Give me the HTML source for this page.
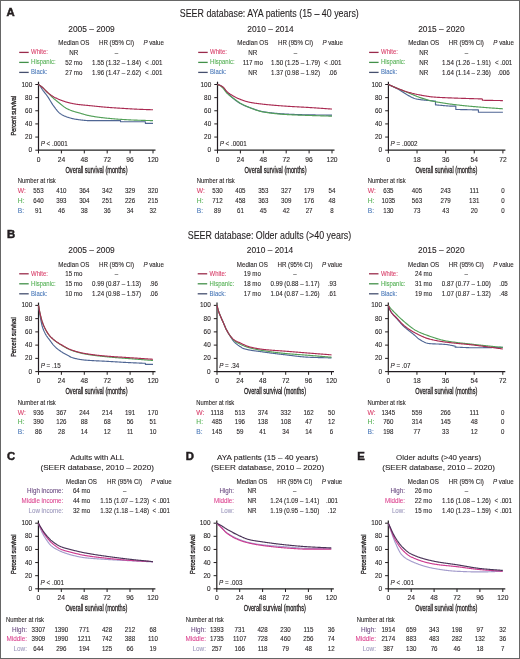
<!DOCTYPE html>
<html><head><meta charset="utf-8"><style>
html,body{margin:0;padding:0;background:#fff;}
svg{display:block;font-family:"Liberation Sans", sans-serif;}
</style></head><body>
<svg width="520" height="659" viewBox="0 0 520 659" font-family='"Liberation Sans", sans-serif' fill="#231f20">
<defs><filter id="bl" x="-5%" y="-5%" width="110%" height="110%"><feGaussianBlur stdDeviation="0.4"/></filter></defs>
<rect x="0" y="0" width="520" height="659" fill="#fff"/>
<g filter="url(#bl)">
<text x="91.50" y="31.80" font-size="8.9" text-anchor="middle" textLength="46.5" lengthAdjust="spacingAndGlyphs" stroke="#231f20" stroke-width="0.1">2005 – 2009</text>
<text x="73.80" y="44.80" font-size="7.13" text-anchor="middle" textLength="31.0" lengthAdjust="spacingAndGlyphs" stroke="#231f20" stroke-width="0.1">Median OS</text>
<text x="116.50" y="44.80" font-size="7.13" text-anchor="middle" textLength="35.1" lengthAdjust="spacingAndGlyphs" stroke="#231f20" stroke-width="0.1">HR (95% CI)</text>
<text x="153.70" y="44.80" font-size="7.13" text-anchor="middle" textLength="20.6" lengthAdjust="spacingAndGlyphs" stroke="#231f20" stroke-width="0.1"><tspan font-style="italic">P</tspan> value</text>
<text x="73.80" y="54.80" font-size="7.13" text-anchor="middle" textLength="9.0" lengthAdjust="spacingAndGlyphs" stroke="#231f20" stroke-width="0.1">NR</text>
<text x="116.50" y="54.80" font-size="7.13" text-anchor="middle" textLength="3.4" lengthAdjust="spacingAndGlyphs" stroke="#231f20" stroke-width="0.1">–</text>
<text x="73.80" y="64.80" font-size="7.13" text-anchor="middle" textLength="17.2" lengthAdjust="spacingAndGlyphs" stroke="#231f20" stroke-width="0.1">52 mo</text>
<text x="116.50" y="64.80" font-size="7.13" text-anchor="middle" textLength="48.9" lengthAdjust="spacingAndGlyphs" stroke="#231f20" stroke-width="0.1">1.55 (1.32 – 1.84)</text>
<text x="153.70" y="64.80" font-size="7.13" text-anchor="middle" textLength="17.4" lengthAdjust="spacingAndGlyphs" stroke="#231f20" stroke-width="0.1">&lt; .001</text>
<text x="73.80" y="74.80" font-size="7.13" text-anchor="middle" textLength="17.2" lengthAdjust="spacingAndGlyphs" stroke="#231f20" stroke-width="0.1">27 mo</text>
<text x="116.50" y="74.80" font-size="7.13" text-anchor="middle" textLength="48.9" lengthAdjust="spacingAndGlyphs" stroke="#231f20" stroke-width="0.1">1.96 (1.47 – 2.62)</text>
<text x="153.70" y="74.80" font-size="7.13" text-anchor="middle" textLength="17.4" lengthAdjust="spacingAndGlyphs" stroke="#231f20" stroke-width="0.1">&lt; .001</text>
<line x1="19.20" y1="52.40" x2="28.70" y2="52.40" stroke="#9a2c4c" stroke-width="1.3"/>
<text x="31.10" y="54.40" font-size="7.0" textLength="16.9" lengthAdjust="spacingAndGlyphs" fill="#d8406a" stroke="#d8406a" stroke-width="0.1">White:</text>
<line x1="19.20" y1="62.40" x2="28.70" y2="62.40" stroke="#43904a" stroke-width="1.3"/>
<text x="31.10" y="64.40" font-size="7.0" textLength="24.5" lengthAdjust="spacingAndGlyphs" fill="#55b055" stroke="#55b055" stroke-width="0.1">Hispanic:</text>
<line x1="19.20" y1="72.40" x2="28.70" y2="72.40" stroke="#45506e" stroke-width="1.3"/>
<text x="31.10" y="74.40" font-size="7.0" textLength="16.2" lengthAdjust="spacingAndGlyphs" fill="#4a78b8" stroke="#4a78b8" stroke-width="0.1">Black:</text>
<line x1="38.50" y1="81.70" x2="38.50" y2="150.70" stroke="#231f20" stroke-width="1.2"/>
<line x1="38.00" y1="150.20" x2="155.50" y2="150.20" stroke="#231f20" stroke-width="1.2"/>
<line x1="35.30" y1="150.20" x2="38.50" y2="150.20" stroke="#231f20" stroke-width="1"/>
<text x="32.20" y="152.20" font-size="6.72" text-anchor="end" textLength="3.6" lengthAdjust="spacingAndGlyphs" stroke="#231f20" stroke-width="0.1">0</text>
<line x1="35.30" y1="137.06" x2="38.50" y2="137.06" stroke="#231f20" stroke-width="1"/>
<text x="32.20" y="139.06" font-size="6.72" text-anchor="end" textLength="7.1" lengthAdjust="spacingAndGlyphs" stroke="#231f20" stroke-width="0.1">20</text>
<line x1="35.30" y1="123.92" x2="38.50" y2="123.92" stroke="#231f20" stroke-width="1"/>
<text x="32.20" y="125.92" font-size="6.72" text-anchor="end" textLength="7.1" lengthAdjust="spacingAndGlyphs" stroke="#231f20" stroke-width="0.1">40</text>
<line x1="35.30" y1="110.78" x2="38.50" y2="110.78" stroke="#231f20" stroke-width="1"/>
<text x="32.20" y="112.78" font-size="6.72" text-anchor="end" textLength="7.1" lengthAdjust="spacingAndGlyphs" stroke="#231f20" stroke-width="0.1">60</text>
<line x1="35.30" y1="97.64" x2="38.50" y2="97.64" stroke="#231f20" stroke-width="1"/>
<text x="32.20" y="99.64" font-size="6.72" text-anchor="end" textLength="7.1" lengthAdjust="spacingAndGlyphs" stroke="#231f20" stroke-width="0.1">80</text>
<line x1="35.30" y1="84.50" x2="38.50" y2="84.50" stroke="#231f20" stroke-width="1"/>
<text x="32.20" y="86.50" font-size="6.72" text-anchor="end" textLength="10.7" lengthAdjust="spacingAndGlyphs" stroke="#231f20" stroke-width="0.1">100</text>
<line x1="38.50" y1="150.20" x2="38.50" y2="153.40" stroke="#231f20" stroke-width="1"/>
<text x="38.50" y="161.80" font-size="6.7" text-anchor="middle" stroke="#231f20" stroke-width="0.1">0</text>
<line x1="61.40" y1="150.20" x2="61.40" y2="153.40" stroke="#231f20" stroke-width="1"/>
<text x="61.40" y="161.80" font-size="6.7" text-anchor="middle" stroke="#231f20" stroke-width="0.1">24</text>
<line x1="84.30" y1="150.20" x2="84.30" y2="153.40" stroke="#231f20" stroke-width="1"/>
<text x="84.30" y="161.80" font-size="6.7" text-anchor="middle" stroke="#231f20" stroke-width="0.1">48</text>
<line x1="107.20" y1="150.20" x2="107.20" y2="153.40" stroke="#231f20" stroke-width="1"/>
<text x="107.20" y="161.80" font-size="6.7" text-anchor="middle" stroke="#231f20" stroke-width="0.1">72</text>
<line x1="130.10" y1="150.20" x2="130.10" y2="153.40" stroke="#231f20" stroke-width="1"/>
<text x="130.10" y="161.80" font-size="6.7" text-anchor="middle" stroke="#231f20" stroke-width="0.1">96</text>
<line x1="153.00" y1="150.20" x2="153.00" y2="153.40" stroke="#231f20" stroke-width="1"/>
<text x="153.00" y="161.80" font-size="6.7" text-anchor="middle" stroke="#231f20" stroke-width="0.1">120</text>
<text x="40.70" y="146.30" font-size="7.24" textLength="27.0" lengthAdjust="spacingAndGlyphs" stroke="#231f20" stroke-width="0.1"><tspan font-style="italic">P</tspan> &lt; .0001</text>
<text x="65.50" y="172.50" font-size="8.3" textLength="62.0" lengthAdjust="spacingAndGlyphs" stroke="#231f20" stroke-width="0.3">Overall survival (months)</text>
<text x="0" y="0" font-size="7.2" text-anchor="middle" textLength="39.5" lengthAdjust="spacingAndGlyphs" stroke="#231f20" stroke-width="0.32" transform="translate(16.30,115.70) rotate(-90)">Percent survival</text>
<path d="M38.50,84.50 L38.98,84.97 L39.45,85.44 L39.93,85.92 L40.41,86.47 L40.89,87.13 L41.36,87.90 L41.84,88.70 L42.32,89.47 L42.79,90.17 L43.27,90.83 L43.75,91.46 L44.23,92.08 L44.70,92.69 L45.18,93.30 L45.66,93.90 L46.13,94.52 L46.61,95.14 L47.09,95.79 L47.56,96.46 L48.04,97.17 L48.52,97.90 L49.00,98.66 L49.47,99.44 L49.95,100.22 L50.43,101.01 L50.90,101.80 L51.38,102.58 L51.86,103.35 L52.34,104.10 L52.81,104.83 L53.29,105.52 L53.77,106.18 L54.24,106.82 L54.72,107.46 L55.20,108.10 L55.67,108.74 L56.15,109.36 L56.63,109.97 L57.11,110.56 L57.58,111.12 L58.06,111.65 L58.54,112.15 L59.01,112.62 L59.49,113.04 L59.97,113.41 L60.45,113.75 L60.92,114.07 L61.40,114.38 L61.88,114.67 L62.35,114.95 L62.83,115.21 L63.31,115.46 L63.79,115.70 L64.26,115.92 L64.74,116.13 L65.22,116.33 L65.69,116.52 L66.17,116.69 L66.65,116.86 L67.12,117.03 L67.60,117.19 L68.08,117.35 L68.56,117.50 L69.03,117.65 L69.51,117.79 L69.99,117.94 L70.46,118.07 L70.94,118.20 L71.42,118.33 L71.90,118.45 L72.37,118.57 L72.85,118.68 L73.33,118.79 L73.80,118.89 L74.28,118.98 L74.76,119.07 L75.24,119.16 L75.71,119.23 L76.19,119.31 L76.67,119.38 L77.14,119.44 L77.62,119.51 L78.10,119.58 L78.57,119.65 L79.05,119.71 L79.53,119.78 L80.01,119.84 L80.48,119.90 L80.96,119.97 L81.44,120.02 L81.91,120.08 L82.39,120.14 L82.87,120.19 L83.35,120.24 L83.82,120.29 L84.30,120.34 L84.78,120.38 L85.25,120.42 L85.73,120.46 L86.21,120.50 L86.69,120.53 L87.16,120.56 L87.64,120.58 L88.12,120.60 L88.59,120.61 L89.07,120.63 L89.55,120.63 L90.03,120.63 L90.50,120.63 L90.98,120.63 L91.46,120.63 L91.93,120.63 L92.41,120.63 L92.89,120.63 L93.36,120.63 L93.84,120.63 L94.32,120.63 L94.80,120.63 L95.27,120.63 L95.75,120.63 L96.23,120.63 L96.70,120.63 L97.18,120.63 L97.66,120.63 L98.14,120.63 L98.61,120.63 L99.09,120.63 L99.57,120.63 L100.04,120.63 L100.52,120.63 L101.00,120.63 L101.48,120.63 L101.95,120.63 L102.43,120.63 L102.91,120.63 L103.38,120.63 L103.86,120.63 L104.34,120.63 L104.81,120.63 L105.29,120.63 L105.77,120.63 L106.25,120.63 L106.72,120.63 L107.20,120.63 L107.68,120.63 L108.15,120.63 L108.63,120.63 L109.11,120.63 L109.59,120.63 L110.06,120.63 L110.54,120.63 L111.02,120.63 L111.49,120.63 L111.97,120.63 L112.45,120.63 L112.92,120.63 L113.40,120.63 L113.88,120.63 L114.36,120.63 L114.83,120.63 L115.31,120.63 L115.79,120.63 L116.26,120.63 L116.74,120.63 L117.22,120.63 L117.70,120.63 L118.17,120.63 L118.65,120.63 L119.13,120.63 L119.60,120.63 L120.08,120.63 L120.56,120.63 L120.56,121.75 L121.04,121.75 L121.51,121.75 L121.99,121.75 L122.47,121.75 L122.94,121.75 L123.42,121.75 L123.90,121.75 L124.38,121.75 L124.85,121.75 L125.33,121.75 L125.81,121.75 L126.28,121.75 L126.76,121.75 L127.24,121.75 L127.71,121.75 L128.19,121.75 L128.67,121.75 L129.15,121.75 L129.62,121.75 L130.10,121.75 L130.58,121.75 L131.05,121.75 L131.53,121.75 L132.01,121.75 L132.49,121.75 L132.96,121.75 L133.44,121.75 L133.92,121.75 L134.39,121.75 L134.87,121.75 L135.35,121.75 L135.82,121.75 L136.30,121.75 L136.78,121.75 L137.26,121.75 L137.73,121.75 L138.21,121.75 L138.69,121.75 L139.16,121.75 L139.64,121.75 L140.12,121.75 L140.60,121.75 L141.07,121.75 L141.55,121.75 L142.03,121.75 L142.50,121.75 L142.98,121.75 L143.46,121.75 L143.94,121.75 L144.41,121.75 L144.89,121.75 L145.37,121.75 L145.37,123.33 L145.84,123.33 L146.32,123.33 L146.80,123.33 L147.27,123.33 L147.75,123.33 L148.23,123.33 L148.71,123.33 L149.18,123.33 L149.66,123.33 L150.14,123.33 L150.61,123.33 L151.09,123.33 L151.57,123.33 L152.05,123.33 L152.52,123.33 L153.00,123.33" fill="none" stroke="#4f6694" stroke-width="1.15" stroke-linejoin="round"/>
<path d="M38.50,84.50 L38.98,84.82 L39.45,85.14 L39.93,85.45 L40.41,85.77 L40.89,86.11 L41.36,86.47 L41.84,86.86 L42.32,87.28 L42.79,87.72 L43.27,88.18 L43.75,88.64 L44.23,89.10 L44.70,89.57 L45.18,90.04 L45.66,90.53 L46.13,91.02 L46.61,91.51 L47.09,92.00 L47.56,92.48 L48.04,92.96 L48.52,93.44 L49.00,93.92 L49.47,94.41 L49.95,94.89 L50.43,95.37 L50.90,95.85 L51.38,96.32 L51.86,96.78 L52.34,97.24 L52.81,97.69 L53.29,98.13 L53.77,98.56 L54.24,98.98 L54.72,99.38 L55.20,99.78 L55.67,100.17 L56.15,100.56 L56.63,100.94 L57.11,101.32 L57.58,101.69 L58.06,102.06 L58.54,102.43 L59.01,102.80 L59.49,103.18 L59.97,103.55 L60.45,103.94 L60.92,104.33 L61.40,104.73 L61.88,105.13 L62.35,105.53 L62.83,105.92 L63.31,106.30 L63.79,106.66 L64.26,107.00 L64.74,107.32 L65.22,107.61 L65.69,107.89 L66.17,108.16 L66.65,108.42 L67.12,108.67 L67.60,108.92 L68.08,109.16 L68.56,109.38 L69.03,109.61 L69.51,109.82 L69.99,110.03 L70.46,110.23 L70.94,110.42 L71.42,110.60 L71.90,110.78 L72.37,110.95 L72.85,111.11 L73.33,111.27 L73.80,111.42 L74.28,111.56 L74.76,111.70 L75.24,111.83 L75.71,111.97 L76.19,112.10 L76.67,112.23 L77.14,112.36 L77.62,112.49 L78.10,112.62 L78.57,112.75 L79.05,112.89 L79.53,113.02 L80.01,113.16 L80.48,113.30 L80.96,113.45 L81.44,113.59 L81.91,113.73 L82.39,113.87 L82.87,114.01 L83.35,114.15 L83.82,114.29 L84.30,114.43 L84.78,114.57 L85.25,114.70 L85.73,114.83 L86.21,114.96 L86.69,115.08 L87.16,115.20 L87.64,115.32 L88.12,115.43 L88.59,115.54 L89.07,115.65 L89.55,115.75 L90.03,115.84 L90.50,115.93 L90.98,116.02 L91.46,116.10 L91.93,116.19 L92.41,116.27 L92.89,116.35 L93.36,116.43 L93.84,116.51 L94.32,116.58 L94.80,116.66 L95.27,116.73 L95.75,116.81 L96.23,116.88 L96.70,116.95 L97.18,117.01 L97.66,117.08 L98.14,117.15 L98.61,117.21 L99.09,117.28 L99.57,117.34 L100.04,117.40 L100.52,117.46 L101.00,117.52 L101.48,117.58 L101.95,117.63 L102.43,117.69 L102.91,117.74 L103.38,117.80 L103.86,117.85 L104.34,117.90 L104.81,117.96 L105.29,118.01 L105.77,118.06 L106.25,118.11 L106.72,118.16 L107.20,118.20 L107.68,118.25 L108.15,118.30 L108.63,118.35 L109.11,118.39 L109.59,118.44 L110.06,118.48 L110.54,118.53 L111.02,118.57 L111.49,118.62 L111.97,118.66 L112.45,118.70 L112.92,118.74 L113.40,118.79 L113.88,118.83 L114.36,118.87 L114.83,118.91 L115.31,118.95 L115.79,118.98 L116.26,119.02 L116.74,119.06 L117.22,119.10 L117.70,119.13 L118.17,119.17 L118.65,119.20 L119.13,119.24 L119.60,119.27 L120.08,119.30 L120.56,119.34 L121.04,119.37 L121.51,119.40 L121.99,119.43 L122.47,119.46 L122.94,119.49 L123.42,119.52 L123.90,119.55 L124.38,119.57 L124.85,119.60 L125.33,119.63 L125.81,119.66 L126.28,119.68 L126.76,119.71 L127.24,119.73 L127.71,119.76 L128.19,119.79 L128.67,119.81 L129.15,119.83 L129.62,119.86 L130.10,119.88 L130.58,119.90 L131.05,119.93 L131.53,119.95 L132.01,119.97 L132.49,119.99 L132.96,120.01 L133.44,120.04 L133.92,120.06 L134.39,120.08 L134.87,120.10 L135.35,120.12 L135.82,120.13 L136.30,120.15 L136.78,120.17 L137.26,120.19 L137.73,120.21 L138.21,120.22 L138.69,120.24 L139.16,120.26 L139.64,120.27 L140.12,120.29 L140.60,120.30 L141.07,120.32 L141.55,120.33 L142.03,120.35 L142.50,120.36 L142.98,120.37 L143.46,120.39 L143.94,120.40 L144.41,120.41 L144.89,120.43 L145.37,120.44 L145.84,120.45 L146.32,120.46 L146.80,120.48 L147.27,120.49 L147.75,120.50 L148.23,120.51 L148.71,120.52 L149.18,120.54 L149.66,120.55 L150.14,120.56 L150.61,120.57 L151.09,120.58 L151.57,120.60 L152.05,120.61 L152.52,120.62 L153.00,120.63" fill="none" stroke="#52a058" stroke-width="1.15" stroke-linejoin="round"/>
<path d="M38.50,84.50 L38.98,84.82 L39.45,85.14 L39.93,85.45 L40.41,85.77 L40.89,86.11 L41.36,86.47 L41.84,86.86 L42.32,87.28 L42.79,87.72 L43.27,88.18 L43.75,88.64 L44.23,89.10 L44.70,89.57 L45.18,90.07 L45.66,90.58 L46.13,91.08 L46.61,91.57 L47.09,92.04 L47.56,92.47 L48.04,92.87 L48.52,93.27 L49.00,93.65 L49.47,94.03 L49.95,94.39 L50.43,94.75 L50.90,95.09 L51.38,95.42 L51.86,95.73 L52.34,96.04 L52.81,96.33 L53.29,96.60 L53.77,96.88 L54.24,97.14 L54.72,97.40 L55.20,97.64 L55.67,97.89 L56.15,98.12 L56.63,98.35 L57.11,98.58 L57.58,98.80 L58.06,99.01 L58.54,99.22 L59.01,99.42 L59.49,99.62 L59.97,99.81 L60.45,100.00 L60.92,100.18 L61.40,100.37 L61.88,100.55 L62.35,100.72 L62.83,100.89 L63.31,101.06 L63.79,101.22 L64.26,101.38 L64.74,101.54 L65.22,101.69 L65.69,101.83 L66.17,101.97 L66.65,102.11 L67.12,102.24 L67.60,102.37 L68.08,102.49 L68.56,102.61 L69.03,102.73 L69.51,102.85 L69.99,102.97 L70.46,103.08 L70.94,103.19 L71.42,103.30 L71.90,103.41 L72.37,103.51 L72.85,103.61 L73.33,103.70 L73.80,103.79 L74.28,103.88 L74.76,103.97 L75.24,104.05 L75.71,104.12 L76.19,104.20 L76.67,104.26 L77.14,104.33 L77.62,104.39 L78.10,104.46 L78.57,104.51 L79.05,104.57 L79.53,104.63 L80.01,104.68 L80.48,104.73 L80.96,104.79 L81.44,104.84 L81.91,104.88 L82.39,104.93 L82.87,104.98 L83.35,105.02 L83.82,105.07 L84.30,105.11 L84.78,105.16 L85.25,105.20 L85.73,105.25 L86.21,105.29 L86.69,105.33 L87.16,105.38 L87.64,105.42 L88.12,105.47 L88.59,105.51 L89.07,105.56 L89.55,105.61 L90.03,105.66 L90.50,105.70 L90.98,105.75 L91.46,105.80 L91.93,105.85 L92.41,105.90 L92.89,105.95 L93.36,106.00 L93.84,106.05 L94.32,106.10 L94.80,106.15 L95.27,106.20 L95.75,106.25 L96.23,106.30 L96.70,106.35 L97.18,106.40 L97.66,106.45 L98.14,106.50 L98.61,106.55 L99.09,106.60 L99.57,106.64 L100.04,106.69 L100.52,106.74 L101.00,106.78 L101.48,106.83 L101.95,106.87 L102.43,106.92 L102.91,106.96 L103.38,107.00 L103.86,107.05 L104.34,107.09 L104.81,107.13 L105.29,107.17 L105.77,107.21 L106.25,107.24 L106.72,107.28 L107.20,107.32 L107.68,107.36 L108.15,107.39 L108.63,107.43 L109.11,107.46 L109.59,107.50 L110.06,107.53 L110.54,107.57 L111.02,107.60 L111.49,107.64 L111.97,107.67 L112.45,107.71 L112.92,107.74 L113.40,107.77 L113.88,107.80 L114.36,107.84 L114.83,107.87 L115.31,107.90 L115.79,107.93 L116.26,107.96 L116.74,107.99 L117.22,108.03 L117.70,108.06 L118.17,108.09 L118.65,108.12 L119.13,108.15 L119.60,108.18 L120.08,108.21 L120.56,108.24 L121.04,108.27 L121.51,108.30 L121.99,108.33 L122.47,108.36 L122.94,108.39 L123.42,108.41 L123.90,108.44 L124.38,108.47 L124.85,108.50 L125.33,108.53 L125.81,108.56 L126.28,108.59 L126.76,108.62 L127.24,108.65 L127.71,108.68 L128.19,108.71 L128.67,108.73 L129.15,108.76 L129.62,108.79 L130.10,108.82 L130.58,108.85 L131.05,108.87 L131.53,108.90 L132.01,108.93 L132.49,108.96 L132.96,108.98 L133.44,109.01 L133.92,109.03 L134.39,109.06 L134.87,109.08 L135.35,109.11 L135.82,109.13 L136.30,109.16 L136.78,109.18 L137.26,109.20 L137.73,109.23 L138.21,109.25 L138.69,109.27 L139.16,109.29 L139.64,109.31 L140.12,109.33 L140.60,109.35 L141.07,109.37 L141.55,109.39 L142.03,109.41 L142.50,109.42 L142.98,109.44 L143.46,109.46 L143.94,109.48 L144.41,109.49 L144.89,109.51 L145.37,109.53 L145.84,109.55 L146.32,109.56 L146.80,109.58 L147.27,109.59 L147.75,109.61 L148.23,109.63 L148.71,109.64 L149.18,109.66 L149.66,109.68 L150.14,109.69 L150.61,109.71 L151.09,109.73 L151.57,109.74 L152.05,109.76 L152.52,109.78 L153.00,109.79" fill="none" stroke="#aa2c52" stroke-width="1.15" stroke-linejoin="round"/>
<text x="17.80" y="183.20" font-size="7.0" textLength="38.0" lengthAdjust="spacingAndGlyphs" stroke="#231f20" stroke-width="0.1">Number at risk</text>
<text x="17.80" y="193.10" font-size="7.7" textLength="8.1" lengthAdjust="spacingAndGlyphs" fill="#d8406a" stroke="#d8406a" stroke-width="0.1">W:</text>
<text x="38.50" y="193.10" font-size="7.13" text-anchor="middle" textLength="10.3" lengthAdjust="spacingAndGlyphs" stroke="#231f20" stroke-width="0.1">553</text>
<text x="61.40" y="193.10" font-size="7.13" text-anchor="middle" textLength="10.3" lengthAdjust="spacingAndGlyphs" stroke="#231f20" stroke-width="0.1">410</text>
<text x="84.30" y="193.10" font-size="7.13" text-anchor="middle" textLength="10.3" lengthAdjust="spacingAndGlyphs" stroke="#231f20" stroke-width="0.1">364</text>
<text x="107.20" y="193.10" font-size="7.13" text-anchor="middle" textLength="10.3" lengthAdjust="spacingAndGlyphs" stroke="#231f20" stroke-width="0.1">342</text>
<text x="130.10" y="193.10" font-size="7.13" text-anchor="middle" textLength="10.3" lengthAdjust="spacingAndGlyphs" stroke="#231f20" stroke-width="0.1">329</text>
<text x="153.00" y="193.10" font-size="7.13" text-anchor="middle" textLength="10.3" lengthAdjust="spacingAndGlyphs" stroke="#231f20" stroke-width="0.1">320</text>
<text x="17.80" y="202.85" font-size="7.7" textLength="6.7" lengthAdjust="spacingAndGlyphs" fill="#55b055" stroke="#55b055" stroke-width="0.1">H:</text>
<text x="38.50" y="202.85" font-size="7.13" text-anchor="middle" textLength="10.3" lengthAdjust="spacingAndGlyphs" stroke="#231f20" stroke-width="0.1">640</text>
<text x="61.40" y="202.85" font-size="7.13" text-anchor="middle" textLength="10.3" lengthAdjust="spacingAndGlyphs" stroke="#231f20" stroke-width="0.1">393</text>
<text x="84.30" y="202.85" font-size="7.13" text-anchor="middle" textLength="10.3" lengthAdjust="spacingAndGlyphs" stroke="#231f20" stroke-width="0.1">304</text>
<text x="107.20" y="202.85" font-size="7.13" text-anchor="middle" textLength="10.3" lengthAdjust="spacingAndGlyphs" stroke="#231f20" stroke-width="0.1">251</text>
<text x="130.10" y="202.85" font-size="7.13" text-anchor="middle" textLength="10.3" lengthAdjust="spacingAndGlyphs" stroke="#231f20" stroke-width="0.1">226</text>
<text x="153.00" y="202.85" font-size="7.13" text-anchor="middle" textLength="10.3" lengthAdjust="spacingAndGlyphs" stroke="#231f20" stroke-width="0.1">215</text>
<text x="17.80" y="212.60" font-size="7.7" textLength="6.3" lengthAdjust="spacingAndGlyphs" fill="#4a78b8" stroke="#4a78b8" stroke-width="0.1">B:</text>
<text x="38.50" y="212.60" font-size="7.13" text-anchor="middle" textLength="6.9" lengthAdjust="spacingAndGlyphs" stroke="#231f20" stroke-width="0.1">91</text>
<text x="61.40" y="212.60" font-size="7.13" text-anchor="middle" textLength="6.9" lengthAdjust="spacingAndGlyphs" stroke="#231f20" stroke-width="0.1">46</text>
<text x="84.30" y="212.60" font-size="7.13" text-anchor="middle" textLength="6.9" lengthAdjust="spacingAndGlyphs" stroke="#231f20" stroke-width="0.1">38</text>
<text x="107.20" y="212.60" font-size="7.13" text-anchor="middle" textLength="6.9" lengthAdjust="spacingAndGlyphs" stroke="#231f20" stroke-width="0.1">36</text>
<text x="130.10" y="212.60" font-size="7.13" text-anchor="middle" textLength="6.9" lengthAdjust="spacingAndGlyphs" stroke="#231f20" stroke-width="0.1">34</text>
<text x="153.00" y="212.60" font-size="7.13" text-anchor="middle" textLength="6.9" lengthAdjust="spacingAndGlyphs" stroke="#231f20" stroke-width="0.1">32</text>
<text x="270.50" y="31.80" font-size="8.9" text-anchor="middle" textLength="46.5" lengthAdjust="spacingAndGlyphs" stroke="#231f20" stroke-width="0.1">2010 – 2014</text>
<text x="252.80" y="44.80" font-size="7.13" text-anchor="middle" textLength="31.0" lengthAdjust="spacingAndGlyphs" stroke="#231f20" stroke-width="0.1">Median OS</text>
<text x="295.50" y="44.80" font-size="7.13" text-anchor="middle" textLength="35.1" lengthAdjust="spacingAndGlyphs" stroke="#231f20" stroke-width="0.1">HR (95% CI)</text>
<text x="332.70" y="44.80" font-size="7.13" text-anchor="middle" textLength="20.6" lengthAdjust="spacingAndGlyphs" stroke="#231f20" stroke-width="0.1"><tspan font-style="italic">P</tspan> value</text>
<text x="252.80" y="54.80" font-size="7.13" text-anchor="middle" textLength="9.0" lengthAdjust="spacingAndGlyphs" stroke="#231f20" stroke-width="0.1">NR</text>
<text x="295.50" y="54.80" font-size="7.13" text-anchor="middle" textLength="3.4" lengthAdjust="spacingAndGlyphs" stroke="#231f20" stroke-width="0.1">–</text>
<text x="252.80" y="64.80" font-size="7.13" text-anchor="middle" textLength="20.2" lengthAdjust="spacingAndGlyphs" stroke="#231f20" stroke-width="0.1">117 mo</text>
<text x="295.50" y="64.80" font-size="7.13" text-anchor="middle" textLength="48.9" lengthAdjust="spacingAndGlyphs" stroke="#231f20" stroke-width="0.1">1.50 (1.25 – 1.79)</text>
<text x="332.70" y="64.80" font-size="7.13" text-anchor="middle" textLength="17.4" lengthAdjust="spacingAndGlyphs" stroke="#231f20" stroke-width="0.1">&lt; .001</text>
<text x="252.80" y="74.80" font-size="7.13" text-anchor="middle" textLength="9.0" lengthAdjust="spacingAndGlyphs" stroke="#231f20" stroke-width="0.1">NR</text>
<text x="295.50" y="74.80" font-size="7.13" text-anchor="middle" textLength="48.9" lengthAdjust="spacingAndGlyphs" stroke="#231f20" stroke-width="0.1">1.37 (0.98 – 1.92)</text>
<text x="332.70" y="74.80" font-size="7.13" text-anchor="middle" textLength="8.6" lengthAdjust="spacingAndGlyphs" stroke="#231f20" stroke-width="0.1">.06</text>
<line x1="198.20" y1="52.40" x2="207.70" y2="52.40" stroke="#9a2c4c" stroke-width="1.3"/>
<text x="210.10" y="54.40" font-size="7.0" textLength="16.9" lengthAdjust="spacingAndGlyphs" fill="#d8406a" stroke="#d8406a" stroke-width="0.1">White:</text>
<line x1="198.20" y1="62.40" x2="207.70" y2="62.40" stroke="#43904a" stroke-width="1.3"/>
<text x="210.10" y="64.40" font-size="7.0" textLength="24.5" lengthAdjust="spacingAndGlyphs" fill="#55b055" stroke="#55b055" stroke-width="0.1">Hispanic:</text>
<line x1="198.20" y1="72.40" x2="207.70" y2="72.40" stroke="#45506e" stroke-width="1.3"/>
<text x="210.10" y="74.40" font-size="7.0" textLength="16.2" lengthAdjust="spacingAndGlyphs" fill="#4a78b8" stroke="#4a78b8" stroke-width="0.1">Black:</text>
<line x1="217.50" y1="81.70" x2="217.50" y2="150.70" stroke="#231f20" stroke-width="1.2"/>
<line x1="217.00" y1="150.20" x2="334.50" y2="150.20" stroke="#231f20" stroke-width="1.2"/>
<line x1="214.30" y1="150.20" x2="217.50" y2="150.20" stroke="#231f20" stroke-width="1"/>
<text x="211.20" y="152.20" font-size="6.72" text-anchor="end" textLength="3.6" lengthAdjust="spacingAndGlyphs" stroke="#231f20" stroke-width="0.1">0</text>
<line x1="214.30" y1="137.06" x2="217.50" y2="137.06" stroke="#231f20" stroke-width="1"/>
<text x="211.20" y="139.06" font-size="6.72" text-anchor="end" textLength="7.1" lengthAdjust="spacingAndGlyphs" stroke="#231f20" stroke-width="0.1">20</text>
<line x1="214.30" y1="123.92" x2="217.50" y2="123.92" stroke="#231f20" stroke-width="1"/>
<text x="211.20" y="125.92" font-size="6.72" text-anchor="end" textLength="7.1" lengthAdjust="spacingAndGlyphs" stroke="#231f20" stroke-width="0.1">40</text>
<line x1="214.30" y1="110.78" x2="217.50" y2="110.78" stroke="#231f20" stroke-width="1"/>
<text x="211.20" y="112.78" font-size="6.72" text-anchor="end" textLength="7.1" lengthAdjust="spacingAndGlyphs" stroke="#231f20" stroke-width="0.1">60</text>
<line x1="214.30" y1="97.64" x2="217.50" y2="97.64" stroke="#231f20" stroke-width="1"/>
<text x="211.20" y="99.64" font-size="6.72" text-anchor="end" textLength="7.1" lengthAdjust="spacingAndGlyphs" stroke="#231f20" stroke-width="0.1">80</text>
<line x1="214.30" y1="84.50" x2="217.50" y2="84.50" stroke="#231f20" stroke-width="1"/>
<text x="211.20" y="86.50" font-size="6.72" text-anchor="end" textLength="10.7" lengthAdjust="spacingAndGlyphs" stroke="#231f20" stroke-width="0.1">100</text>
<line x1="217.50" y1="150.20" x2="217.50" y2="153.40" stroke="#231f20" stroke-width="1"/>
<text x="217.50" y="161.80" font-size="6.7" text-anchor="middle" stroke="#231f20" stroke-width="0.1">0</text>
<line x1="240.40" y1="150.20" x2="240.40" y2="153.40" stroke="#231f20" stroke-width="1"/>
<text x="240.40" y="161.80" font-size="6.7" text-anchor="middle" stroke="#231f20" stroke-width="0.1">24</text>
<line x1="263.30" y1="150.20" x2="263.30" y2="153.40" stroke="#231f20" stroke-width="1"/>
<text x="263.30" y="161.80" font-size="6.7" text-anchor="middle" stroke="#231f20" stroke-width="0.1">48</text>
<line x1="286.20" y1="150.20" x2="286.20" y2="153.40" stroke="#231f20" stroke-width="1"/>
<text x="286.20" y="161.80" font-size="6.7" text-anchor="middle" stroke="#231f20" stroke-width="0.1">72</text>
<line x1="309.10" y1="150.20" x2="309.10" y2="153.40" stroke="#231f20" stroke-width="1"/>
<text x="309.10" y="161.80" font-size="6.7" text-anchor="middle" stroke="#231f20" stroke-width="0.1">96</text>
<line x1="332.00" y1="150.20" x2="332.00" y2="153.40" stroke="#231f20" stroke-width="1"/>
<text x="332.00" y="161.80" font-size="6.7" text-anchor="middle" stroke="#231f20" stroke-width="0.1">120</text>
<text x="219.70" y="146.30" font-size="7.24" textLength="27.0" lengthAdjust="spacingAndGlyphs" stroke="#231f20" stroke-width="0.1"><tspan font-style="italic">P</tspan> &lt; .0001</text>
<text x="244.50" y="172.50" font-size="8.3" textLength="62.0" lengthAdjust="spacingAndGlyphs" stroke="#231f20" stroke-width="0.3">Overall survival (months)</text>
<path d="M217.50,84.50 L217.98,84.66 L218.45,84.80 L218.93,84.94 L219.41,85.10 L219.89,85.28 L220.36,85.49 L220.84,85.75 L221.32,86.08 L221.79,86.46 L222.27,86.88 L222.75,87.33 L223.22,87.78 L223.70,88.28 L224.18,88.84 L224.66,89.44 L225.13,90.06 L225.61,90.69 L226.09,91.29 L226.56,91.87 L227.04,92.39 L227.52,92.90 L228.00,93.40 L228.47,93.89 L228.95,94.37 L229.43,94.85 L229.90,95.32 L230.38,95.78 L230.86,96.23 L231.34,96.68 L231.81,97.11 L232.29,97.54 L232.77,97.96 L233.24,98.37 L233.72,98.78 L234.20,99.17 L234.68,99.56 L235.15,99.94 L235.63,100.31 L236.11,100.68 L236.58,101.04 L237.06,101.39 L237.54,101.74 L238.01,102.07 L238.49,102.39 L238.97,102.70 L239.45,103.00 L239.92,103.29 L240.40,103.55 L240.88,103.81 L241.35,104.06 L241.83,104.30 L242.31,104.53 L242.79,104.76 L243.26,104.99 L243.74,105.20 L244.22,105.42 L244.69,105.62 L245.17,105.83 L245.65,106.03 L246.12,106.22 L246.60,106.41 L247.08,106.60 L247.56,106.78 L248.03,106.96 L248.51,107.14 L248.99,107.32 L249.46,107.49 L249.94,107.67 L250.42,107.85 L250.90,108.02 L251.37,108.20 L251.85,108.38 L252.33,108.55 L252.80,108.73 L253.28,108.90 L253.76,109.07 L254.24,109.25 L254.71,109.42 L255.19,109.58 L255.67,109.75 L256.14,109.91 L256.62,110.07 L257.10,110.22 L257.57,110.37 L258.05,110.52 L258.53,110.66 L259.01,110.80 L259.48,110.93 L259.96,111.06 L260.44,111.18 L260.91,111.29 L261.39,111.40 L261.87,111.50 L262.35,111.60 L262.82,111.69 L263.30,111.77 L263.78,111.84 L264.25,111.91 L264.73,111.99 L265.21,112.06 L265.69,112.13 L266.16,112.19 L266.64,112.26 L267.12,112.33 L267.59,112.39 L268.07,112.46 L268.55,112.52 L269.02,112.58 L269.50,112.64 L269.98,112.70 L270.46,112.75 L270.93,112.81 L271.41,112.87 L271.89,112.92 L272.36,112.97 L272.84,113.03 L273.32,113.08 L273.80,113.13 L274.27,113.17 L274.75,113.22 L275.23,113.27 L275.70,113.31 L276.18,113.36 L276.66,113.40 L277.14,113.44 L277.61,113.48 L278.09,113.52 L278.57,113.56 L279.04,113.60 L279.52,113.64 L280.00,113.67 L280.48,113.71 L280.95,113.74 L281.43,113.78 L281.91,113.81 L282.38,113.84 L282.86,113.87 L283.34,113.90 L283.81,113.93 L284.29,113.96 L284.77,113.99 L285.25,114.01 L285.72,114.04 L286.20,114.06 L286.68,114.09 L287.15,114.11 L287.63,114.14 L288.11,114.16 L288.59,114.18 L289.06,114.21 L289.54,114.23 L290.02,114.25 L290.49,114.27 L290.97,114.29 L291.45,114.31 L291.93,114.33 L292.40,114.36 L292.88,114.38 L293.36,114.39 L293.83,114.41 L294.31,114.43 L294.79,114.45 L295.26,114.47 L295.74,114.49 L296.22,114.51 L296.70,114.52 L297.17,114.54 L297.65,114.56 L298.13,114.57 L298.60,114.59 L299.08,114.60 L299.56,114.62 L300.04,114.63 L300.51,114.65 L300.99,114.66 L301.47,114.68 L301.94,114.69 L302.42,114.70 L302.90,114.72 L303.38,114.73 L303.85,114.74 L304.33,114.75 L304.81,114.77 L305.28,114.78 L305.76,114.79 L306.24,114.80 L306.71,114.81 L307.19,114.82 L307.67,114.83 L308.15,114.84 L308.62,114.85 L309.10,114.85 L309.58,114.86 L310.05,114.87 L310.53,114.88 L311.01,114.88 L311.49,114.89 L311.96,114.90 L312.44,114.91 L312.92,114.91 L313.39,114.92 L313.87,114.93 L314.35,114.93 L314.82,114.94 L315.30,114.94 L315.78,114.95 L316.26,114.95 L316.73,114.96 L317.21,114.97 L317.69,114.97 L318.16,114.98 L318.64,114.98 L319.12,114.99 L319.60,114.99 L320.07,115.00 L320.55,115.00 L321.03,115.01 L321.50,115.01 L321.98,115.02 L322.46,115.02 L322.94,115.02 L323.41,115.03 L323.89,115.03 L324.37,115.04 L324.84,115.04 L325.32,115.05 L325.80,115.05 L326.27,115.06 L326.75,115.06 L327.23,115.07 L327.71,115.07 L328.18,115.08 L328.66,115.08 L329.14,115.09 L329.61,115.09 L330.09,115.10 L330.57,115.10 L331.05,115.11 L331.52,115.11 L332.00,115.12" fill="none" stroke="#4f6694" stroke-width="1.15" stroke-linejoin="round"/>
<path d="M217.50,84.50 L217.98,84.71 L218.45,84.91 L218.93,85.10 L219.41,85.31 L219.89,85.54 L220.36,85.81 L220.84,86.14 L221.32,86.53 L221.79,86.97 L222.27,87.44 L222.75,87.94 L223.22,88.44 L223.70,88.99 L224.18,89.59 L224.66,90.24 L225.13,90.90 L225.61,91.55 L226.09,92.17 L226.56,92.74 L227.04,93.23 L227.52,93.69 L228.00,94.14 L228.47,94.56 L228.95,94.98 L229.43,95.37 L229.90,95.76 L230.38,96.14 L230.86,96.50 L231.34,96.86 L231.81,97.21 L232.29,97.56 L232.77,97.90 L233.24,98.24 L233.72,98.58 L234.20,98.92 L234.68,99.26 L235.15,99.61 L235.63,99.96 L236.11,100.31 L236.58,100.66 L237.06,101.01 L237.54,101.36 L238.01,101.69 L238.49,102.02 L238.97,102.34 L239.45,102.65 L239.92,102.94 L240.40,103.22 L240.88,103.49 L241.35,103.76 L241.83,104.01 L242.31,104.27 L242.79,104.51 L243.26,104.76 L243.74,104.99 L244.22,105.22 L244.69,105.45 L245.17,105.68 L245.65,105.89 L246.12,106.11 L246.60,106.32 L247.08,106.52 L247.56,106.73 L248.03,106.92 L248.51,107.12 L248.99,107.31 L249.46,107.49 L249.94,107.68 L250.42,107.87 L250.90,108.05 L251.37,108.24 L251.85,108.42 L252.33,108.61 L252.80,108.79 L253.28,108.97 L253.76,109.15 L254.24,109.33 L254.71,109.51 L255.19,109.68 L255.67,109.85 L256.14,110.02 L256.62,110.18 L257.10,110.34 L257.57,110.50 L258.05,110.65 L258.53,110.80 L259.01,110.94 L259.48,111.08 L259.96,111.21 L260.44,111.34 L260.91,111.46 L261.39,111.57 L261.87,111.68 L262.35,111.78 L262.82,111.88 L263.30,111.96 L263.78,112.04 L264.25,112.13 L264.73,112.20 L265.21,112.28 L265.69,112.36 L266.16,112.43 L266.64,112.51 L267.12,112.58 L267.59,112.65 L268.07,112.72 L268.55,112.79 L269.02,112.86 L269.50,112.92 L269.98,112.99 L270.46,113.05 L270.93,113.11 L271.41,113.18 L271.89,113.24 L272.36,113.29 L272.84,113.35 L273.32,113.41 L273.80,113.46 L274.27,113.52 L274.75,113.57 L275.23,113.62 L275.70,113.67 L276.18,113.72 L276.66,113.77 L277.14,113.82 L277.61,113.86 L278.09,113.91 L278.57,113.95 L279.04,114.00 L279.52,114.04 L280.00,114.08 L280.48,114.12 L280.95,114.16 L281.43,114.20 L281.91,114.23 L282.38,114.27 L282.86,114.31 L283.34,114.34 L283.81,114.37 L284.29,114.40 L284.77,114.44 L285.25,114.47 L285.72,114.50 L286.20,114.52 L286.68,114.55 L287.15,114.58 L287.63,114.61 L288.11,114.63 L288.59,114.66 L289.06,114.68 L289.54,114.71 L290.02,114.73 L290.49,114.75 L290.97,114.78 L291.45,114.80 L291.93,114.82 L292.40,114.84 L292.88,114.86 L293.36,114.88 L293.83,114.90 L294.31,114.92 L294.79,114.94 L295.26,114.96 L295.74,114.98 L296.22,115.00 L296.70,115.02 L297.17,115.04 L297.65,115.05 L298.13,115.07 L298.60,115.09 L299.08,115.10 L299.56,115.12 L300.04,115.14 L300.51,115.15 L300.99,115.17 L301.47,115.19 L301.94,115.20 L302.42,115.22 L302.90,115.23 L303.38,115.25 L303.85,115.27 L304.33,115.28 L304.81,115.30 L305.28,115.31 L305.76,115.33 L306.24,115.35 L306.71,115.36 L307.19,115.38 L307.67,115.39 L308.15,115.41 L308.62,115.43 L309.10,115.44 L309.58,115.46 L310.05,115.48 L310.53,115.49 L311.01,115.51 L311.49,115.53 L311.96,115.54 L312.44,115.56 L312.92,115.58 L313.39,115.59 L313.87,115.61 L314.35,115.62 L314.82,115.64 L315.30,115.65 L315.78,115.67 L316.26,115.68 L316.73,115.70 L317.21,115.71 L317.69,115.73 L318.16,115.74 L318.64,115.76 L319.12,115.77 L319.60,115.79 L320.07,115.80 L320.55,115.82 L321.03,115.83 L321.50,115.85 L321.98,115.86 L322.46,115.88 L322.94,115.89 L323.41,115.90 L323.89,115.92 L324.37,115.93 L324.84,115.95 L325.32,115.96 L325.80,115.98 L326.27,115.99 L326.75,116.01 L327.23,116.02 L327.71,116.03 L328.18,116.05 L328.66,116.06 L329.14,116.08 L329.61,116.09 L330.09,116.11 L330.57,116.12 L331.05,116.14 L331.52,116.15 L332.00,116.17" fill="none" stroke="#52a058" stroke-width="1.15" stroke-linejoin="round"/>
<path d="M217.50,84.50 L217.98,84.66 L218.45,84.81 L218.93,84.96 L219.41,85.12 L219.89,85.29 L220.36,85.49 L220.84,85.70 L221.32,85.93 L221.79,86.19 L222.27,86.47 L222.75,86.78 L223.22,87.13 L223.70,87.56 L224.18,88.12 L224.66,88.74 L225.13,89.41 L225.61,90.08 L226.09,90.70 L226.56,91.25 L227.04,91.70 L227.52,92.10 L228.00,92.49 L228.47,92.87 L228.95,93.23 L229.43,93.57 L229.90,93.90 L230.38,94.22 L230.86,94.53 L231.34,94.83 L231.81,95.12 L232.29,95.40 L232.77,95.67 L233.24,95.94 L233.72,96.21 L234.20,96.47 L234.68,96.73 L235.15,96.98 L235.63,97.24 L236.11,97.48 L236.58,97.73 L237.06,97.96 L237.54,98.19 L238.01,98.41 L238.49,98.63 L238.97,98.84 L239.45,99.04 L239.92,99.23 L240.40,99.41 L240.88,99.59 L241.35,99.77 L241.83,99.95 L242.31,100.12 L242.79,100.30 L243.26,100.47 L243.74,100.63 L244.22,100.79 L244.69,100.95 L245.17,101.11 L245.65,101.25 L246.12,101.40 L246.60,101.54 L247.08,101.67 L247.56,101.80 L248.03,101.92 L248.51,102.03 L248.99,102.14 L249.46,102.24 L249.94,102.33 L250.42,102.43 L250.90,102.51 L251.37,102.60 L251.85,102.69 L252.33,102.77 L252.80,102.85 L253.28,102.92 L253.76,103.00 L254.24,103.07 L254.71,103.15 L255.19,103.21 L255.67,103.28 L256.14,103.35 L256.62,103.41 L257.10,103.48 L257.57,103.54 L258.05,103.60 L258.53,103.66 L259.01,103.72 L259.48,103.78 L259.96,103.83 L260.44,103.89 L260.91,103.94 L261.39,104.00 L261.87,104.05 L262.35,104.10 L262.82,104.16 L263.30,104.21 L263.78,104.26 L264.25,104.31 L264.73,104.36 L265.21,104.41 L265.69,104.46 L266.16,104.51 L266.64,104.56 L267.12,104.61 L267.59,104.66 L268.07,104.70 L268.55,104.75 L269.02,104.80 L269.50,104.84 L269.98,104.89 L270.46,104.93 L270.93,104.98 L271.41,105.02 L271.89,105.06 L272.36,105.11 L272.84,105.15 L273.32,105.19 L273.80,105.23 L274.27,105.27 L274.75,105.31 L275.23,105.35 L275.70,105.39 L276.18,105.43 L276.66,105.47 L277.14,105.51 L277.61,105.55 L278.09,105.58 L278.57,105.62 L279.04,105.66 L279.52,105.70 L280.00,105.73 L280.48,105.77 L280.95,105.80 L281.43,105.84 L281.91,105.88 L282.38,105.91 L282.86,105.95 L283.34,105.98 L283.81,106.01 L284.29,106.05 L284.77,106.08 L285.25,106.11 L285.72,106.15 L286.20,106.18 L286.68,106.21 L287.15,106.25 L287.63,106.28 L288.11,106.31 L288.59,106.34 L289.06,106.37 L289.54,106.40 L290.02,106.43 L290.49,106.46 L290.97,106.48 L291.45,106.51 L291.93,106.54 L292.40,106.57 L292.88,106.60 L293.36,106.62 L293.83,106.65 L294.31,106.68 L294.79,106.70 L295.26,106.73 L295.74,106.75 L296.22,106.78 L296.70,106.80 L297.17,106.83 L297.65,106.86 L298.13,106.88 L298.60,106.91 L299.08,106.93 L299.56,106.96 L300.04,106.98 L300.51,107.01 L300.99,107.03 L301.47,107.06 L301.94,107.08 L302.42,107.11 L302.90,107.14 L303.38,107.16 L303.85,107.19 L304.33,107.21 L304.81,107.24 L305.28,107.27 L305.76,107.30 L306.24,107.32 L306.71,107.35 L307.19,107.38 L307.67,107.41 L308.15,107.44 L308.62,107.47 L309.10,107.49 L309.58,107.52 L310.05,107.56 L310.53,107.59 L311.01,107.62 L311.49,107.65 L311.96,107.68 L312.44,107.71 L312.92,107.74 L313.39,107.77 L313.87,107.80 L314.35,107.84 L314.82,107.87 L315.30,107.90 L315.78,107.93 L316.26,107.97 L316.73,108.00 L317.21,108.03 L317.69,108.07 L318.16,108.10 L318.64,108.13 L319.12,108.17 L319.60,108.20 L320.07,108.23 L320.55,108.27 L321.03,108.30 L321.50,108.33 L321.98,108.37 L322.46,108.40 L322.94,108.43 L323.41,108.47 L323.89,108.50 L324.37,108.54 L324.84,108.57 L325.32,108.60 L325.80,108.64 L326.27,108.67 L326.75,108.70 L327.23,108.74 L327.71,108.77 L328.18,108.81 L328.66,108.84 L329.14,108.87 L329.61,108.91 L330.09,108.94 L330.57,108.97 L331.05,109.01 L331.52,109.04 L332.00,109.07" fill="none" stroke="#aa2c52" stroke-width="1.15" stroke-linejoin="round"/>
<text x="196.80" y="183.20" font-size="7.0" textLength="38.0" lengthAdjust="spacingAndGlyphs" stroke="#231f20" stroke-width="0.1">Number at risk</text>
<text x="196.80" y="193.10" font-size="7.7" textLength="8.1" lengthAdjust="spacingAndGlyphs" fill="#d8406a" stroke="#d8406a" stroke-width="0.1">W:</text>
<text x="217.50" y="193.10" font-size="7.13" text-anchor="middle" textLength="10.3" lengthAdjust="spacingAndGlyphs" stroke="#231f20" stroke-width="0.1">530</text>
<text x="240.40" y="193.10" font-size="7.13" text-anchor="middle" textLength="10.3" lengthAdjust="spacingAndGlyphs" stroke="#231f20" stroke-width="0.1">405</text>
<text x="263.30" y="193.10" font-size="7.13" text-anchor="middle" textLength="10.3" lengthAdjust="spacingAndGlyphs" stroke="#231f20" stroke-width="0.1">353</text>
<text x="286.20" y="193.10" font-size="7.13" text-anchor="middle" textLength="10.3" lengthAdjust="spacingAndGlyphs" stroke="#231f20" stroke-width="0.1">327</text>
<text x="309.10" y="193.10" font-size="7.13" text-anchor="middle" textLength="10.3" lengthAdjust="spacingAndGlyphs" stroke="#231f20" stroke-width="0.1">179</text>
<text x="332.00" y="193.10" font-size="7.13" text-anchor="middle" textLength="6.9" lengthAdjust="spacingAndGlyphs" stroke="#231f20" stroke-width="0.1">54</text>
<text x="196.80" y="202.85" font-size="7.7" textLength="6.7" lengthAdjust="spacingAndGlyphs" fill="#55b055" stroke="#55b055" stroke-width="0.1">H:</text>
<text x="217.50" y="202.85" font-size="7.13" text-anchor="middle" textLength="10.3" lengthAdjust="spacingAndGlyphs" stroke="#231f20" stroke-width="0.1">712</text>
<text x="240.40" y="202.85" font-size="7.13" text-anchor="middle" textLength="10.3" lengthAdjust="spacingAndGlyphs" stroke="#231f20" stroke-width="0.1">458</text>
<text x="263.30" y="202.85" font-size="7.13" text-anchor="middle" textLength="10.3" lengthAdjust="spacingAndGlyphs" stroke="#231f20" stroke-width="0.1">363</text>
<text x="286.20" y="202.85" font-size="7.13" text-anchor="middle" textLength="10.3" lengthAdjust="spacingAndGlyphs" stroke="#231f20" stroke-width="0.1">309</text>
<text x="309.10" y="202.85" font-size="7.13" text-anchor="middle" textLength="10.3" lengthAdjust="spacingAndGlyphs" stroke="#231f20" stroke-width="0.1">176</text>
<text x="332.00" y="202.85" font-size="7.13" text-anchor="middle" textLength="6.9" lengthAdjust="spacingAndGlyphs" stroke="#231f20" stroke-width="0.1">48</text>
<text x="196.80" y="212.60" font-size="7.7" textLength="6.3" lengthAdjust="spacingAndGlyphs" fill="#4a78b8" stroke="#4a78b8" stroke-width="0.1">B:</text>
<text x="217.50" y="212.60" font-size="7.13" text-anchor="middle" textLength="6.9" lengthAdjust="spacingAndGlyphs" stroke="#231f20" stroke-width="0.1">89</text>
<text x="240.40" y="212.60" font-size="7.13" text-anchor="middle" textLength="6.9" lengthAdjust="spacingAndGlyphs" stroke="#231f20" stroke-width="0.1">61</text>
<text x="263.30" y="212.60" font-size="7.13" text-anchor="middle" textLength="6.9" lengthAdjust="spacingAndGlyphs" stroke="#231f20" stroke-width="0.1">45</text>
<text x="286.20" y="212.60" font-size="7.13" text-anchor="middle" textLength="6.9" lengthAdjust="spacingAndGlyphs" stroke="#231f20" stroke-width="0.1">42</text>
<text x="309.10" y="212.60" font-size="7.13" text-anchor="middle" textLength="6.9" lengthAdjust="spacingAndGlyphs" stroke="#231f20" stroke-width="0.1">27</text>
<text x="332.00" y="212.60" font-size="7.13" text-anchor="middle" textLength="3.4" lengthAdjust="spacingAndGlyphs" stroke="#231f20" stroke-width="0.1">8</text>
<text x="441.40" y="31.80" font-size="8.9" text-anchor="middle" textLength="46.5" lengthAdjust="spacingAndGlyphs" stroke="#231f20" stroke-width="0.1">2015 – 2020</text>
<text x="423.70" y="44.80" font-size="7.13" text-anchor="middle" textLength="31.0" lengthAdjust="spacingAndGlyphs" stroke="#231f20" stroke-width="0.1">Median OS</text>
<text x="466.40" y="44.80" font-size="7.13" text-anchor="middle" textLength="35.1" lengthAdjust="spacingAndGlyphs" stroke="#231f20" stroke-width="0.1">HR (95% CI)</text>
<text x="503.60" y="44.80" font-size="7.13" text-anchor="middle" textLength="20.6" lengthAdjust="spacingAndGlyphs" stroke="#231f20" stroke-width="0.1"><tspan font-style="italic">P</tspan> value</text>
<text x="423.70" y="54.80" font-size="7.13" text-anchor="middle" textLength="9.0" lengthAdjust="spacingAndGlyphs" stroke="#231f20" stroke-width="0.1">NR</text>
<text x="466.40" y="54.80" font-size="7.13" text-anchor="middle" textLength="3.4" lengthAdjust="spacingAndGlyphs" stroke="#231f20" stroke-width="0.1">–</text>
<text x="423.70" y="64.80" font-size="7.13" text-anchor="middle" textLength="9.0" lengthAdjust="spacingAndGlyphs" stroke="#231f20" stroke-width="0.1">NR</text>
<text x="466.40" y="64.80" font-size="7.13" text-anchor="middle" textLength="48.9" lengthAdjust="spacingAndGlyphs" stroke="#231f20" stroke-width="0.1">1.54 (1.26 – 1.91)</text>
<text x="503.60" y="64.80" font-size="7.13" text-anchor="middle" textLength="17.4" lengthAdjust="spacingAndGlyphs" stroke="#231f20" stroke-width="0.1">&lt; .001</text>
<text x="423.70" y="74.80" font-size="7.13" text-anchor="middle" textLength="9.0" lengthAdjust="spacingAndGlyphs" stroke="#231f20" stroke-width="0.1">NR</text>
<text x="466.40" y="74.80" font-size="7.13" text-anchor="middle" textLength="48.9" lengthAdjust="spacingAndGlyphs" stroke="#231f20" stroke-width="0.1">1.64 (1.14 – 2.36)</text>
<text x="503.60" y="74.80" font-size="7.13" text-anchor="middle" textLength="12.1" lengthAdjust="spacingAndGlyphs" stroke="#231f20" stroke-width="0.1">.006</text>
<line x1="369.10" y1="52.40" x2="378.60" y2="52.40" stroke="#9a2c4c" stroke-width="1.3"/>
<text x="381.00" y="54.40" font-size="7.0" textLength="16.9" lengthAdjust="spacingAndGlyphs" fill="#d8406a" stroke="#d8406a" stroke-width="0.1">White:</text>
<line x1="369.10" y1="62.40" x2="378.60" y2="62.40" stroke="#43904a" stroke-width="1.3"/>
<text x="381.00" y="64.40" font-size="7.0" textLength="24.5" lengthAdjust="spacingAndGlyphs" fill="#55b055" stroke="#55b055" stroke-width="0.1">Hispanic:</text>
<line x1="369.10" y1="72.40" x2="378.60" y2="72.40" stroke="#45506e" stroke-width="1.3"/>
<text x="381.00" y="74.40" font-size="7.0" textLength="16.2" lengthAdjust="spacingAndGlyphs" fill="#4a78b8" stroke="#4a78b8" stroke-width="0.1">Black:</text>
<line x1="388.40" y1="81.70" x2="388.40" y2="150.70" stroke="#231f20" stroke-width="1.2"/>
<line x1="387.90" y1="150.20" x2="505.40" y2="150.20" stroke="#231f20" stroke-width="1.2"/>
<line x1="385.20" y1="150.20" x2="388.40" y2="150.20" stroke="#231f20" stroke-width="1"/>
<text x="382.10" y="152.20" font-size="6.72" text-anchor="end" textLength="3.6" lengthAdjust="spacingAndGlyphs" stroke="#231f20" stroke-width="0.1">0</text>
<line x1="385.20" y1="137.06" x2="388.40" y2="137.06" stroke="#231f20" stroke-width="1"/>
<text x="382.10" y="139.06" font-size="6.72" text-anchor="end" textLength="7.1" lengthAdjust="spacingAndGlyphs" stroke="#231f20" stroke-width="0.1">20</text>
<line x1="385.20" y1="123.92" x2="388.40" y2="123.92" stroke="#231f20" stroke-width="1"/>
<text x="382.10" y="125.92" font-size="6.72" text-anchor="end" textLength="7.1" lengthAdjust="spacingAndGlyphs" stroke="#231f20" stroke-width="0.1">40</text>
<line x1="385.20" y1="110.78" x2="388.40" y2="110.78" stroke="#231f20" stroke-width="1"/>
<text x="382.10" y="112.78" font-size="6.72" text-anchor="end" textLength="7.1" lengthAdjust="spacingAndGlyphs" stroke="#231f20" stroke-width="0.1">60</text>
<line x1="385.20" y1="97.64" x2="388.40" y2="97.64" stroke="#231f20" stroke-width="1"/>
<text x="382.10" y="99.64" font-size="6.72" text-anchor="end" textLength="7.1" lengthAdjust="spacingAndGlyphs" stroke="#231f20" stroke-width="0.1">80</text>
<line x1="385.20" y1="84.50" x2="388.40" y2="84.50" stroke="#231f20" stroke-width="1"/>
<text x="382.10" y="86.50" font-size="6.72" text-anchor="end" textLength="10.7" lengthAdjust="spacingAndGlyphs" stroke="#231f20" stroke-width="0.1">100</text>
<line x1="388.40" y1="150.20" x2="388.40" y2="153.40" stroke="#231f20" stroke-width="1"/>
<text x="388.40" y="161.80" font-size="6.7" text-anchor="middle" stroke="#231f20" stroke-width="0.1">0</text>
<line x1="417.02" y1="150.20" x2="417.02" y2="153.40" stroke="#231f20" stroke-width="1"/>
<text x="417.02" y="161.80" font-size="6.7" text-anchor="middle" stroke="#231f20" stroke-width="0.1">18</text>
<line x1="445.65" y1="150.20" x2="445.65" y2="153.40" stroke="#231f20" stroke-width="1"/>
<text x="445.65" y="161.80" font-size="6.7" text-anchor="middle" stroke="#231f20" stroke-width="0.1">36</text>
<line x1="474.27" y1="150.20" x2="474.27" y2="153.40" stroke="#231f20" stroke-width="1"/>
<text x="474.27" y="161.80" font-size="6.7" text-anchor="middle" stroke="#231f20" stroke-width="0.1">54</text>
<line x1="502.90" y1="150.20" x2="502.90" y2="153.40" stroke="#231f20" stroke-width="1"/>
<text x="502.90" y="161.80" font-size="6.7" text-anchor="middle" stroke="#231f20" stroke-width="0.1">72</text>
<text x="390.60" y="146.30" font-size="7.24" textLength="27.0" lengthAdjust="spacingAndGlyphs" stroke="#231f20" stroke-width="0.1"><tspan font-style="italic">P</tspan> = .0002</text>
<text x="415.40" y="172.50" font-size="8.3" textLength="62.0" lengthAdjust="spacingAndGlyphs" stroke="#231f20" stroke-width="0.3">Overall survival (months)</text>
<path d="M388.40,84.50 L389.20,84.88 L389.99,85.26 L390.79,85.63 L391.58,86.00 L392.38,86.37 L393.17,86.74 L393.97,87.11 L394.76,87.49 L395.56,87.87 L396.35,88.26 L397.15,88.66 L397.94,89.07 L398.74,89.49 L399.53,89.94 L400.33,90.41 L401.12,90.91 L401.92,91.44 L402.71,91.98 L403.51,92.52 L404.30,93.06 L405.10,93.59 L405.89,94.09 L406.69,94.57 L407.48,95.01 L408.28,95.44 L409.07,95.87 L409.87,96.30 L410.66,96.73 L411.46,97.14 L412.25,97.54 L413.05,97.90 L413.84,98.23 L414.64,98.52 L415.43,98.77 L416.23,98.95 L417.02,99.11 L417.82,99.25 L418.62,99.38 L419.41,99.51 L420.21,99.62 L421.00,99.73 L421.80,99.83 L422.59,99.93 L423.39,100.02 L424.18,100.10 L424.98,100.19 L425.77,100.26 L426.57,100.34 L427.36,100.41 L428.16,100.48 L428.95,100.55 L429.75,100.62 L430.54,100.69 L431.34,100.77 L432.13,100.84 L432.93,100.92 L433.72,101.00 L434.52,101.08 L435.31,101.17 L435.47,101.19 L435.47,104.87 L436.27,104.93 L437.06,104.99 L437.86,105.06 L438.65,105.13 L439.45,105.20 L440.24,105.28 L441.04,105.36 L441.83,105.43 L442.63,105.51 L443.42,105.59 L444.22,105.66 L445.01,105.73 L445.81,105.80 L446.60,105.87 L447.40,105.93 L448.19,105.98 L448.99,106.03 L449.78,106.08 L450.58,106.11 L451.38,106.14 L452.17,106.17 L452.97,106.18 L453.76,106.18 L454.56,106.18 L455.35,106.18 L455.83,106.18 L455.83,109.47 L456.62,109.48 L457.42,109.50 L458.21,109.51 L459.01,109.53 L459.80,109.55 L460.60,109.56 L461.39,109.58 L462.19,109.60 L462.98,109.61 L463.78,109.63 L464.57,109.64 L465.37,109.66 L466.16,109.68 L466.96,109.69 L467.75,109.71 L468.55,109.73 L469.35,109.74 L470.14,109.76 L470.94,109.77 L471.73,109.79 L472.53,109.81 L473.32,109.82 L474.12,109.84 L474.91,109.85 L475.71,109.87 L476.50,109.89 L477.30,109.90 L478.09,109.92 L478.41,109.93 L478.41,112.23 L479.20,112.23 L480.00,112.23 L480.80,112.23 L481.59,112.23 L482.39,112.23 L483.18,112.23 L483.98,112.23 L484.77,112.23 L485.57,112.23 L486.36,112.23 L487.16,112.23 L487.95,112.23 L488.75,112.23 L489.54,112.23 L490.34,112.23 L491.13,112.23 L491.93,112.23 L492.72,112.23 L493.52,112.23 L494.31,112.23 L495.11,112.23 L495.90,112.23 L496.70,112.23 L497.49,112.23 L498.29,112.23 L499.08,112.23 L499.88,112.23 L500.67,112.23 L501.47,112.23 L502.26,112.23 L502.90,112.23" fill="none" stroke="#4f6694" stroke-width="1.15" stroke-linejoin="round"/>
<path d="M388.40,84.50 L389.20,84.84 L389.99,85.18 L390.79,85.52 L391.58,85.86 L392.38,86.20 L393.17,86.54 L393.97,86.88 L394.76,87.22 L395.56,87.56 L396.35,87.90 L397.15,88.23 L397.94,88.57 L398.74,88.90 L399.53,89.23 L400.33,89.56 L401.12,89.89 L401.92,90.21 L402.71,90.53 L403.51,90.86 L404.30,91.18 L405.10,91.50 L405.89,91.82 L406.69,92.14 L407.48,92.46 L408.28,92.78 L409.07,93.11 L409.87,93.43 L410.66,93.77 L411.46,94.11 L412.25,94.45 L413.05,94.80 L413.84,95.14 L414.64,95.48 L415.43,95.82 L416.23,96.15 L417.02,96.47 L417.82,96.78 L418.62,97.08 L419.41,97.37 L420.21,97.64 L421.00,97.90 L421.80,98.16 L422.59,98.42 L423.39,98.67 L424.18,98.91 L424.98,99.15 L425.77,99.39 L426.57,99.62 L427.36,99.84 L428.16,100.06 L428.95,100.26 L429.75,100.47 L430.54,100.66 L431.34,100.84 L432.13,101.02 L432.93,101.19 L433.72,101.35 L434.52,101.51 L435.31,101.66 L436.11,101.81 L436.90,101.96 L437.70,102.10 L438.49,102.25 L439.29,102.39 L440.08,102.52 L440.88,102.66 L441.67,102.79 L442.47,102.91 L443.26,103.04 L444.06,103.16 L444.85,103.28 L445.65,103.40 L446.45,103.52 L447.24,103.63 L448.04,103.75 L448.83,103.86 L449.63,103.96 L450.42,104.07 L451.22,104.18 L452.01,104.28 L452.81,104.38 L453.60,104.48 L454.40,104.58 L455.19,104.68 L455.99,104.77 L456.78,104.87 L457.58,104.96 L458.37,105.05 L459.17,105.14 L459.96,105.23 L460.76,105.32 L461.55,105.40 L462.35,105.49 L463.14,105.57 L463.94,105.65 L464.73,105.73 L465.53,105.81 L466.32,105.89 L467.12,105.97 L467.91,106.05 L468.71,106.12 L469.50,106.20 L470.30,106.27 L471.09,106.34 L471.89,106.41 L472.68,106.49 L473.48,106.56 L474.27,106.63 L475.07,106.69 L475.87,106.76 L476.66,106.83 L477.46,106.90 L478.25,106.97 L479.05,107.03 L479.84,107.10 L480.64,107.17 L481.43,107.23 L482.23,107.30 L483.02,107.36 L483.82,107.42 L484.61,107.49 L485.41,107.55 L486.20,107.61 L487.00,107.67 L487.79,107.73 L488.59,107.78 L489.38,107.84 L490.18,107.90 L490.97,107.96 L491.77,108.01 L492.56,108.07 L493.36,108.13 L494.15,108.18 L494.95,108.24 L495.74,108.30 L496.54,108.35 L497.33,108.41 L498.13,108.46 L498.92,108.52 L499.72,108.58 L500.51,108.64 L501.31,108.69 L502.10,108.75 L502.90,108.81" fill="none" stroke="#52a058" stroke-width="1.15" stroke-linejoin="round"/>
<path d="M388.40,84.50 L389.20,84.84 L389.99,85.19 L390.79,85.53 L391.58,85.89 L392.38,86.24 L393.17,86.59 L393.97,86.94 L394.76,87.28 L395.56,87.62 L396.35,87.96 L397.15,88.29 L397.94,88.61 L398.74,88.92 L399.53,89.22 L400.33,89.52 L401.12,89.81 L401.92,90.10 L402.71,90.39 L403.51,90.67 L404.30,90.94 L405.10,91.21 L405.89,91.47 L406.69,91.73 L407.48,91.97 L408.28,92.20 L409.07,92.43 L409.87,92.65 L410.66,92.86 L411.46,93.06 L412.25,93.27 L413.05,93.46 L413.84,93.66 L414.64,93.84 L415.43,94.03 L416.23,94.20 L417.02,94.38 L417.82,94.54 L418.62,94.70 L419.41,94.86 L420.21,95.01 L421.00,95.16 L421.80,95.31 L422.59,95.46 L423.39,95.61 L424.18,95.75 L424.98,95.89 L425.77,96.03 L426.57,96.17 L427.36,96.30 L428.16,96.42 L428.95,96.53 L429.75,96.64 L430.54,96.74 L431.34,96.83 L432.13,96.91 L432.93,96.98 L433.72,97.05 L434.52,97.10 L435.31,97.16 L436.11,97.22 L436.90,97.27 L437.70,97.32 L438.49,97.36 L439.29,97.41 L440.08,97.45 L440.88,97.49 L441.67,97.53 L442.47,97.57 L443.26,97.61 L444.06,97.64 L444.85,97.68 L445.65,97.71 L446.45,97.74 L447.24,97.78 L448.04,97.81 L448.83,97.84 L449.63,97.87 L450.42,97.90 L451.22,97.94 L452.01,97.97 L452.81,98.00 L453.60,98.03 L454.40,98.06 L455.19,98.09 L455.99,98.12 L456.78,98.15 L457.58,98.18 L458.37,98.21 L459.17,98.23 L459.96,98.26 L460.76,98.29 L461.55,98.31 L462.35,98.34 L463.14,98.37 L463.94,98.39 L464.73,98.42 L465.53,98.44 L466.32,98.47 L467.12,98.49 L467.91,98.51 L468.71,98.54 L469.50,98.56 L470.30,98.59 L471.09,98.61 L471.89,98.63 L472.68,98.66 L473.48,98.68 L474.27,98.70 L475.07,98.73 L475.87,98.75 L476.66,98.78 L477.46,98.80 L478.25,98.82 L479.05,98.85 L479.84,98.87 L480.64,98.90 L481.43,98.92 L482.23,98.95 L482.39,98.95 L482.39,100.27 L483.18,100.28 L483.98,100.29 L484.77,100.31 L485.57,100.32 L486.36,100.33 L487.16,100.34 L487.95,100.36 L488.75,100.37 L489.54,100.38 L490.34,100.40 L491.13,100.41 L491.93,100.42 L492.72,100.43 L493.52,100.45 L494.31,100.46 L495.11,100.47 L495.90,100.48 L496.70,100.50 L497.49,100.51 L498.29,100.52 L499.08,100.54 L499.88,100.55 L500.67,100.56 L501.47,100.57 L502.26,100.59 L502.90,100.60" fill="none" stroke="#aa2c52" stroke-width="1.15" stroke-linejoin="round"/>
<text x="367.70" y="183.20" font-size="7.0" textLength="38.0" lengthAdjust="spacingAndGlyphs" stroke="#231f20" stroke-width="0.1">Number at risk</text>
<text x="367.70" y="193.10" font-size="7.7" textLength="8.1" lengthAdjust="spacingAndGlyphs" fill="#d8406a" stroke="#d8406a" stroke-width="0.1">W:</text>
<text x="388.40" y="193.10" font-size="7.13" text-anchor="middle" textLength="10.3" lengthAdjust="spacingAndGlyphs" stroke="#231f20" stroke-width="0.1">635</text>
<text x="417.02" y="193.10" font-size="7.13" text-anchor="middle" textLength="10.3" lengthAdjust="spacingAndGlyphs" stroke="#231f20" stroke-width="0.1">405</text>
<text x="445.65" y="193.10" font-size="7.13" text-anchor="middle" textLength="10.3" lengthAdjust="spacingAndGlyphs" stroke="#231f20" stroke-width="0.1">243</text>
<text x="474.27" y="193.10" font-size="7.13" text-anchor="middle" textLength="9.4" lengthAdjust="spacingAndGlyphs" stroke="#231f20" stroke-width="0.1">111</text>
<text x="502.90" y="193.10" font-size="7.13" text-anchor="middle" textLength="3.4" lengthAdjust="spacingAndGlyphs" stroke="#231f20" stroke-width="0.1">0</text>
<text x="367.70" y="202.85" font-size="7.7" textLength="6.7" lengthAdjust="spacingAndGlyphs" fill="#55b055" stroke="#55b055" stroke-width="0.1">H:</text>
<text x="388.40" y="202.85" font-size="7.13" text-anchor="middle" textLength="13.8" lengthAdjust="spacingAndGlyphs" stroke="#231f20" stroke-width="0.1">1035</text>
<text x="417.02" y="202.85" font-size="7.13" text-anchor="middle" textLength="10.3" lengthAdjust="spacingAndGlyphs" stroke="#231f20" stroke-width="0.1">563</text>
<text x="445.65" y="202.85" font-size="7.13" text-anchor="middle" textLength="10.3" lengthAdjust="spacingAndGlyphs" stroke="#231f20" stroke-width="0.1">279</text>
<text x="474.27" y="202.85" font-size="7.13" text-anchor="middle" textLength="10.3" lengthAdjust="spacingAndGlyphs" stroke="#231f20" stroke-width="0.1">131</text>
<text x="502.90" y="202.85" font-size="7.13" text-anchor="middle" textLength="3.4" lengthAdjust="spacingAndGlyphs" stroke="#231f20" stroke-width="0.1">0</text>
<text x="367.70" y="212.60" font-size="7.7" textLength="6.3" lengthAdjust="spacingAndGlyphs" fill="#4a78b8" stroke="#4a78b8" stroke-width="0.1">B:</text>
<text x="388.40" y="212.60" font-size="7.13" text-anchor="middle" textLength="10.3" lengthAdjust="spacingAndGlyphs" stroke="#231f20" stroke-width="0.1">130</text>
<text x="417.02" y="212.60" font-size="7.13" text-anchor="middle" textLength="6.9" lengthAdjust="spacingAndGlyphs" stroke="#231f20" stroke-width="0.1">73</text>
<text x="445.65" y="212.60" font-size="7.13" text-anchor="middle" textLength="6.9" lengthAdjust="spacingAndGlyphs" stroke="#231f20" stroke-width="0.1">43</text>
<text x="474.27" y="212.60" font-size="7.13" text-anchor="middle" textLength="6.9" lengthAdjust="spacingAndGlyphs" stroke="#231f20" stroke-width="0.1">20</text>
<text x="502.90" y="212.60" font-size="7.13" text-anchor="middle" textLength="3.4" lengthAdjust="spacingAndGlyphs" stroke="#231f20" stroke-width="0.1">0</text>
<text x="91.50" y="253.20" font-size="8.9" text-anchor="middle" textLength="46.5" lengthAdjust="spacingAndGlyphs" stroke="#231f20" stroke-width="0.1">2005 – 2009</text>
<text x="73.80" y="266.80" font-size="7.13" text-anchor="middle" textLength="31.0" lengthAdjust="spacingAndGlyphs" stroke="#231f20" stroke-width="0.1">Median OS</text>
<text x="116.50" y="266.80" font-size="7.13" text-anchor="middle" textLength="35.1" lengthAdjust="spacingAndGlyphs" stroke="#231f20" stroke-width="0.1">HR (95% CI)</text>
<text x="153.70" y="266.80" font-size="7.13" text-anchor="middle" textLength="20.6" lengthAdjust="spacingAndGlyphs" stroke="#231f20" stroke-width="0.1"><tspan font-style="italic">P</tspan> value</text>
<text x="73.80" y="276.00" font-size="7.13" text-anchor="middle" textLength="17.2" lengthAdjust="spacingAndGlyphs" stroke="#231f20" stroke-width="0.1">15 mo</text>
<text x="116.50" y="276.00" font-size="7.13" text-anchor="middle" textLength="3.4" lengthAdjust="spacingAndGlyphs" stroke="#231f20" stroke-width="0.1">–</text>
<text x="73.80" y="286.00" font-size="7.13" text-anchor="middle" textLength="17.2" lengthAdjust="spacingAndGlyphs" stroke="#231f20" stroke-width="0.1">15 mo</text>
<text x="116.50" y="286.00" font-size="7.13" text-anchor="middle" textLength="48.9" lengthAdjust="spacingAndGlyphs" stroke="#231f20" stroke-width="0.1">0.99 (0.87 – 1.13)</text>
<text x="153.70" y="286.00" font-size="7.13" text-anchor="middle" textLength="8.6" lengthAdjust="spacingAndGlyphs" stroke="#231f20" stroke-width="0.1">.96</text>
<text x="73.80" y="296.00" font-size="7.13" text-anchor="middle" textLength="17.2" lengthAdjust="spacingAndGlyphs" stroke="#231f20" stroke-width="0.1">10 mo</text>
<text x="116.50" y="296.00" font-size="7.13" text-anchor="middle" textLength="48.9" lengthAdjust="spacingAndGlyphs" stroke="#231f20" stroke-width="0.1">1.24 (0.98 – 1.57)</text>
<text x="153.70" y="296.00" font-size="7.13" text-anchor="middle" textLength="8.6" lengthAdjust="spacingAndGlyphs" stroke="#231f20" stroke-width="0.1">.06</text>
<line x1="19.20" y1="273.80" x2="28.70" y2="273.80" stroke="#9a2c4c" stroke-width="1.3"/>
<text x="31.10" y="275.80" font-size="7.0" textLength="16.9" lengthAdjust="spacingAndGlyphs" fill="#d8406a" stroke="#d8406a" stroke-width="0.1">White:</text>
<line x1="19.20" y1="283.80" x2="28.70" y2="283.80" stroke="#43904a" stroke-width="1.3"/>
<text x="31.10" y="285.80" font-size="7.0" textLength="24.5" lengthAdjust="spacingAndGlyphs" fill="#55b055" stroke="#55b055" stroke-width="0.1">Hispanic:</text>
<line x1="19.20" y1="293.80" x2="28.70" y2="293.80" stroke="#45506e" stroke-width="1.3"/>
<text x="31.10" y="295.80" font-size="7.0" textLength="16.2" lengthAdjust="spacingAndGlyphs" fill="#4a78b8" stroke="#4a78b8" stroke-width="0.1">Black:</text>
<line x1="38.50" y1="302.60" x2="38.50" y2="372.10" stroke="#231f20" stroke-width="1.2"/>
<line x1="38.00" y1="371.60" x2="155.50" y2="371.60" stroke="#231f20" stroke-width="1.2"/>
<line x1="35.30" y1="371.60" x2="38.50" y2="371.60" stroke="#231f20" stroke-width="1"/>
<text x="32.20" y="373.60" font-size="6.72" text-anchor="end" textLength="3.6" lengthAdjust="spacingAndGlyphs" stroke="#231f20" stroke-width="0.1">0</text>
<line x1="35.30" y1="358.36" x2="38.50" y2="358.36" stroke="#231f20" stroke-width="1"/>
<text x="32.20" y="360.36" font-size="6.72" text-anchor="end" textLength="7.1" lengthAdjust="spacingAndGlyphs" stroke="#231f20" stroke-width="0.1">20</text>
<line x1="35.30" y1="345.12" x2="38.50" y2="345.12" stroke="#231f20" stroke-width="1"/>
<text x="32.20" y="347.12" font-size="6.72" text-anchor="end" textLength="7.1" lengthAdjust="spacingAndGlyphs" stroke="#231f20" stroke-width="0.1">40</text>
<line x1="35.30" y1="331.88" x2="38.50" y2="331.88" stroke="#231f20" stroke-width="1"/>
<text x="32.20" y="333.88" font-size="6.72" text-anchor="end" textLength="7.1" lengthAdjust="spacingAndGlyphs" stroke="#231f20" stroke-width="0.1">60</text>
<line x1="35.30" y1="318.64" x2="38.50" y2="318.64" stroke="#231f20" stroke-width="1"/>
<text x="32.20" y="320.64" font-size="6.72" text-anchor="end" textLength="7.1" lengthAdjust="spacingAndGlyphs" stroke="#231f20" stroke-width="0.1">80</text>
<line x1="35.30" y1="305.40" x2="38.50" y2="305.40" stroke="#231f20" stroke-width="1"/>
<text x="32.20" y="307.40" font-size="6.72" text-anchor="end" textLength="10.7" lengthAdjust="spacingAndGlyphs" stroke="#231f20" stroke-width="0.1">100</text>
<line x1="38.50" y1="371.60" x2="38.50" y2="374.80" stroke="#231f20" stroke-width="1"/>
<text x="38.50" y="383.20" font-size="6.7" text-anchor="middle" stroke="#231f20" stroke-width="0.1">0</text>
<line x1="61.40" y1="371.60" x2="61.40" y2="374.80" stroke="#231f20" stroke-width="1"/>
<text x="61.40" y="383.20" font-size="6.7" text-anchor="middle" stroke="#231f20" stroke-width="0.1">24</text>
<line x1="84.30" y1="371.60" x2="84.30" y2="374.80" stroke="#231f20" stroke-width="1"/>
<text x="84.30" y="383.20" font-size="6.7" text-anchor="middle" stroke="#231f20" stroke-width="0.1">48</text>
<line x1="107.20" y1="371.60" x2="107.20" y2="374.80" stroke="#231f20" stroke-width="1"/>
<text x="107.20" y="383.20" font-size="6.7" text-anchor="middle" stroke="#231f20" stroke-width="0.1">72</text>
<line x1="130.10" y1="371.60" x2="130.10" y2="374.80" stroke="#231f20" stroke-width="1"/>
<text x="130.10" y="383.20" font-size="6.7" text-anchor="middle" stroke="#231f20" stroke-width="0.1">96</text>
<line x1="153.00" y1="371.60" x2="153.00" y2="374.80" stroke="#231f20" stroke-width="1"/>
<text x="153.00" y="383.20" font-size="6.7" text-anchor="middle" stroke="#231f20" stroke-width="0.1">120</text>
<text x="40.70" y="367.70" font-size="7.24" textLength="20.0" lengthAdjust="spacingAndGlyphs" stroke="#231f20" stroke-width="0.1"><tspan font-style="italic">P</tspan> = .15</text>
<text x="65.50" y="393.90" font-size="8.3" textLength="62.0" lengthAdjust="spacingAndGlyphs" stroke="#231f20" stroke-width="0.3">Overall survival (months)</text>
<text x="0" y="0" font-size="7.2" text-anchor="middle" textLength="39.5" lengthAdjust="spacingAndGlyphs" stroke="#231f20" stroke-width="0.32" transform="translate(16.30,337.10) rotate(-90)">Percent survival</text>
<path d="M38.50,305.40 L38.98,308.82 L39.45,312.02 L39.93,314.88 L40.41,317.68 L40.89,320.32 L41.36,322.74 L41.84,324.85 L42.32,326.58 L42.79,328.03 L43.27,329.33 L43.75,330.51 L44.23,331.59 L44.70,332.58 L45.18,333.50 L45.66,334.36 L46.13,335.19 L46.61,335.97 L47.09,336.68 L47.56,337.35 L48.04,337.98 L48.52,338.59 L49.00,339.20 L49.47,339.82 L49.95,340.46 L50.43,341.11 L50.90,341.76 L51.38,342.40 L51.86,343.04 L52.34,343.67 L52.81,344.28 L53.29,344.87 L53.77,345.43 L54.24,345.95 L54.72,346.44 L55.20,346.90 L55.67,347.35 L56.15,347.78 L56.63,348.19 L57.11,348.59 L57.58,348.98 L58.06,349.36 L58.54,349.72 L59.01,350.08 L59.49,350.42 L59.97,350.76 L60.45,351.09 L60.92,351.42 L61.40,351.74 L61.88,352.05 L62.35,352.36 L62.83,352.65 L63.31,352.94 L63.79,353.22 L64.26,353.49 L64.74,353.76 L65.22,354.02 L65.69,354.28 L66.17,354.54 L66.65,354.80 L67.12,355.05 L67.60,355.31 L68.08,355.57 L68.56,355.84 L69.03,356.11 L69.51,356.38 L69.99,356.63 L70.46,356.88 L70.94,357.11 L71.42,357.32 L71.90,357.51 L72.37,357.67 L72.85,357.81 L73.33,357.95 L73.80,358.08 L74.28,358.21 L74.76,358.33 L75.24,358.45 L75.71,358.57 L76.19,358.68 L76.67,358.79 L77.14,358.90 L77.62,359.00 L78.10,359.10 L78.57,359.19 L79.05,359.28 L79.53,359.37 L80.01,359.45 L80.48,359.53 L80.96,359.60 L81.44,359.67 L81.91,359.74 L82.39,359.80 L82.87,359.86 L83.35,359.92 L83.82,359.97 L84.30,360.02 L84.78,360.06 L85.25,360.10 L85.73,360.14 L86.21,360.18 L86.69,360.22 L87.16,360.26 L87.64,360.30 L88.12,360.33 L88.59,360.37 L89.07,360.40 L89.55,360.43 L90.03,360.46 L90.50,360.50 L90.98,360.52 L91.46,360.55 L91.93,360.58 L92.41,360.61 L92.89,360.64 L93.36,360.66 L93.84,360.69 L94.32,360.71 L94.80,360.74 L95.27,360.76 L95.75,360.78 L96.23,360.81 L96.70,360.83 L97.18,360.85 L97.66,360.87 L98.14,360.89 L98.61,360.92 L99.09,360.94 L99.57,360.96 L100.04,360.98 L100.52,361.00 L101.00,361.03 L101.48,361.05 L101.95,361.07 L102.43,361.09 L102.91,361.11 L103.38,361.14 L103.86,361.16 L104.34,361.19 L104.81,361.21 L105.29,361.23 L105.77,361.26 L106.25,361.29 L106.72,361.31 L107.20,361.34 L107.68,361.37 L108.15,361.39 L108.63,361.42 L109.11,361.45 L109.59,361.48 L110.06,361.51 L110.54,361.54 L111.02,361.56 L111.49,361.59 L111.97,361.62 L112.45,361.65 L112.92,361.68 L113.40,361.71 L113.88,361.74 L114.36,361.77 L114.83,361.80 L115.31,361.82 L115.79,361.85 L116.26,361.88 L116.74,361.91 L117.22,361.94 L117.70,361.97 L118.17,362.00 L118.65,362.03 L119.13,362.05 L119.60,362.08 L120.08,362.11 L120.56,362.14 L121.04,362.17 L121.51,362.20 L121.99,362.22 L122.47,362.25 L122.94,362.28 L123.42,362.31 L123.90,362.33 L124.38,362.36 L124.85,362.39 L125.33,362.41 L125.81,362.44 L126.28,362.47 L126.76,362.49 L127.24,362.52 L127.71,362.54 L128.19,362.57 L128.67,362.59 L129.15,362.62 L129.62,362.64 L130.10,362.66 L130.58,362.69 L131.05,362.71 L131.53,362.73 L132.01,362.75 L132.49,362.78 L132.96,362.80 L133.44,362.82 L133.92,362.84 L134.39,362.86 L134.87,362.88 L135.35,362.90 L135.82,362.92 L136.30,362.94 L136.78,362.96 L137.26,362.98 L137.73,363.00 L138.21,363.02 L138.69,363.04 L139.16,363.06 L139.64,363.08 L140.12,363.10 L140.60,363.12 L141.07,363.14 L141.55,363.16 L142.03,363.18 L142.50,363.20 L142.98,363.22 L143.46,363.24 L143.94,363.26 L144.41,363.28 L144.89,363.30 L145.37,363.33 L145.37,364.32 L145.84,364.32 L146.32,364.32 L146.80,364.32 L147.27,364.32 L147.75,364.32 L148.23,364.32 L148.71,364.32 L149.18,364.32 L149.66,364.32 L150.14,364.32 L150.61,364.32 L151.09,364.32 L151.57,364.32 L152.05,364.32 L152.52,364.32 L153.00,364.32" fill="none" stroke="#4f6694" stroke-width="1.15" stroke-linejoin="round"/>
<path d="M38.50,305.40 L38.98,308.14 L39.45,310.70 L39.93,312.91 L40.41,315.01 L40.89,316.98 L41.36,318.81 L41.84,320.47 L42.32,321.95 L42.79,323.29 L43.27,324.53 L43.75,325.70 L44.23,326.79 L44.70,327.81 L45.18,328.77 L45.66,329.69 L46.13,330.56 L46.61,331.39 L47.09,332.18 L47.56,332.93 L48.04,333.64 L48.52,334.31 L49.00,334.94 L49.47,335.52 L49.95,336.07 L50.43,336.59 L50.90,337.09 L51.38,337.57 L51.86,338.02 L52.34,338.46 L52.81,338.89 L53.29,339.30 L53.77,339.71 L54.24,340.10 L54.72,340.49 L55.20,340.87 L55.67,341.24 L56.15,341.60 L56.63,341.96 L57.11,342.30 L57.58,342.64 L58.06,342.97 L58.54,343.30 L59.01,343.62 L59.49,343.93 L59.97,344.24 L60.45,344.54 L60.92,344.83 L61.40,345.12 L61.88,345.41 L62.35,345.69 L62.83,345.97 L63.31,346.26 L63.79,346.53 L64.26,346.81 L64.74,347.08 L65.22,347.35 L65.69,347.61 L66.17,347.87 L66.65,348.13 L67.12,348.38 L67.60,348.62 L68.08,348.85 L68.56,349.08 L69.03,349.30 L69.51,349.51 L69.99,349.71 L70.46,349.90 L70.94,350.09 L71.42,350.26 L71.90,350.43 L72.37,350.61 L72.85,350.77 L73.33,350.94 L73.80,351.10 L74.28,351.26 L74.76,351.41 L75.24,351.57 L75.71,351.72 L76.19,351.86 L76.67,352.01 L77.14,352.15 L77.62,352.29 L78.10,352.42 L78.57,352.55 L79.05,352.68 L79.53,352.80 L80.01,352.92 L80.48,353.04 L80.96,353.16 L81.44,353.27 L81.91,353.37 L82.39,353.48 L82.87,353.58 L83.35,353.68 L83.82,353.77 L84.30,353.86 L84.78,353.95 L85.25,354.03 L85.73,354.12 L86.21,354.20 L86.69,354.28 L87.16,354.36 L87.64,354.44 L88.12,354.51 L88.59,354.59 L89.07,354.66 L89.55,354.74 L90.03,354.81 L90.50,354.88 L90.98,354.95 L91.46,355.02 L91.93,355.09 L92.41,355.15 L92.89,355.22 L93.36,355.28 L93.84,355.35 L94.32,355.41 L94.80,355.47 L95.27,355.53 L95.75,355.59 L96.23,355.65 L96.70,355.71 L97.18,355.76 L97.66,355.82 L98.14,355.88 L98.61,355.93 L99.09,355.99 L99.57,356.04 L100.04,356.09 L100.52,356.14 L101.00,356.20 L101.48,356.25 L101.95,356.30 L102.43,356.35 L102.91,356.40 L103.38,356.45 L103.86,356.50 L104.34,356.55 L104.81,356.60 L105.29,356.65 L105.77,356.69 L106.25,356.74 L106.72,356.79 L107.20,356.84 L107.68,356.88 L108.15,356.93 L108.63,356.98 L109.11,357.02 L109.59,357.07 L110.06,357.11 L110.54,357.15 L111.02,357.20 L111.49,357.24 L111.97,357.28 L112.45,357.32 L112.92,357.36 L113.40,357.40 L113.88,357.44 L114.36,357.48 L114.83,357.52 L115.31,357.56 L115.79,357.60 L116.26,357.64 L116.74,357.67 L117.22,357.71 L117.70,357.75 L118.17,357.79 L118.65,357.82 L119.13,357.86 L119.60,357.90 L120.08,357.93 L120.56,357.97 L121.04,358.00 L121.51,358.04 L121.99,358.07 L122.47,358.11 L122.94,358.15 L123.42,358.18 L123.90,358.22 L124.38,358.25 L124.85,358.29 L125.33,358.32 L125.81,358.36 L126.28,358.40 L126.76,358.43 L127.24,358.47 L127.71,358.50 L128.19,358.54 L128.67,358.58 L129.15,358.62 L129.62,358.65 L130.10,358.69 L130.58,358.73 L131.05,358.77 L131.53,358.80 L132.01,358.84 L132.49,358.88 L132.96,358.92 L133.44,358.96 L133.92,358.99 L134.39,359.03 L134.87,359.07 L135.35,359.11 L135.82,359.14 L136.30,359.18 L136.78,359.22 L137.26,359.25 L137.73,359.29 L138.21,359.33 L138.69,359.37 L139.16,359.40 L139.64,359.44 L140.12,359.48 L140.60,359.51 L141.07,359.55 L141.55,359.59 L142.03,359.63 L142.50,359.66 L142.98,359.70 L143.46,359.74 L143.94,359.77 L144.41,359.81 L144.89,359.85 L145.37,359.89 L145.84,359.92 L146.32,359.96 L146.80,360.00 L147.27,360.03 L147.75,360.07 L148.23,360.11 L148.71,360.14 L149.18,360.18 L149.66,360.22 L150.14,360.26 L150.61,360.29 L151.09,360.33 L151.57,360.37 L152.05,360.40 L152.52,360.44 L153.00,360.48" fill="none" stroke="#52a058" stroke-width="1.15" stroke-linejoin="round"/>
<path d="M38.50,305.40 L38.98,308.14 L39.45,310.70 L39.93,312.91 L40.41,315.01 L40.89,316.98 L41.36,318.81 L41.84,320.47 L42.32,321.95 L42.79,323.29 L43.27,324.53 L43.75,325.70 L44.23,326.79 L44.70,327.81 L45.18,328.77 L45.66,329.69 L46.13,330.56 L46.61,331.39 L47.09,332.18 L47.56,332.93 L48.04,333.64 L48.52,334.31 L49.00,334.94 L49.47,335.52 L49.95,336.07 L50.43,336.60 L50.90,337.10 L51.38,337.58 L51.86,338.04 L52.34,338.49 L52.81,338.92 L53.29,339.33 L53.77,339.73 L54.24,340.11 L54.72,340.49 L55.20,340.85 L55.67,341.20 L56.15,341.54 L56.63,341.87 L57.11,342.18 L57.58,342.50 L58.06,342.80 L58.54,343.10 L59.01,343.39 L59.49,343.67 L59.97,343.96 L60.45,344.23 L60.92,344.51 L61.40,344.79 L61.88,345.07 L62.35,345.34 L62.83,345.62 L63.31,345.90 L63.79,346.18 L64.26,346.46 L64.74,346.73 L65.22,347.00 L65.69,347.27 L66.17,347.53 L66.65,347.79 L67.12,348.04 L67.60,348.28 L68.08,348.52 L68.56,348.75 L69.03,348.97 L69.51,349.18 L69.99,349.38 L70.46,349.57 L70.94,349.75 L71.42,349.93 L71.90,350.10 L72.37,350.26 L72.85,350.43 L73.33,350.59 L73.80,350.74 L74.28,350.90 L74.76,351.05 L75.24,351.20 L75.71,351.34 L76.19,351.48 L76.67,351.62 L77.14,351.76 L77.62,351.89 L78.10,352.02 L78.57,352.15 L79.05,352.27 L79.53,352.39 L80.01,352.51 L80.48,352.62 L80.96,352.73 L81.44,352.83 L81.91,352.94 L82.39,353.03 L82.87,353.13 L83.35,353.22 L83.82,353.31 L84.30,353.40 L84.78,353.48 L85.25,353.56 L85.73,353.64 L86.21,353.72 L86.69,353.79 L87.16,353.87 L87.64,353.94 L88.12,354.02 L88.59,354.09 L89.07,354.16 L89.55,354.23 L90.03,354.30 L90.50,354.36 L90.98,354.43 L91.46,354.50 L91.93,354.56 L92.41,354.62 L92.89,354.68 L93.36,354.75 L93.84,354.81 L94.32,354.87 L94.80,354.92 L95.27,354.98 L95.75,355.04 L96.23,355.09 L96.70,355.15 L97.18,355.20 L97.66,355.25 L98.14,355.31 L98.61,355.36 L99.09,355.41 L99.57,355.46 L100.04,355.51 L100.52,355.56 L101.00,355.60 L101.48,355.65 L101.95,355.70 L102.43,355.74 L102.91,355.79 L103.38,355.83 L103.86,355.88 L104.34,355.92 L104.81,355.97 L105.29,356.01 L105.77,356.05 L106.25,356.09 L106.72,356.13 L107.20,356.18 L107.68,356.22 L108.15,356.26 L108.63,356.29 L109.11,356.33 L109.59,356.37 L110.06,356.41 L110.54,356.44 L111.02,356.48 L111.49,356.52 L111.97,356.55 L112.45,356.58 L112.92,356.62 L113.40,356.65 L113.88,356.68 L114.36,356.71 L114.83,356.75 L115.31,356.78 L115.79,356.81 L116.26,356.84 L116.74,356.87 L117.22,356.90 L117.70,356.93 L118.17,356.96 L118.65,356.99 L119.13,357.02 L119.60,357.05 L120.08,357.08 L120.56,357.10 L121.04,357.13 L121.51,357.16 L121.99,357.19 L122.47,357.22 L122.94,357.25 L123.42,357.28 L123.90,357.30 L124.38,357.33 L124.85,357.36 L125.33,357.39 L125.81,357.42 L126.28,357.45 L126.76,357.48 L127.24,357.51 L127.71,357.54 L128.19,357.57 L128.67,357.60 L129.15,357.63 L129.62,357.67 L130.10,357.70 L130.58,357.73 L131.05,357.76 L131.53,357.80 L132.01,357.83 L132.49,357.86 L132.96,357.89 L133.44,357.93 L133.92,357.96 L134.39,357.99 L134.87,358.02 L135.35,358.06 L135.82,358.09 L136.30,358.12 L136.78,358.16 L137.26,358.19 L137.73,358.22 L138.21,358.26 L138.69,358.29 L139.16,358.32 L139.64,358.36 L140.12,358.39 L140.60,358.42 L141.07,358.45 L141.55,358.49 L142.03,358.52 L142.50,358.55 L142.98,358.59 L143.46,358.62 L143.94,358.65 L144.41,358.69 L144.89,358.72 L145.37,358.75 L145.84,358.79 L146.32,358.82 L146.80,358.85 L147.27,358.89 L147.75,358.92 L148.23,358.95 L148.71,358.99 L149.18,359.02 L149.66,359.05 L150.14,359.09 L150.61,359.12 L151.09,359.15 L151.57,359.19 L152.05,359.22 L152.52,359.25 L153.00,359.29" fill="none" stroke="#aa2c52" stroke-width="1.15" stroke-linejoin="round"/>
<text x="17.80" y="404.60" font-size="7.0" textLength="38.0" lengthAdjust="spacingAndGlyphs" stroke="#231f20" stroke-width="0.1">Number at risk</text>
<text x="17.80" y="414.50" font-size="7.7" textLength="8.1" lengthAdjust="spacingAndGlyphs" fill="#d8406a" stroke="#d8406a" stroke-width="0.1">W:</text>
<text x="38.50" y="414.50" font-size="7.13" text-anchor="middle" textLength="10.3" lengthAdjust="spacingAndGlyphs" stroke="#231f20" stroke-width="0.1">936</text>
<text x="61.40" y="414.50" font-size="7.13" text-anchor="middle" textLength="10.3" lengthAdjust="spacingAndGlyphs" stroke="#231f20" stroke-width="0.1">367</text>
<text x="84.30" y="414.50" font-size="7.13" text-anchor="middle" textLength="10.3" lengthAdjust="spacingAndGlyphs" stroke="#231f20" stroke-width="0.1">244</text>
<text x="107.20" y="414.50" font-size="7.13" text-anchor="middle" textLength="10.3" lengthAdjust="spacingAndGlyphs" stroke="#231f20" stroke-width="0.1">214</text>
<text x="130.10" y="414.50" font-size="7.13" text-anchor="middle" textLength="10.3" lengthAdjust="spacingAndGlyphs" stroke="#231f20" stroke-width="0.1">191</text>
<text x="153.00" y="414.50" font-size="7.13" text-anchor="middle" textLength="10.3" lengthAdjust="spacingAndGlyphs" stroke="#231f20" stroke-width="0.1">170</text>
<text x="17.80" y="424.25" font-size="7.7" textLength="6.7" lengthAdjust="spacingAndGlyphs" fill="#55b055" stroke="#55b055" stroke-width="0.1">H:</text>
<text x="38.50" y="424.25" font-size="7.13" text-anchor="middle" textLength="10.3" lengthAdjust="spacingAndGlyphs" stroke="#231f20" stroke-width="0.1">390</text>
<text x="61.40" y="424.25" font-size="7.13" text-anchor="middle" textLength="10.3" lengthAdjust="spacingAndGlyphs" stroke="#231f20" stroke-width="0.1">126</text>
<text x="84.30" y="424.25" font-size="7.13" text-anchor="middle" textLength="6.9" lengthAdjust="spacingAndGlyphs" stroke="#231f20" stroke-width="0.1">88</text>
<text x="107.20" y="424.25" font-size="7.13" text-anchor="middle" textLength="6.9" lengthAdjust="spacingAndGlyphs" stroke="#231f20" stroke-width="0.1">68</text>
<text x="130.10" y="424.25" font-size="7.13" text-anchor="middle" textLength="6.9" lengthAdjust="spacingAndGlyphs" stroke="#231f20" stroke-width="0.1">56</text>
<text x="153.00" y="424.25" font-size="7.13" text-anchor="middle" textLength="6.9" lengthAdjust="spacingAndGlyphs" stroke="#231f20" stroke-width="0.1">51</text>
<text x="17.80" y="434.00" font-size="7.7" textLength="6.3" lengthAdjust="spacingAndGlyphs" fill="#4a78b8" stroke="#4a78b8" stroke-width="0.1">B:</text>
<text x="38.50" y="434.00" font-size="7.13" text-anchor="middle" textLength="6.9" lengthAdjust="spacingAndGlyphs" stroke="#231f20" stroke-width="0.1">86</text>
<text x="61.40" y="434.00" font-size="7.13" text-anchor="middle" textLength="6.9" lengthAdjust="spacingAndGlyphs" stroke="#231f20" stroke-width="0.1">28</text>
<text x="84.30" y="434.00" font-size="7.13" text-anchor="middle" textLength="6.9" lengthAdjust="spacingAndGlyphs" stroke="#231f20" stroke-width="0.1">14</text>
<text x="107.20" y="434.00" font-size="7.13" text-anchor="middle" textLength="6.9" lengthAdjust="spacingAndGlyphs" stroke="#231f20" stroke-width="0.1">12</text>
<text x="130.10" y="434.00" font-size="7.13" text-anchor="middle" textLength="6.4" lengthAdjust="spacingAndGlyphs" stroke="#231f20" stroke-width="0.1">11</text>
<text x="153.00" y="434.00" font-size="7.13" text-anchor="middle" textLength="6.9" lengthAdjust="spacingAndGlyphs" stroke="#231f20" stroke-width="0.1">10</text>
<text x="270.00" y="253.20" font-size="8.9" text-anchor="middle" textLength="46.5" lengthAdjust="spacingAndGlyphs" stroke="#231f20" stroke-width="0.1">2010 – 2014</text>
<text x="252.30" y="266.80" font-size="7.13" text-anchor="middle" textLength="31.0" lengthAdjust="spacingAndGlyphs" stroke="#231f20" stroke-width="0.1">Median OS</text>
<text x="295.00" y="266.80" font-size="7.13" text-anchor="middle" textLength="35.1" lengthAdjust="spacingAndGlyphs" stroke="#231f20" stroke-width="0.1">HR (95% CI)</text>
<text x="332.20" y="266.80" font-size="7.13" text-anchor="middle" textLength="20.6" lengthAdjust="spacingAndGlyphs" stroke="#231f20" stroke-width="0.1"><tspan font-style="italic">P</tspan> value</text>
<text x="252.30" y="276.00" font-size="7.13" text-anchor="middle" textLength="17.2" lengthAdjust="spacingAndGlyphs" stroke="#231f20" stroke-width="0.1">19 mo</text>
<text x="295.00" y="276.00" font-size="7.13" text-anchor="middle" textLength="3.4" lengthAdjust="spacingAndGlyphs" stroke="#231f20" stroke-width="0.1">–</text>
<text x="252.30" y="286.00" font-size="7.13" text-anchor="middle" textLength="17.2" lengthAdjust="spacingAndGlyphs" stroke="#231f20" stroke-width="0.1">18 mo</text>
<text x="295.00" y="286.00" font-size="7.13" text-anchor="middle" textLength="48.9" lengthAdjust="spacingAndGlyphs" stroke="#231f20" stroke-width="0.1">0.99 (0.88 – 1.17)</text>
<text x="332.20" y="286.00" font-size="7.13" text-anchor="middle" textLength="8.6" lengthAdjust="spacingAndGlyphs" stroke="#231f20" stroke-width="0.1">.93</text>
<text x="252.30" y="296.00" font-size="7.13" text-anchor="middle" textLength="17.2" lengthAdjust="spacingAndGlyphs" stroke="#231f20" stroke-width="0.1">17 mo</text>
<text x="295.00" y="296.00" font-size="7.13" text-anchor="middle" textLength="48.9" lengthAdjust="spacingAndGlyphs" stroke="#231f20" stroke-width="0.1">1.04 (0.87 – 1.26)</text>
<text x="332.20" y="296.00" font-size="7.13" text-anchor="middle" textLength="8.6" lengthAdjust="spacingAndGlyphs" stroke="#231f20" stroke-width="0.1">.61</text>
<line x1="197.70" y1="273.80" x2="207.20" y2="273.80" stroke="#9a2c4c" stroke-width="1.3"/>
<text x="209.60" y="275.80" font-size="7.0" textLength="16.9" lengthAdjust="spacingAndGlyphs" fill="#d8406a" stroke="#d8406a" stroke-width="0.1">White:</text>
<line x1="197.70" y1="283.80" x2="207.20" y2="283.80" stroke="#43904a" stroke-width="1.3"/>
<text x="209.60" y="285.80" font-size="7.0" textLength="24.5" lengthAdjust="spacingAndGlyphs" fill="#55b055" stroke="#55b055" stroke-width="0.1">Hispanic:</text>
<line x1="197.70" y1="293.80" x2="207.20" y2="293.80" stroke="#45506e" stroke-width="1.3"/>
<text x="209.60" y="295.80" font-size="7.0" textLength="16.2" lengthAdjust="spacingAndGlyphs" fill="#4a78b8" stroke="#4a78b8" stroke-width="0.1">Black:</text>
<line x1="217.00" y1="302.60" x2="217.00" y2="372.10" stroke="#231f20" stroke-width="1.2"/>
<line x1="216.50" y1="371.60" x2="334.00" y2="371.60" stroke="#231f20" stroke-width="1.2"/>
<line x1="213.80" y1="371.60" x2="217.00" y2="371.60" stroke="#231f20" stroke-width="1"/>
<text x="210.70" y="373.60" font-size="6.72" text-anchor="end" textLength="3.6" lengthAdjust="spacingAndGlyphs" stroke="#231f20" stroke-width="0.1">0</text>
<line x1="213.80" y1="358.36" x2="217.00" y2="358.36" stroke="#231f20" stroke-width="1"/>
<text x="210.70" y="360.36" font-size="6.72" text-anchor="end" textLength="7.1" lengthAdjust="spacingAndGlyphs" stroke="#231f20" stroke-width="0.1">20</text>
<line x1="213.80" y1="345.12" x2="217.00" y2="345.12" stroke="#231f20" stroke-width="1"/>
<text x="210.70" y="347.12" font-size="6.72" text-anchor="end" textLength="7.1" lengthAdjust="spacingAndGlyphs" stroke="#231f20" stroke-width="0.1">40</text>
<line x1="213.80" y1="331.88" x2="217.00" y2="331.88" stroke="#231f20" stroke-width="1"/>
<text x="210.70" y="333.88" font-size="6.72" text-anchor="end" textLength="7.1" lengthAdjust="spacingAndGlyphs" stroke="#231f20" stroke-width="0.1">60</text>
<line x1="213.80" y1="318.64" x2="217.00" y2="318.64" stroke="#231f20" stroke-width="1"/>
<text x="210.70" y="320.64" font-size="6.72" text-anchor="end" textLength="7.1" lengthAdjust="spacingAndGlyphs" stroke="#231f20" stroke-width="0.1">80</text>
<line x1="213.80" y1="305.40" x2="217.00" y2="305.40" stroke="#231f20" stroke-width="1"/>
<text x="210.70" y="307.40" font-size="6.72" text-anchor="end" textLength="10.7" lengthAdjust="spacingAndGlyphs" stroke="#231f20" stroke-width="0.1">100</text>
<line x1="217.00" y1="371.60" x2="217.00" y2="374.80" stroke="#231f20" stroke-width="1"/>
<text x="217.00" y="383.20" font-size="6.7" text-anchor="middle" stroke="#231f20" stroke-width="0.1">0</text>
<line x1="239.90" y1="371.60" x2="239.90" y2="374.80" stroke="#231f20" stroke-width="1"/>
<text x="239.90" y="383.20" font-size="6.7" text-anchor="middle" stroke="#231f20" stroke-width="0.1">24</text>
<line x1="262.80" y1="371.60" x2="262.80" y2="374.80" stroke="#231f20" stroke-width="1"/>
<text x="262.80" y="383.20" font-size="6.7" text-anchor="middle" stroke="#231f20" stroke-width="0.1">48</text>
<line x1="285.70" y1="371.60" x2="285.70" y2="374.80" stroke="#231f20" stroke-width="1"/>
<text x="285.70" y="383.20" font-size="6.7" text-anchor="middle" stroke="#231f20" stroke-width="0.1">72</text>
<line x1="308.60" y1="371.60" x2="308.60" y2="374.80" stroke="#231f20" stroke-width="1"/>
<text x="308.60" y="383.20" font-size="6.7" text-anchor="middle" stroke="#231f20" stroke-width="0.1">96</text>
<line x1="331.50" y1="371.60" x2="331.50" y2="374.80" stroke="#231f20" stroke-width="1"/>
<text x="331.50" y="383.20" font-size="6.7" text-anchor="middle" stroke="#231f20" stroke-width="0.1">120</text>
<text x="219.20" y="367.70" font-size="7.24" textLength="20.0" lengthAdjust="spacingAndGlyphs" stroke="#231f20" stroke-width="0.1"><tspan font-style="italic">P</tspan> = .34</text>
<text x="244.00" y="393.90" font-size="8.3" textLength="62.0" lengthAdjust="spacingAndGlyphs" stroke="#231f20" stroke-width="0.3">Overall survival (months)</text>
<path d="M217.00,305.40 L217.48,307.48 L217.95,309.37 L218.43,310.89 L218.91,312.23 L219.39,313.46 L219.86,314.67 L220.34,315.85 L220.82,316.98 L221.29,318.07 L221.77,319.14 L222.25,320.21 L222.72,321.29 L223.20,322.39 L223.68,323.51 L224.16,324.63 L224.63,325.75 L225.11,326.84 L225.59,327.91 L226.06,328.93 L226.54,329.89 L227.02,330.81 L227.50,331.69 L227.97,332.54 L228.45,333.37 L228.93,334.17 L229.40,334.94 L229.88,335.70 L230.36,336.45 L230.84,337.20 L231.31,337.95 L231.79,338.68 L232.27,339.38 L232.74,340.06 L233.22,340.69 L233.70,341.28 L234.18,341.81 L234.65,342.30 L235.13,342.76 L235.61,343.21 L236.08,343.63 L236.56,344.03 L237.04,344.42 L237.51,344.79 L237.99,345.15 L238.47,345.49 L238.95,345.82 L239.42,346.14 L239.90,346.44 L240.38,346.75 L240.85,347.05 L241.33,347.35 L241.81,347.64 L242.29,347.91 L242.76,348.17 L243.24,348.40 L243.72,348.60 L244.19,348.77 L244.67,348.91 L245.15,349.04 L245.62,349.17 L246.10,349.29 L246.58,349.40 L247.06,349.52 L247.53,349.62 L248.01,349.73 L248.49,349.83 L248.96,349.92 L249.44,350.02 L249.92,350.11 L250.40,350.19 L250.87,350.28 L251.35,350.36 L251.83,350.44 L252.30,350.51 L252.78,350.59 L253.26,350.66 L253.74,350.73 L254.21,350.80 L254.69,350.86 L255.17,350.93 L255.64,350.99 L256.12,351.05 L256.60,351.12 L257.07,351.18 L257.55,351.24 L258.03,351.30 L258.51,351.36 L258.98,351.42 L259.46,351.48 L259.94,351.55 L260.41,351.61 L260.89,351.67 L261.37,351.74 L261.85,351.80 L262.32,351.87 L262.80,351.94 L263.28,352.01 L263.75,352.08 L264.23,352.15 L264.71,352.21 L265.19,352.28 L265.66,352.35 L266.14,352.41 L266.62,352.48 L267.09,352.55 L267.57,352.61 L268.05,352.68 L268.52,352.74 L269.00,352.80 L269.48,352.87 L269.96,352.93 L270.43,352.99 L270.91,353.06 L271.39,353.12 L271.86,353.18 L272.34,353.24 L272.82,353.30 L273.30,353.36 L273.77,353.42 L274.25,353.48 L274.73,353.54 L275.20,353.60 L275.68,353.66 L276.16,353.72 L276.64,353.78 L277.11,353.84 L277.59,353.90 L278.07,353.96 L278.54,354.01 L279.02,354.07 L279.50,354.13 L279.98,354.18 L280.45,354.24 L280.93,354.30 L281.41,354.35 L281.88,354.41 L282.36,354.47 L282.84,354.52 L283.31,354.58 L283.79,354.63 L284.27,354.69 L284.75,354.74 L285.22,354.80 L285.70,354.85 L286.18,354.91 L286.65,354.96 L287.13,355.02 L287.61,355.08 L288.09,355.13 L288.56,355.19 L289.04,355.25 L289.52,355.31 L289.99,355.37 L290.47,355.43 L290.95,355.48 L291.43,355.54 L291.90,355.60 L292.38,355.66 L292.86,355.72 L293.33,355.78 L293.81,355.84 L294.29,355.90 L294.76,355.96 L295.24,356.01 L295.72,356.07 L296.20,356.13 L296.67,356.19 L297.15,356.24 L297.63,356.30 L298.10,356.35 L298.58,356.40 L299.06,356.46 L299.54,356.51 L300.01,356.56 L300.49,356.61 L300.97,356.66 L301.44,356.70 L301.92,356.75 L302.40,356.80 L302.88,356.84 L303.35,356.88 L303.83,356.92 L304.31,356.96 L304.78,357.00 L305.26,357.03 L305.74,357.07 L306.21,357.10 L306.69,357.13 L307.17,357.16 L307.65,357.19 L308.12,357.21 L308.60,357.23 L309.08,357.26 L309.55,357.28 L310.03,357.30 L310.51,357.32 L310.99,357.33 L311.46,357.35 L311.94,357.37 L312.42,357.39 L312.89,357.41 L313.37,357.42 L313.85,357.44 L314.32,357.45 L314.80,357.47 L315.28,357.48 L315.76,357.50 L316.23,357.51 L316.71,357.52 L317.19,357.54 L317.66,357.55 L318.14,357.56 L318.62,357.58 L319.10,357.59 L319.57,357.60 L320.05,357.61 L320.53,357.62 L321.00,357.64 L321.48,357.65 L321.96,357.66 L322.44,357.67 L322.91,357.68 L323.39,357.69 L323.87,357.70 L324.34,357.71 L324.82,357.73 L325.30,357.74 L325.77,357.75 L326.25,357.76 L326.73,357.77 L327.21,357.78 L327.68,357.79 L328.16,357.81 L328.64,357.82 L329.11,357.83 L329.59,357.84 L330.07,357.86 L330.55,357.87 L331.02,357.88 L331.50,357.90" fill="none" stroke="#4f6694" stroke-width="1.15" stroke-linejoin="round"/>
<path d="M217.00,305.40 L217.48,307.48 L217.95,309.37 L218.43,310.89 L218.91,312.23 L219.39,313.46 L219.86,314.67 L220.34,315.85 L220.82,316.98 L221.29,318.07 L221.77,319.14 L222.25,320.21 L222.72,321.29 L223.20,322.39 L223.68,323.52 L224.16,324.65 L224.63,325.78 L225.11,326.88 L225.59,327.94 L226.06,328.95 L226.54,329.89 L227.02,330.78 L227.50,331.63 L227.97,332.45 L228.45,333.24 L228.93,333.99 L229.40,334.71 L229.88,335.39 L230.36,336.05 L230.84,336.69 L231.31,337.33 L231.79,337.94 L232.27,338.52 L232.74,339.08 L233.22,339.59 L233.70,340.06 L234.18,340.49 L234.65,340.87 L235.13,341.24 L235.61,341.58 L236.08,341.91 L236.56,342.22 L237.04,342.52 L237.51,342.80 L237.99,343.07 L238.47,343.33 L238.95,343.58 L239.42,343.82 L239.90,344.06 L240.38,344.29 L240.85,344.52 L241.33,344.74 L241.81,344.96 L242.29,345.17 L242.76,345.38 L243.24,345.59 L243.72,345.78 L244.19,345.98 L244.67,346.17 L245.15,346.35 L245.62,346.53 L246.10,346.71 L246.58,346.87 L247.06,347.04 L247.53,347.19 L248.01,347.35 L248.49,347.49 L248.96,347.63 L249.44,347.77 L249.92,347.90 L250.40,348.03 L250.87,348.15 L251.35,348.27 L251.83,348.39 L252.30,348.50 L252.78,348.62 L253.26,348.73 L253.74,348.84 L254.21,348.94 L254.69,349.05 L255.17,349.15 L255.64,349.25 L256.12,349.35 L256.60,349.44 L257.07,349.54 L257.55,349.63 L258.03,349.72 L258.51,349.81 L258.98,349.89 L259.46,349.98 L259.94,350.06 L260.41,350.15 L260.89,350.23 L261.37,350.31 L261.85,350.39 L262.32,350.47 L262.80,350.55 L263.28,350.63 L263.75,350.70 L264.23,350.78 L264.71,350.85 L265.19,350.93 L265.66,351.00 L266.14,351.08 L266.62,351.15 L267.09,351.22 L267.57,351.29 L268.05,351.37 L268.52,351.44 L269.00,351.50 L269.48,351.57 L269.96,351.64 L270.43,351.71 L270.91,351.78 L271.39,351.84 L271.86,351.91 L272.34,351.97 L272.82,352.04 L273.30,352.10 L273.77,352.16 L274.25,352.23 L274.73,352.29 L275.20,352.35 L275.68,352.41 L276.16,352.47 L276.64,352.53 L277.11,352.59 L277.59,352.64 L278.07,352.70 L278.54,352.76 L279.02,352.81 L279.50,352.87 L279.98,352.92 L280.45,352.98 L280.93,353.03 L281.41,353.08 L281.88,353.13 L282.36,353.19 L282.84,353.24 L283.31,353.29 L283.79,353.34 L284.27,353.38 L284.75,353.43 L285.22,353.48 L285.70,353.53 L286.18,353.57 L286.65,353.62 L287.13,353.66 L287.61,353.71 L288.09,353.75 L288.56,353.79 L289.04,353.83 L289.52,353.88 L289.99,353.92 L290.47,353.96 L290.95,354.00 L291.43,354.03 L291.90,354.07 L292.38,354.11 L292.86,354.15 L293.33,354.18 L293.81,354.22 L294.29,354.26 L294.76,354.29 L295.24,354.33 L295.72,354.36 L296.20,354.40 L296.67,354.43 L297.15,354.47 L297.63,354.50 L298.10,354.54 L298.58,354.57 L299.06,354.61 L299.54,354.64 L300.01,354.67 L300.49,354.71 L300.97,354.74 L301.44,354.78 L301.92,354.81 L302.40,354.85 L302.88,354.88 L303.35,354.91 L303.83,354.95 L304.31,354.98 L304.78,355.02 L305.26,355.06 L305.74,355.09 L306.21,355.13 L306.69,355.16 L307.17,355.20 L307.65,355.24 L308.12,355.28 L308.60,355.31 L309.08,355.35 L309.55,355.39 L310.03,355.43 L310.51,355.47 L310.99,355.51 L311.46,355.55 L311.94,355.59 L312.42,355.63 L312.89,355.67 L313.37,355.71 L313.85,355.75 L314.32,355.79 L314.80,355.82 L315.28,355.86 L315.76,355.90 L316.23,355.94 L316.71,355.98 L317.19,356.02 L317.66,356.06 L318.14,356.10 L318.62,356.15 L319.10,356.19 L319.57,356.23 L320.05,356.27 L320.53,356.31 L321.00,356.35 L321.48,356.39 L321.96,356.43 L322.44,356.47 L322.91,356.51 L323.39,356.55 L323.87,356.59 L324.34,356.63 L324.82,356.67 L325.30,356.71 L325.77,356.75 L326.25,356.79 L326.73,356.83 L327.21,356.87 L327.68,356.91 L328.16,356.95 L328.64,356.99 L329.11,357.03 L329.59,357.07 L330.07,357.11 L330.55,357.15 L331.02,357.19 L331.50,357.23" fill="none" stroke="#52a058" stroke-width="1.15" stroke-linejoin="round"/>
<path d="M217.00,305.40 L217.48,307.48 L217.95,309.37 L218.43,310.89 L218.91,312.23 L219.39,313.46 L219.86,314.67 L220.34,315.85 L220.82,316.98 L221.29,318.07 L221.77,319.14 L222.25,320.21 L222.72,321.29 L223.20,322.39 L223.68,323.52 L224.16,324.65 L224.63,325.78 L225.11,326.88 L225.59,327.94 L226.06,328.95 L226.54,329.89 L227.02,330.79 L227.50,331.65 L227.97,332.49 L228.45,333.29 L228.93,334.04 L229.40,334.75 L229.88,335.40 L230.36,336.00 L230.84,336.58 L231.31,337.14 L231.79,337.67 L232.27,338.17 L232.74,338.64 L233.22,339.07 L233.70,339.47 L234.18,339.82 L234.65,340.15 L235.13,340.45 L235.61,340.73 L236.08,340.99 L236.56,341.24 L237.04,341.48 L237.51,341.71 L237.99,341.93 L238.47,342.15 L238.95,342.36 L239.42,342.58 L239.90,342.80 L240.38,343.03 L240.85,343.26 L241.33,343.49 L241.81,343.72 L242.29,343.95 L242.76,344.18 L243.24,344.41 L243.72,344.63 L244.19,344.85 L244.67,345.07 L245.15,345.28 L245.62,345.49 L246.10,345.69 L246.58,345.88 L247.06,346.06 L247.53,346.24 L248.01,346.40 L248.49,346.55 L248.96,346.70 L249.44,346.83 L249.92,346.95 L250.40,347.08 L250.87,347.20 L251.35,347.31 L251.83,347.43 L252.30,347.54 L252.78,347.65 L253.26,347.76 L253.74,347.86 L254.21,347.96 L254.69,348.06 L255.17,348.16 L255.64,348.25 L256.12,348.34 L256.60,348.43 L257.07,348.52 L257.55,348.60 L258.03,348.68 L258.51,348.76 L258.98,348.83 L259.46,348.91 L259.94,348.98 L260.41,349.05 L260.89,349.11 L261.37,349.18 L261.85,349.24 L262.32,349.30 L262.80,349.36 L263.28,349.41 L263.75,349.47 L264.23,349.52 L264.71,349.57 L265.19,349.62 L265.66,349.67 L266.14,349.72 L266.62,349.76 L267.09,349.81 L267.57,349.85 L268.05,349.90 L268.52,349.94 L269.00,349.98 L269.48,350.02 L269.96,350.06 L270.43,350.10 L270.91,350.14 L271.39,350.18 L271.86,350.21 L272.34,350.25 L272.82,350.28 L273.30,350.32 L273.77,350.35 L274.25,350.39 L274.73,350.42 L275.20,350.46 L275.68,350.49 L276.16,350.52 L276.64,350.56 L277.11,350.59 L277.59,350.62 L278.07,350.65 L278.54,350.69 L279.02,350.72 L279.50,350.75 L279.98,350.79 L280.45,350.82 L280.93,350.85 L281.41,350.89 L281.88,350.92 L282.36,350.96 L282.84,350.99 L283.31,351.03 L283.79,351.06 L284.27,351.10 L284.75,351.13 L285.22,351.17 L285.70,351.21 L286.18,351.25 L286.65,351.29 L287.13,351.33 L287.61,351.37 L288.09,351.40 L288.56,351.44 L289.04,351.48 L289.52,351.52 L289.99,351.56 L290.47,351.60 L290.95,351.64 L291.43,351.68 L291.90,351.71 L292.38,351.75 L292.86,351.79 L293.33,351.83 L293.81,351.87 L294.29,351.91 L294.76,351.95 L295.24,351.99 L295.72,352.02 L296.20,352.06 L296.67,352.10 L297.15,352.14 L297.63,352.18 L298.10,352.22 L298.58,352.26 L299.06,352.30 L299.54,352.34 L300.01,352.37 L300.49,352.41 L300.97,352.45 L301.44,352.49 L301.92,352.53 L302.40,352.57 L302.88,352.61 L303.35,352.64 L303.83,352.68 L304.31,352.72 L304.78,352.76 L305.26,352.80 L305.74,352.84 L306.21,352.87 L306.69,352.91 L307.17,352.95 L307.65,352.99 L308.12,353.03 L308.60,353.06 L309.08,353.10 L309.55,353.14 L310.03,353.18 L310.51,353.22 L310.99,353.25 L311.46,353.29 L311.94,353.33 L312.42,353.37 L312.89,353.40 L313.37,353.44 L313.85,353.48 L314.32,353.52 L314.80,353.55 L315.28,353.59 L315.76,353.63 L316.23,353.66 L316.71,353.70 L317.19,353.74 L317.66,353.78 L318.14,353.81 L318.62,353.85 L319.10,353.89 L319.57,353.92 L320.05,353.96 L320.53,354.00 L321.00,354.04 L321.48,354.07 L321.96,354.11 L322.44,354.15 L322.91,354.18 L323.39,354.22 L323.87,354.26 L324.34,354.30 L324.82,354.33 L325.30,354.37 L325.77,354.41 L326.25,354.44 L326.73,354.48 L327.21,354.52 L327.68,354.55 L328.16,354.59 L328.64,354.63 L329.11,354.67 L329.59,354.70 L330.07,354.74 L330.55,354.78 L331.02,354.81 L331.50,354.85" fill="none" stroke="#aa2c52" stroke-width="1.15" stroke-linejoin="round"/>
<text x="196.30" y="404.60" font-size="7.0" textLength="38.0" lengthAdjust="spacingAndGlyphs" stroke="#231f20" stroke-width="0.1">Number at risk</text>
<text x="196.30" y="414.50" font-size="7.7" textLength="8.1" lengthAdjust="spacingAndGlyphs" fill="#d8406a" stroke="#d8406a" stroke-width="0.1">W:</text>
<text x="217.00" y="414.50" font-size="7.13" text-anchor="middle" textLength="12.9" lengthAdjust="spacingAndGlyphs" stroke="#231f20" stroke-width="0.1">1118</text>
<text x="239.90" y="414.50" font-size="7.13" text-anchor="middle" textLength="10.3" lengthAdjust="spacingAndGlyphs" stroke="#231f20" stroke-width="0.1">513</text>
<text x="262.80" y="414.50" font-size="7.13" text-anchor="middle" textLength="10.3" lengthAdjust="spacingAndGlyphs" stroke="#231f20" stroke-width="0.1">374</text>
<text x="285.70" y="414.50" font-size="7.13" text-anchor="middle" textLength="10.3" lengthAdjust="spacingAndGlyphs" stroke="#231f20" stroke-width="0.1">332</text>
<text x="308.60" y="414.50" font-size="7.13" text-anchor="middle" textLength="10.3" lengthAdjust="spacingAndGlyphs" stroke="#231f20" stroke-width="0.1">162</text>
<text x="331.50" y="414.50" font-size="7.13" text-anchor="middle" textLength="6.9" lengthAdjust="spacingAndGlyphs" stroke="#231f20" stroke-width="0.1">50</text>
<text x="196.30" y="424.25" font-size="7.7" textLength="6.7" lengthAdjust="spacingAndGlyphs" fill="#55b055" stroke="#55b055" stroke-width="0.1">H:</text>
<text x="217.00" y="424.25" font-size="7.13" text-anchor="middle" textLength="10.3" lengthAdjust="spacingAndGlyphs" stroke="#231f20" stroke-width="0.1">485</text>
<text x="239.90" y="424.25" font-size="7.13" text-anchor="middle" textLength="10.3" lengthAdjust="spacingAndGlyphs" stroke="#231f20" stroke-width="0.1">196</text>
<text x="262.80" y="424.25" font-size="7.13" text-anchor="middle" textLength="10.3" lengthAdjust="spacingAndGlyphs" stroke="#231f20" stroke-width="0.1">138</text>
<text x="285.70" y="424.25" font-size="7.13" text-anchor="middle" textLength="10.3" lengthAdjust="spacingAndGlyphs" stroke="#231f20" stroke-width="0.1">108</text>
<text x="308.60" y="424.25" font-size="7.13" text-anchor="middle" textLength="6.9" lengthAdjust="spacingAndGlyphs" stroke="#231f20" stroke-width="0.1">47</text>
<text x="331.50" y="424.25" font-size="7.13" text-anchor="middle" textLength="6.9" lengthAdjust="spacingAndGlyphs" stroke="#231f20" stroke-width="0.1">12</text>
<text x="196.30" y="434.00" font-size="7.7" textLength="6.3" lengthAdjust="spacingAndGlyphs" fill="#4a78b8" stroke="#4a78b8" stroke-width="0.1">B:</text>
<text x="217.00" y="434.00" font-size="7.13" text-anchor="middle" textLength="10.3" lengthAdjust="spacingAndGlyphs" stroke="#231f20" stroke-width="0.1">145</text>
<text x="239.90" y="434.00" font-size="7.13" text-anchor="middle" textLength="6.9" lengthAdjust="spacingAndGlyphs" stroke="#231f20" stroke-width="0.1">59</text>
<text x="262.80" y="434.00" font-size="7.13" text-anchor="middle" textLength="6.9" lengthAdjust="spacingAndGlyphs" stroke="#231f20" stroke-width="0.1">41</text>
<text x="285.70" y="434.00" font-size="7.13" text-anchor="middle" textLength="6.9" lengthAdjust="spacingAndGlyphs" stroke="#231f20" stroke-width="0.1">34</text>
<text x="308.60" y="434.00" font-size="7.13" text-anchor="middle" textLength="6.9" lengthAdjust="spacingAndGlyphs" stroke="#231f20" stroke-width="0.1">14</text>
<text x="331.50" y="434.00" font-size="7.13" text-anchor="middle" textLength="3.4" lengthAdjust="spacingAndGlyphs" stroke="#231f20" stroke-width="0.1">6</text>
<text x="441.30" y="253.20" font-size="8.9" text-anchor="middle" textLength="46.5" lengthAdjust="spacingAndGlyphs" stroke="#231f20" stroke-width="0.1">2015 – 2020</text>
<text x="423.60" y="266.80" font-size="7.13" text-anchor="middle" textLength="31.0" lengthAdjust="spacingAndGlyphs" stroke="#231f20" stroke-width="0.1">Median OS</text>
<text x="466.30" y="266.80" font-size="7.13" text-anchor="middle" textLength="35.1" lengthAdjust="spacingAndGlyphs" stroke="#231f20" stroke-width="0.1">HR (95% CI)</text>
<text x="503.50" y="266.80" font-size="7.13" text-anchor="middle" textLength="20.6" lengthAdjust="spacingAndGlyphs" stroke="#231f20" stroke-width="0.1"><tspan font-style="italic">P</tspan> value</text>
<text x="423.60" y="276.00" font-size="7.13" text-anchor="middle" textLength="17.2" lengthAdjust="spacingAndGlyphs" stroke="#231f20" stroke-width="0.1">24 mo</text>
<text x="466.30" y="276.00" font-size="7.13" text-anchor="middle" textLength="3.4" lengthAdjust="spacingAndGlyphs" stroke="#231f20" stroke-width="0.1">–</text>
<text x="423.60" y="286.00" font-size="7.13" text-anchor="middle" textLength="17.2" lengthAdjust="spacingAndGlyphs" stroke="#231f20" stroke-width="0.1">31 mo</text>
<text x="466.30" y="286.00" font-size="7.13" text-anchor="middle" textLength="48.9" lengthAdjust="spacingAndGlyphs" stroke="#231f20" stroke-width="0.1">0.87 (0.77 – 1.00)</text>
<text x="503.50" y="286.00" font-size="7.13" text-anchor="middle" textLength="8.6" lengthAdjust="spacingAndGlyphs" stroke="#231f20" stroke-width="0.1">.05</text>
<text x="423.60" y="296.00" font-size="7.13" text-anchor="middle" textLength="17.2" lengthAdjust="spacingAndGlyphs" stroke="#231f20" stroke-width="0.1">19 mo</text>
<text x="466.30" y="296.00" font-size="7.13" text-anchor="middle" textLength="48.9" lengthAdjust="spacingAndGlyphs" stroke="#231f20" stroke-width="0.1">1.07 (0.87 – 1.32)</text>
<text x="503.50" y="296.00" font-size="7.13" text-anchor="middle" textLength="8.6" lengthAdjust="spacingAndGlyphs" stroke="#231f20" stroke-width="0.1">.48</text>
<line x1="369.00" y1="273.80" x2="378.50" y2="273.80" stroke="#9a2c4c" stroke-width="1.3"/>
<text x="380.90" y="275.80" font-size="7.0" textLength="16.9" lengthAdjust="spacingAndGlyphs" fill="#d8406a" stroke="#d8406a" stroke-width="0.1">White:</text>
<line x1="369.00" y1="283.80" x2="378.50" y2="283.80" stroke="#43904a" stroke-width="1.3"/>
<text x="380.90" y="285.80" font-size="7.0" textLength="24.5" lengthAdjust="spacingAndGlyphs" fill="#55b055" stroke="#55b055" stroke-width="0.1">Hispanic:</text>
<line x1="369.00" y1="293.80" x2="378.50" y2="293.80" stroke="#45506e" stroke-width="1.3"/>
<text x="380.90" y="295.80" font-size="7.0" textLength="16.2" lengthAdjust="spacingAndGlyphs" fill="#4a78b8" stroke="#4a78b8" stroke-width="0.1">Black:</text>
<line x1="388.30" y1="302.60" x2="388.30" y2="372.10" stroke="#231f20" stroke-width="1.2"/>
<line x1="387.80" y1="371.60" x2="505.30" y2="371.60" stroke="#231f20" stroke-width="1.2"/>
<line x1="385.10" y1="371.60" x2="388.30" y2="371.60" stroke="#231f20" stroke-width="1"/>
<text x="382.00" y="373.60" font-size="6.72" text-anchor="end" textLength="3.6" lengthAdjust="spacingAndGlyphs" stroke="#231f20" stroke-width="0.1">0</text>
<line x1="385.10" y1="358.36" x2="388.30" y2="358.36" stroke="#231f20" stroke-width="1"/>
<text x="382.00" y="360.36" font-size="6.72" text-anchor="end" textLength="7.1" lengthAdjust="spacingAndGlyphs" stroke="#231f20" stroke-width="0.1">20</text>
<line x1="385.10" y1="345.12" x2="388.30" y2="345.12" stroke="#231f20" stroke-width="1"/>
<text x="382.00" y="347.12" font-size="6.72" text-anchor="end" textLength="7.1" lengthAdjust="spacingAndGlyphs" stroke="#231f20" stroke-width="0.1">40</text>
<line x1="385.10" y1="331.88" x2="388.30" y2="331.88" stroke="#231f20" stroke-width="1"/>
<text x="382.00" y="333.88" font-size="6.72" text-anchor="end" textLength="7.1" lengthAdjust="spacingAndGlyphs" stroke="#231f20" stroke-width="0.1">60</text>
<line x1="385.10" y1="318.64" x2="388.30" y2="318.64" stroke="#231f20" stroke-width="1"/>
<text x="382.00" y="320.64" font-size="6.72" text-anchor="end" textLength="7.1" lengthAdjust="spacingAndGlyphs" stroke="#231f20" stroke-width="0.1">80</text>
<line x1="385.10" y1="305.40" x2="388.30" y2="305.40" stroke="#231f20" stroke-width="1"/>
<text x="382.00" y="307.40" font-size="6.72" text-anchor="end" textLength="10.7" lengthAdjust="spacingAndGlyphs" stroke="#231f20" stroke-width="0.1">100</text>
<line x1="388.30" y1="371.60" x2="388.30" y2="374.80" stroke="#231f20" stroke-width="1"/>
<text x="388.30" y="383.20" font-size="6.7" text-anchor="middle" stroke="#231f20" stroke-width="0.1">0</text>
<line x1="416.93" y1="371.60" x2="416.93" y2="374.80" stroke="#231f20" stroke-width="1"/>
<text x="416.93" y="383.20" font-size="6.7" text-anchor="middle" stroke="#231f20" stroke-width="0.1">18</text>
<line x1="445.55" y1="371.60" x2="445.55" y2="374.80" stroke="#231f20" stroke-width="1"/>
<text x="445.55" y="383.20" font-size="6.7" text-anchor="middle" stroke="#231f20" stroke-width="0.1">36</text>
<line x1="474.18" y1="371.60" x2="474.18" y2="374.80" stroke="#231f20" stroke-width="1"/>
<text x="474.18" y="383.20" font-size="6.7" text-anchor="middle" stroke="#231f20" stroke-width="0.1">54</text>
<line x1="502.80" y1="371.60" x2="502.80" y2="374.80" stroke="#231f20" stroke-width="1"/>
<text x="502.80" y="383.20" font-size="6.7" text-anchor="middle" stroke="#231f20" stroke-width="0.1">72</text>
<text x="390.50" y="367.70" font-size="7.24" textLength="20.0" lengthAdjust="spacingAndGlyphs" stroke="#231f20" stroke-width="0.1"><tspan font-style="italic">P</tspan> = .07</text>
<text x="415.30" y="393.90" font-size="8.3" textLength="62.0" lengthAdjust="spacingAndGlyphs" stroke="#231f20" stroke-width="0.3">Overall survival (months)</text>
<path d="M388.30,305.40 L389.10,307.53 L389.89,309.65 L390.69,311.36 L391.48,312.63 L392.28,313.73 L393.07,314.72 L393.87,315.61 L394.66,316.45 L395.46,317.26 L396.25,318.08 L397.05,318.94 L397.84,319.86 L398.64,320.80 L399.43,321.74 L400.23,322.67 L401.02,323.58 L401.82,324.44 L402.61,325.25 L403.41,326.01 L404.20,326.75 L405.00,327.46 L405.79,328.15 L406.59,328.83 L407.38,329.50 L408.18,330.16 L408.97,330.80 L409.77,331.42 L410.56,332.04 L411.36,332.66 L412.15,333.28 L412.95,333.90 L413.74,334.54 L414.54,335.19 L415.33,335.89 L416.13,336.63 L416.93,337.37 L417.72,338.09 L418.52,338.73 L419.31,339.26 L420.11,339.75 L420.90,340.23 L421.70,340.70 L422.49,341.16 L423.29,341.59 L424.08,341.99 L424.88,342.36 L425.67,342.69 L426.47,342.97 L427.26,343.20 L428.06,343.37 L428.85,343.48 L429.65,343.56 L430.44,343.64 L431.24,343.70 L432.03,343.76 L432.83,343.81 L433.62,343.85 L434.42,343.89 L435.21,343.93 L436.01,343.96 L436.80,343.99 L437.60,344.02 L438.39,344.05 L439.19,344.08 L439.98,344.11 L440.78,344.15 L441.57,344.18 L442.37,344.23 L443.16,344.27 L443.96,344.33 L444.75,344.39 L445.55,344.46 L446.35,344.54 L447.14,344.64 L447.94,344.76 L448.73,344.89 L449.53,345.04 L450.32,345.19 L451.12,345.34 L451.91,345.50 L452.71,345.66 L453.50,345.82 L454.30,345.97 L455.09,346.11 L455.09,347.11 L455.89,347.13 L456.68,347.17 L457.48,347.20 L458.27,347.23 L459.07,347.27 L459.86,347.30 L460.66,347.34 L461.45,347.38 L462.25,347.41 L463.04,347.45 L463.84,347.48 L464.63,347.52 L465.43,347.55 L466.22,347.59 L467.02,347.62 L467.81,347.65 L468.61,347.67 L469.40,347.70 L470.20,347.72 L470.99,347.73 L471.79,347.75 L472.58,347.76 L473.38,347.77 L474.18,347.77 L474.97,347.77 L475.77,347.77 L476.56,347.76 L477.36,347.76 L478.15,347.75 L478.95,347.75 L479.74,347.74 L480.54,347.73 L481.33,347.72 L482.13,347.72 L482.92,347.71 L483.72,347.69 L484.51,347.68 L485.31,347.67 L486.10,347.66 L486.90,347.65 L487.69,347.63 L488.49,347.62 L489.28,347.61 L490.08,347.59 L490.87,347.58 L491.67,347.56 L492.46,347.55 L493.26,347.53 L494.05,347.52 L494.85,347.50 L495.64,347.49 L496.44,347.47 L497.23,347.46 L498.03,347.45 L498.82,347.43 L499.62,347.42 L500.41,347.41 L501.21,347.39 L502.00,347.38 L502.80,347.37" fill="none" stroke="#4f6694" stroke-width="1.15" stroke-linejoin="round"/>
<path d="M388.30,305.40 L389.10,306.41 L389.89,307.42 L390.69,308.38 L391.48,309.28 L392.28,310.15 L393.07,311.00 L393.87,311.83 L394.66,312.64 L395.46,313.44 L396.25,314.23 L397.05,315.02 L397.84,315.80 L398.64,316.57 L399.43,317.33 L400.23,318.07 L401.02,318.81 L401.82,319.53 L402.61,320.25 L403.41,320.96 L404.20,321.66 L405.00,322.36 L405.79,323.03 L406.59,323.69 L407.38,324.32 L408.18,324.95 L408.97,325.58 L409.77,326.21 L410.56,326.83 L411.36,327.44 L412.15,328.03 L412.95,328.60 L413.74,329.14 L414.54,329.66 L415.33,330.15 L416.13,330.60 L416.93,331.02 L417.72,331.43 L418.52,331.81 L419.31,332.19 L420.11,332.55 L420.90,332.90 L421.70,333.23 L422.49,333.56 L423.29,333.88 L424.08,334.18 L424.88,334.48 L425.67,334.78 L426.47,335.07 L427.26,335.35 L428.06,335.63 L428.85,335.91 L429.65,336.18 L430.44,336.46 L431.24,336.74 L432.03,337.01 L432.83,337.28 L433.62,337.55 L434.42,337.81 L435.21,338.07 L436.01,338.33 L436.80,338.58 L437.60,338.83 L438.39,339.06 L439.19,339.30 L439.98,339.52 L440.78,339.73 L441.57,339.94 L442.37,340.14 L443.16,340.32 L443.96,340.50 L444.75,340.66 L445.55,340.82 L446.35,340.96 L447.14,341.10 L447.94,341.24 L448.73,341.37 L449.53,341.50 L450.32,341.62 L451.12,341.74 L451.91,341.86 L452.71,341.97 L453.50,342.08 L454.30,342.19 L455.09,342.30 L455.89,342.40 L456.68,342.50 L457.48,342.60 L458.27,342.70 L459.07,342.79 L459.86,342.89 L460.66,342.98 L461.45,343.07 L462.25,343.16 L463.04,343.25 L463.84,343.33 L464.63,343.42 L465.43,343.50 L466.22,343.59 L467.02,343.68 L467.81,343.76 L468.61,343.85 L469.40,343.93 L470.20,344.02 L470.99,344.10 L471.79,344.19 L472.58,344.28 L473.38,344.37 L474.18,344.46 L474.97,344.55 L475.77,344.64 L476.56,344.73 L477.36,344.82 L478.15,344.90 L478.95,344.99 L479.74,345.07 L480.54,345.16 L481.33,345.24 L482.13,345.33 L482.92,345.41 L483.72,345.50 L484.51,345.58 L485.31,345.66 L486.10,345.74 L486.90,345.82 L487.69,345.90 L488.49,345.98 L489.28,346.07 L490.08,346.15 L490.87,346.23 L491.67,346.31 L492.46,346.39 L493.26,346.47 L494.05,346.55 L494.85,346.63 L495.64,346.71 L496.44,346.79 L497.23,346.87 L498.03,346.95 L498.82,347.03 L499.62,347.11 L500.41,347.19 L501.21,347.27 L502.00,347.35 L502.80,347.44" fill="none" stroke="#52a058" stroke-width="1.15" stroke-linejoin="round"/>
<path d="M388.30,305.40 L389.10,307.54 L389.89,309.68 L390.69,311.36 L391.48,312.55 L392.28,313.58 L393.07,314.48 L393.87,315.29 L394.66,316.04 L395.46,316.77 L396.25,317.51 L397.05,318.30 L397.84,319.16 L398.64,320.05 L399.43,320.94 L400.23,321.81 L401.02,322.67 L401.82,323.48 L402.61,324.23 L403.41,324.95 L404.20,325.65 L405.00,326.32 L405.79,326.95 L406.59,327.56 L407.38,328.13 L408.18,328.69 L408.97,329.23 L409.77,329.76 L410.56,330.27 L411.36,330.77 L412.15,331.25 L412.95,331.72 L413.74,332.17 L414.54,332.61 L415.33,333.04 L416.13,333.45 L416.93,333.86 L417.72,334.26 L418.52,334.66 L419.31,335.05 L420.11,335.44 L420.90,335.82 L421.70,336.19 L422.49,336.55 L423.29,336.90 L424.08,337.23 L424.88,337.55 L425.67,337.86 L426.47,338.14 L427.26,338.41 L428.06,338.65 L428.85,338.87 L429.65,339.08 L430.44,339.29 L431.24,339.48 L432.03,339.67 L432.83,339.85 L433.62,340.03 L434.42,340.19 L435.21,340.36 L436.01,340.51 L436.80,340.67 L437.60,340.81 L438.39,340.96 L439.19,341.10 L439.98,341.23 L440.78,341.36 L441.57,341.49 L442.37,341.61 L443.16,341.73 L443.96,341.85 L444.75,341.96 L445.55,342.07 L446.35,342.18 L447.14,342.29 L447.94,342.39 L448.73,342.50 L449.53,342.59 L450.32,342.69 L451.12,342.78 L451.91,342.87 L452.71,342.96 L453.50,343.04 L454.30,343.13 L455.09,343.21 L455.89,343.29 L456.68,343.37 L457.48,343.45 L458.27,343.52 L459.07,343.60 L459.86,343.68 L460.66,343.75 L461.45,343.83 L462.25,343.90 L463.04,343.98 L463.84,344.05 L464.63,344.13 L465.43,344.20 L466.22,344.28 L467.02,344.36 L467.81,344.43 L468.61,344.51 L469.40,344.59 L470.20,344.68 L470.99,344.76 L471.79,344.85 L472.58,344.94 L473.38,345.03 L474.18,345.12 L474.97,345.22 L475.77,345.31 L476.56,345.41 L477.36,345.51 L478.15,345.61 L478.95,345.71 L479.74,345.81 L480.54,345.91 L481.33,346.02 L482.13,346.12 L482.92,346.23 L483.72,346.33 L484.51,346.44 L485.31,346.55 L486.10,346.66 L486.90,346.77 L487.69,346.87 L488.49,346.98 L489.28,347.09 L490.08,347.20 L490.87,347.31 L491.67,347.43 L492.46,347.54 L493.26,347.65 L494.05,347.76 L494.85,347.87 L495.64,347.98 L496.44,348.09 L497.23,348.20 L498.03,348.31 L498.82,348.42 L499.62,348.53 L500.41,348.64 L501.21,348.74 L502.00,348.85 L502.80,348.96" fill="none" stroke="#aa2c52" stroke-width="1.15" stroke-linejoin="round"/>
<text x="367.60" y="404.60" font-size="7.0" textLength="38.0" lengthAdjust="spacingAndGlyphs" stroke="#231f20" stroke-width="0.1">Number at risk</text>
<text x="367.60" y="414.50" font-size="7.7" textLength="8.1" lengthAdjust="spacingAndGlyphs" fill="#d8406a" stroke="#d8406a" stroke-width="0.1">W:</text>
<text x="388.30" y="414.50" font-size="7.13" text-anchor="middle" textLength="13.8" lengthAdjust="spacingAndGlyphs" stroke="#231f20" stroke-width="0.1">1345</text>
<text x="416.93" y="414.50" font-size="7.13" text-anchor="middle" textLength="10.3" lengthAdjust="spacingAndGlyphs" stroke="#231f20" stroke-width="0.1">559</text>
<text x="445.55" y="414.50" font-size="7.13" text-anchor="middle" textLength="10.3" lengthAdjust="spacingAndGlyphs" stroke="#231f20" stroke-width="0.1">266</text>
<text x="474.18" y="414.50" font-size="7.13" text-anchor="middle" textLength="9.4" lengthAdjust="spacingAndGlyphs" stroke="#231f20" stroke-width="0.1">111</text>
<text x="502.80" y="414.50" font-size="7.13" text-anchor="middle" textLength="3.4" lengthAdjust="spacingAndGlyphs" stroke="#231f20" stroke-width="0.1">0</text>
<text x="367.60" y="424.25" font-size="7.7" textLength="6.7" lengthAdjust="spacingAndGlyphs" fill="#55b055" stroke="#55b055" stroke-width="0.1">H:</text>
<text x="388.30" y="424.25" font-size="7.13" text-anchor="middle" textLength="10.3" lengthAdjust="spacingAndGlyphs" stroke="#231f20" stroke-width="0.1">760</text>
<text x="416.93" y="424.25" font-size="7.13" text-anchor="middle" textLength="10.3" lengthAdjust="spacingAndGlyphs" stroke="#231f20" stroke-width="0.1">314</text>
<text x="445.55" y="424.25" font-size="7.13" text-anchor="middle" textLength="10.3" lengthAdjust="spacingAndGlyphs" stroke="#231f20" stroke-width="0.1">145</text>
<text x="474.18" y="424.25" font-size="7.13" text-anchor="middle" textLength="6.9" lengthAdjust="spacingAndGlyphs" stroke="#231f20" stroke-width="0.1">48</text>
<text x="502.80" y="424.25" font-size="7.13" text-anchor="middle" textLength="3.4" lengthAdjust="spacingAndGlyphs" stroke="#231f20" stroke-width="0.1">0</text>
<text x="367.60" y="434.00" font-size="7.7" textLength="6.3" lengthAdjust="spacingAndGlyphs" fill="#4a78b8" stroke="#4a78b8" stroke-width="0.1">B:</text>
<text x="388.30" y="434.00" font-size="7.13" text-anchor="middle" textLength="10.3" lengthAdjust="spacingAndGlyphs" stroke="#231f20" stroke-width="0.1">198</text>
<text x="416.93" y="434.00" font-size="7.13" text-anchor="middle" textLength="6.9" lengthAdjust="spacingAndGlyphs" stroke="#231f20" stroke-width="0.1">77</text>
<text x="445.55" y="434.00" font-size="7.13" text-anchor="middle" textLength="6.9" lengthAdjust="spacingAndGlyphs" stroke="#231f20" stroke-width="0.1">33</text>
<text x="474.18" y="434.00" font-size="7.13" text-anchor="middle" textLength="6.9" lengthAdjust="spacingAndGlyphs" stroke="#231f20" stroke-width="0.1">12</text>
<text x="502.80" y="434.00" font-size="7.13" text-anchor="middle" textLength="3.4" lengthAdjust="spacingAndGlyphs" stroke="#231f20" stroke-width="0.1">0</text>
<text x="6.50" y="16.40" font-size="11.3" font-weight="bold" stroke="#231f20" stroke-width="0.5">A</text>
<text x="269.30" y="16.70" font-size="10.4" text-anchor="middle" textLength="179.0" lengthAdjust="spacingAndGlyphs" stroke="#231f20" stroke-width="0.1">SEER database: AYA patients (15 – 40 years)</text>
<text x="6.90" y="238.20" font-size="11.3" font-weight="bold" stroke="#231f20" stroke-width="0.5">B</text>
<text x="269.50" y="238.60" font-size="10.4" text-anchor="middle" textLength="163.5" lengthAdjust="spacingAndGlyphs" stroke="#231f20" stroke-width="0.1">SEER database: Older adults (&gt;40 years)</text>
<text x="6.90" y="460.20" font-size="11.3" font-weight="bold" stroke="#231f20" stroke-width="0.5">C</text>
<text x="97.20" y="459.80" font-size="8.1" text-anchor="middle" textLength="54.0" lengthAdjust="spacingAndGlyphs" stroke="#231f20" stroke-width="0.1">Adults with ALL</text>
<text x="97.20" y="470.00" font-size="8.1" text-anchor="middle" textLength="113.5" lengthAdjust="spacingAndGlyphs" stroke="#231f20" stroke-width="0.1">(SEER database, 2010 – 2020)</text>
<text x="81.50" y="483.90" font-size="7.13" text-anchor="middle" textLength="31.0" lengthAdjust="spacingAndGlyphs" stroke="#231f20" stroke-width="0.1">Median OS</text>
<text x="124.60" y="483.90" font-size="7.13" text-anchor="middle" textLength="35.1" lengthAdjust="spacingAndGlyphs" stroke="#231f20" stroke-width="0.1">HR (95% CI)</text>
<text x="161.30" y="483.90" font-size="7.13" text-anchor="middle" textLength="20.6" lengthAdjust="spacingAndGlyphs" stroke="#231f20" stroke-width="0.1"><tspan font-style="italic">P</tspan> value</text>
<text x="63.30" y="493.20" font-size="7.13" text-anchor="end" textLength="36.2" lengthAdjust="spacingAndGlyphs" fill="#6a4a80" stroke="#6a4a80" stroke-width="0.1">High income:</text>
<text x="81.50" y="493.20" font-size="7.13" text-anchor="middle" textLength="17.2" lengthAdjust="spacingAndGlyphs" stroke="#231f20" stroke-width="0.1">64 mo</text>
<text x="124.60" y="493.20" font-size="7.13" text-anchor="middle" textLength="3.4" lengthAdjust="spacingAndGlyphs" stroke="#231f20" stroke-width="0.1">–</text>
<text x="63.30" y="503.20" font-size="7.13" text-anchor="end" textLength="41.7" lengthAdjust="spacingAndGlyphs" fill="#dc4590" stroke="#dc4590" stroke-width="0.1">Middle income:</text>
<text x="81.50" y="503.20" font-size="7.13" text-anchor="middle" textLength="17.2" lengthAdjust="spacingAndGlyphs" stroke="#231f20" stroke-width="0.1">44 mo</text>
<text x="124.60" y="503.20" font-size="7.13" text-anchor="middle" textLength="48.9" lengthAdjust="spacingAndGlyphs" stroke="#231f20" stroke-width="0.1">1.15 (1.07 – 1.23)</text>
<text x="161.30" y="503.20" font-size="7.13" text-anchor="middle" textLength="17.4" lengthAdjust="spacingAndGlyphs" stroke="#231f20" stroke-width="0.1">&lt; .001</text>
<text x="63.30" y="513.20" font-size="7.13" text-anchor="end" textLength="34.8" lengthAdjust="spacingAndGlyphs" fill="#9c98bc" stroke="#9c98bc" stroke-width="0.1">Low income:</text>
<text x="81.50" y="513.20" font-size="7.13" text-anchor="middle" textLength="17.2" lengthAdjust="spacingAndGlyphs" stroke="#231f20" stroke-width="0.1">32 mo</text>
<text x="124.60" y="513.20" font-size="7.13" text-anchor="middle" textLength="48.9" lengthAdjust="spacingAndGlyphs" stroke="#231f20" stroke-width="0.1">1.32 (1.18 – 1.48)</text>
<text x="161.30" y="513.20" font-size="7.13" text-anchor="middle" textLength="17.4" lengthAdjust="spacingAndGlyphs" stroke="#231f20" stroke-width="0.1">&lt; .001</text>
<line x1="38.40" y1="520.40" x2="38.40" y2="589.30" stroke="#231f20" stroke-width="1.2"/>
<line x1="37.90" y1="588.80" x2="155.40" y2="588.80" stroke="#231f20" stroke-width="1.2"/>
<line x1="35.20" y1="588.80" x2="38.40" y2="588.80" stroke="#231f20" stroke-width="1"/>
<text x="32.10" y="590.80" font-size="6.72" text-anchor="end" textLength="3.6" lengthAdjust="spacingAndGlyphs" stroke="#231f20" stroke-width="0.1">0</text>
<line x1="35.20" y1="575.68" x2="38.40" y2="575.68" stroke="#231f20" stroke-width="1"/>
<text x="32.10" y="577.68" font-size="6.72" text-anchor="end" textLength="7.1" lengthAdjust="spacingAndGlyphs" stroke="#231f20" stroke-width="0.1">20</text>
<line x1="35.20" y1="562.56" x2="38.40" y2="562.56" stroke="#231f20" stroke-width="1"/>
<text x="32.10" y="564.56" font-size="6.72" text-anchor="end" textLength="7.1" lengthAdjust="spacingAndGlyphs" stroke="#231f20" stroke-width="0.1">40</text>
<line x1="35.20" y1="549.44" x2="38.40" y2="549.44" stroke="#231f20" stroke-width="1"/>
<text x="32.10" y="551.44" font-size="6.72" text-anchor="end" textLength="7.1" lengthAdjust="spacingAndGlyphs" stroke="#231f20" stroke-width="0.1">60</text>
<line x1="35.20" y1="536.32" x2="38.40" y2="536.32" stroke="#231f20" stroke-width="1"/>
<text x="32.10" y="538.32" font-size="6.72" text-anchor="end" textLength="7.1" lengthAdjust="spacingAndGlyphs" stroke="#231f20" stroke-width="0.1">80</text>
<line x1="35.20" y1="523.20" x2="38.40" y2="523.20" stroke="#231f20" stroke-width="1"/>
<text x="32.10" y="525.20" font-size="6.72" text-anchor="end" textLength="10.7" lengthAdjust="spacingAndGlyphs" stroke="#231f20" stroke-width="0.1">100</text>
<line x1="38.40" y1="588.80" x2="38.40" y2="592.00" stroke="#231f20" stroke-width="1"/>
<text x="38.40" y="600.40" font-size="6.7" text-anchor="middle" stroke="#231f20" stroke-width="0.1">0</text>
<line x1="61.30" y1="588.80" x2="61.30" y2="592.00" stroke="#231f20" stroke-width="1"/>
<text x="61.30" y="600.40" font-size="6.7" text-anchor="middle" stroke="#231f20" stroke-width="0.1">24</text>
<line x1="84.20" y1="588.80" x2="84.20" y2="592.00" stroke="#231f20" stroke-width="1"/>
<text x="84.20" y="600.40" font-size="6.7" text-anchor="middle" stroke="#231f20" stroke-width="0.1">48</text>
<line x1="107.10" y1="588.80" x2="107.10" y2="592.00" stroke="#231f20" stroke-width="1"/>
<text x="107.10" y="600.40" font-size="6.7" text-anchor="middle" stroke="#231f20" stroke-width="0.1">72</text>
<line x1="130.00" y1="588.80" x2="130.00" y2="592.00" stroke="#231f20" stroke-width="1"/>
<text x="130.00" y="600.40" font-size="6.7" text-anchor="middle" stroke="#231f20" stroke-width="0.1">96</text>
<line x1="152.90" y1="588.80" x2="152.90" y2="592.00" stroke="#231f20" stroke-width="1"/>
<text x="152.90" y="600.40" font-size="6.7" text-anchor="middle" stroke="#231f20" stroke-width="0.1">120</text>
<text x="40.60" y="584.90" font-size="7.24" textLength="23.5" lengthAdjust="spacingAndGlyphs" stroke="#231f20" stroke-width="0.1"><tspan font-style="italic">P</tspan> &lt; .001</text>
<text x="65.40" y="611.10" font-size="8.3" textLength="62.0" lengthAdjust="spacingAndGlyphs" stroke="#231f20" stroke-width="0.3">Overall survival (months)</text>
<text x="0" y="0" font-size="7.2" text-anchor="middle" textLength="39.5" lengthAdjust="spacingAndGlyphs" stroke="#231f20" stroke-width="0.32" transform="translate(16.20,554.30) rotate(-90)">Percent survival</text>
<path d="M38.40,523.20 L38.88,524.55 L39.35,525.92 L39.83,527.24 L40.31,528.45 L40.79,529.55 L41.26,530.62 L41.74,531.65 L42.22,532.64 L42.69,533.59 L43.17,534.50 L43.65,535.37 L44.12,536.20 L44.60,536.98 L45.08,537.73 L45.56,538.47 L46.03,539.20 L46.51,539.92 L46.99,540.61 L47.46,541.29 L47.94,541.95 L48.42,542.58 L48.90,543.19 L49.37,543.77 L49.85,544.32 L50.33,544.83 L50.80,545.31 L51.28,545.76 L51.76,546.16 L52.24,546.54 L52.71,546.90 L53.19,547.25 L53.67,547.58 L54.14,547.90 L54.62,548.21 L55.10,548.51 L55.58,548.80 L56.05,549.08 L56.53,549.34 L57.01,549.60 L57.48,549.85 L57.96,550.09 L58.44,550.32 L58.91,550.55 L59.39,550.77 L59.87,550.99 L60.35,551.20 L60.82,551.40 L61.30,551.60 L61.78,551.80 L62.25,552.00 L62.73,552.19 L63.21,552.37 L63.69,552.55 L64.16,552.73 L64.64,552.90 L65.12,553.07 L65.59,553.24 L66.07,553.40 L66.55,553.56 L67.03,553.72 L67.50,553.87 L67.98,554.02 L68.46,554.17 L68.93,554.31 L69.41,554.45 L69.89,554.58 L70.36,554.72 L70.84,554.85 L71.32,554.98 L71.80,555.10 L72.27,555.22 L72.75,555.34 L73.23,555.46 L73.70,555.58 L74.18,555.70 L74.66,555.81 L75.14,555.93 L75.61,556.04 L76.09,556.15 L76.57,556.26 L77.04,556.37 L77.52,556.47 L78.00,556.57 L78.47,556.68 L78.95,556.77 L79.43,556.87 L79.91,556.96 L80.38,557.05 L80.86,557.14 L81.34,557.22 L81.81,557.30 L82.29,557.38 L82.77,557.45 L83.25,557.52 L83.72,557.58 L84.20,557.64 L84.68,557.70 L85.15,557.75 L85.63,557.81 L86.11,557.86 L86.59,557.91 L87.06,557.96 L87.54,558.01 L88.02,558.06 L88.49,558.11 L88.97,558.15 L89.45,558.20 L89.92,558.24 L90.40,558.29 L90.88,558.33 L91.36,558.37 L91.83,558.41 L92.31,558.45 L92.79,558.49 L93.26,558.53 L93.74,558.57 L94.22,558.61 L94.70,558.65 L95.17,558.68 L95.65,558.72 L96.13,558.75 L96.60,558.79 L97.08,558.82 L97.56,558.85 L98.04,558.89 L98.51,558.92 L98.99,558.95 L99.47,558.98 L99.94,559.02 L100.42,559.05 L100.90,559.08 L101.38,559.11 L101.85,559.14 L102.33,559.17 L102.81,559.20 L103.28,559.23 L103.76,559.26 L104.24,559.29 L104.71,559.32 L105.19,559.35 L105.67,559.38 L106.15,559.42 L106.62,559.45 L107.10,559.48 L107.58,559.51 L108.05,559.54 L108.53,559.57 L109.01,559.60 L109.49,559.63 L109.96,559.66 L110.44,559.68 L110.92,559.71 L111.39,559.74 L111.87,559.77 L112.35,559.80 L112.82,559.82 L113.30,559.85 L113.78,559.88 L114.26,559.90 L114.73,559.93 L115.21,559.96 L115.69,559.98 L116.16,560.01 L116.64,560.03 L117.12,560.06 L117.60,560.08 L118.07,560.11 L118.55,560.13 L119.03,560.16 L119.50,560.18 L119.98,560.21 L120.46,560.23 L120.94,560.26 L121.41,560.28 L121.89,560.31 L122.37,560.33 L122.84,560.35 L123.32,560.38 L123.80,560.40 L124.28,560.43 L124.75,560.45 L125.23,560.48 L125.71,560.50 L126.18,560.52 L126.66,560.55 L127.14,560.57 L127.61,560.60 L128.09,560.62 L128.57,560.65 L129.05,560.67 L129.52,560.70 L130.00,560.72 L130.48,560.75 L130.95,560.77 L131.43,560.80 L131.91,560.82 L132.39,560.85 L132.86,560.87 L133.34,560.90 L133.82,560.92 L134.29,560.95 L134.77,560.97 L135.25,561.00 L135.72,561.02 L136.20,561.05 L136.68,561.07 L137.16,561.10 L137.63,561.12 L138.11,561.15 L138.59,561.17 L139.06,561.20 L139.54,561.22 L140.02,561.24 L140.50,561.27 L140.97,561.29 L141.45,561.32 L141.93,561.34 L142.40,561.37 L142.88,561.39 L143.36,561.42 L143.84,561.44 L144.31,561.46 L144.79,561.49 L145.27,561.51 L145.74,561.54 L146.22,561.56 L146.70,561.59 L147.17,561.61 L147.65,561.63 L148.13,561.66 L148.61,561.68 L149.08,561.71 L149.56,561.73 L150.04,561.76 L150.51,561.78 L150.99,561.81 L151.47,561.83 L151.95,561.85 L152.42,561.88 L152.90,561.90" fill="none" stroke="#a49ccc" stroke-width="1.15" stroke-linejoin="round"/>
<path d="M38.40,523.20 L38.88,524.20 L39.35,525.21 L39.83,526.20 L40.31,527.14 L40.79,528.02 L41.26,528.90 L41.74,529.75 L42.22,530.58 L42.69,531.39 L43.17,532.18 L43.65,532.93 L44.12,533.66 L44.60,534.35 L45.08,535.02 L45.56,535.68 L46.03,536.33 L46.51,536.97 L46.99,537.59 L47.46,538.20 L47.94,538.80 L48.42,539.38 L48.90,539.94 L49.37,540.48 L49.85,541.01 L50.33,541.51 L50.80,541.99 L51.28,542.45 L51.76,542.88 L52.24,543.30 L52.71,543.71 L53.19,544.12 L53.67,544.52 L54.14,544.91 L54.62,545.29 L55.10,545.66 L55.58,546.03 L56.05,546.38 L56.53,546.73 L57.01,547.06 L57.48,547.38 L57.96,547.68 L58.44,547.98 L58.91,548.26 L59.39,548.53 L59.87,548.78 L60.35,549.02 L60.82,549.24 L61.30,549.44 L61.78,549.63 L62.25,549.81 L62.73,549.99 L63.21,550.16 L63.69,550.32 L64.16,550.48 L64.64,550.62 L65.12,550.77 L65.59,550.91 L66.07,551.04 L66.55,551.17 L67.03,551.30 L67.50,551.43 L67.98,551.55 L68.46,551.67 L68.93,551.79 L69.41,551.90 L69.89,552.02 L70.36,552.13 L70.84,552.25 L71.32,552.36 L71.80,552.48 L72.27,552.60 L72.75,552.72 L73.23,552.84 L73.70,552.96 L74.18,553.09 L74.66,553.21 L75.14,553.33 L75.61,553.45 L76.09,553.57 L76.57,553.69 L77.04,553.81 L77.52,553.92 L78.00,554.04 L78.47,554.15 L78.95,554.27 L79.43,554.38 L79.91,554.48 L80.38,554.59 L80.86,554.69 L81.34,554.80 L81.81,554.90 L82.29,554.99 L82.77,555.08 L83.25,555.17 L83.72,555.26 L84.20,555.34 L84.68,555.42 L85.15,555.50 L85.63,555.58 L86.11,555.66 L86.59,555.74 L87.06,555.81 L87.54,555.88 L88.02,555.96 L88.49,556.03 L88.97,556.10 L89.45,556.17 L89.92,556.24 L90.40,556.31 L90.88,556.37 L91.36,556.44 L91.83,556.51 L92.31,556.57 L92.79,556.63 L93.26,556.70 L93.74,556.76 L94.22,556.82 L94.70,556.88 L95.17,556.94 L95.65,557.00 L96.13,557.06 L96.60,557.12 L97.08,557.18 L97.56,557.23 L98.04,557.29 L98.51,557.35 L98.99,557.40 L99.47,557.46 L99.94,557.51 L100.42,557.57 L100.90,557.62 L101.38,557.67 L101.85,557.73 L102.33,557.78 L102.81,557.83 L103.28,557.88 L103.76,557.94 L104.24,557.99 L104.71,558.04 L105.19,558.09 L105.67,558.14 L106.15,558.19 L106.62,558.24 L107.10,558.30 L107.58,558.35 L108.05,558.40 L108.53,558.45 L109.01,558.50 L109.49,558.55 L109.96,558.60 L110.44,558.65 L110.92,558.70 L111.39,558.75 L111.87,558.80 L112.35,558.85 L112.82,558.90 L113.30,558.94 L113.78,558.99 L114.26,559.04 L114.73,559.09 L115.21,559.14 L115.69,559.18 L116.16,559.23 L116.64,559.28 L117.12,559.32 L117.60,559.37 L118.07,559.41 L118.55,559.46 L119.03,559.50 L119.50,559.55 L119.98,559.59 L120.46,559.63 L120.94,559.68 L121.41,559.72 L121.89,559.76 L122.37,559.80 L122.84,559.84 L123.32,559.88 L123.80,559.92 L124.28,559.96 L124.75,560.00 L125.23,560.04 L125.71,560.08 L126.18,560.12 L126.66,560.15 L127.14,560.19 L127.61,560.22 L128.09,560.26 L128.57,560.29 L129.05,560.33 L129.52,560.36 L130.00,560.40 L130.48,560.43 L130.95,560.46 L131.43,560.49 L131.91,560.52 L132.39,560.55 L132.86,560.58 L133.34,560.61 L133.82,560.64 L134.29,560.67 L134.77,560.70 L135.25,560.72 L135.72,560.75 L136.20,560.78 L136.68,560.81 L137.16,560.83 L137.63,560.86 L138.11,560.88 L138.59,560.91 L139.06,560.93 L139.54,560.96 L140.02,560.98 L140.50,561.01 L140.97,561.03 L141.45,561.06 L141.93,561.08 L142.40,561.11 L142.88,561.13 L143.36,561.15 L143.84,561.18 L144.31,561.20 L144.79,561.23 L145.27,561.25 L145.74,561.27 L146.22,561.30 L146.70,561.32 L147.17,561.34 L147.65,561.37 L148.13,561.39 L148.61,561.42 L149.08,561.44 L149.56,561.47 L150.04,561.49 L150.51,561.51 L150.99,561.54 L151.47,561.56 L151.95,561.59 L152.42,561.62 L152.90,561.64" fill="none" stroke="#cc3a90" stroke-width="1.15" stroke-linejoin="round"/>
<path d="M38.40,523.20 L38.88,524.03 L39.35,524.86 L39.83,525.68 L40.31,526.48 L40.79,527.26 L41.26,528.03 L41.74,528.81 L42.22,529.56 L42.69,530.31 L43.17,531.03 L43.65,531.73 L44.12,532.40 L44.60,533.04 L45.08,533.66 L45.56,534.26 L46.03,534.86 L46.51,535.45 L46.99,536.03 L47.46,536.60 L47.94,537.15 L48.42,537.68 L48.90,538.20 L49.37,538.71 L49.85,539.19 L50.33,539.65 L50.80,540.10 L51.28,540.52 L51.76,540.91 L52.24,541.29 L52.71,541.66 L53.19,542.03 L53.67,542.39 L54.14,542.73 L54.62,543.08 L55.10,543.41 L55.58,543.73 L56.05,544.04 L56.53,544.35 L57.01,544.64 L57.48,544.93 L57.96,545.20 L58.44,545.47 L58.91,545.72 L59.39,545.96 L59.87,546.19 L60.35,546.41 L60.82,546.62 L61.30,546.82 L61.78,547.00 L62.25,547.18 L62.73,547.35 L63.21,547.52 L63.69,547.68 L64.16,547.83 L64.64,547.98 L65.12,548.12 L65.59,548.26 L66.07,548.40 L66.55,548.53 L67.03,548.66 L67.50,548.78 L67.98,548.91 L68.46,549.03 L68.93,549.15 L69.41,549.27 L69.89,549.39 L70.36,549.50 L70.84,549.62 L71.32,549.74 L71.80,549.86 L72.27,549.98 L72.75,550.10 L73.23,550.22 L73.70,550.34 L74.18,550.46 L74.66,550.58 L75.14,550.70 L75.61,550.81 L76.09,550.93 L76.57,551.04 L77.04,551.16 L77.52,551.27 L78.00,551.39 L78.47,551.50 L78.95,551.61 L79.43,551.72 L79.91,551.82 L80.38,551.93 L80.86,552.03 L81.34,552.14 L81.81,552.24 L82.29,552.34 L82.77,552.44 L83.25,552.53 L83.72,552.63 L84.20,552.72 L84.68,552.81 L85.15,552.90 L85.63,552.99 L86.11,553.08 L86.59,553.17 L87.06,553.26 L87.54,553.34 L88.02,553.43 L88.49,553.51 L88.97,553.60 L89.45,553.68 L89.92,553.76 L90.40,553.84 L90.88,553.93 L91.36,554.01 L91.83,554.09 L92.31,554.17 L92.79,554.24 L93.26,554.32 L93.74,554.40 L94.22,554.48 L94.70,554.55 L95.17,554.63 L95.65,554.70 L96.13,554.78 L96.60,554.85 L97.08,554.93 L97.56,555.00 L98.04,555.07 L98.51,555.15 L98.99,555.22 L99.47,555.29 L99.94,555.36 L100.42,555.43 L100.90,555.50 L101.38,555.57 L101.85,555.64 L102.33,555.71 L102.81,555.78 L103.28,555.85 L103.76,555.92 L104.24,555.99 L104.71,556.05 L105.19,556.12 L105.67,556.19 L106.15,556.26 L106.62,556.33 L107.10,556.39 L107.58,556.46 L108.05,556.53 L108.53,556.59 L109.01,556.66 L109.49,556.73 L109.96,556.79 L110.44,556.86 L110.92,556.92 L111.39,556.99 L111.87,557.05 L112.35,557.11 L112.82,557.18 L113.30,557.24 L113.78,557.30 L114.26,557.37 L114.73,557.43 L115.21,557.49 L115.69,557.55 L116.16,557.61 L116.64,557.67 L117.12,557.74 L117.60,557.80 L118.07,557.86 L118.55,557.92 L119.03,557.98 L119.50,558.04 L119.98,558.09 L120.46,558.15 L120.94,558.21 L121.41,558.27 L121.89,558.33 L122.37,558.39 L122.84,558.44 L123.32,558.50 L123.80,558.56 L124.28,558.62 L124.75,558.67 L125.23,558.73 L125.71,558.78 L126.18,558.84 L126.66,558.90 L127.14,558.95 L127.61,559.01 L128.09,559.06 L128.57,559.12 L129.05,559.17 L129.52,559.23 L130.00,559.28 L130.48,559.33 L130.95,559.39 L131.43,559.44 L131.91,559.49 L132.39,559.55 L132.86,559.60 L133.34,559.65 L133.82,559.70 L134.29,559.75 L134.77,559.80 L135.25,559.85 L135.72,559.90 L136.20,559.95 L136.68,560.00 L137.16,560.05 L137.63,560.10 L138.11,560.15 L138.59,560.20 L139.06,560.25 L139.54,560.30 L140.02,560.35 L140.50,560.39 L140.97,560.44 L141.45,560.49 L141.93,560.54 L142.40,560.59 L142.88,560.63 L143.36,560.68 L143.84,560.73 L144.31,560.78 L144.79,560.82 L145.27,560.87 L145.74,560.92 L146.22,560.97 L146.70,561.01 L147.17,561.06 L147.65,561.11 L148.13,561.16 L148.61,561.21 L149.08,561.25 L149.56,561.30 L150.04,561.35 L150.51,561.40 L150.99,561.45 L151.47,561.49 L151.95,561.54 L152.42,561.59 L152.90,561.64" fill="none" stroke="#4a3458" stroke-width="1.15" stroke-linejoin="round"/>
<text x="6.00" y="621.80" font-size="7.0" textLength="38.0" lengthAdjust="spacingAndGlyphs" stroke="#231f20" stroke-width="0.1">Number at risk</text>
<text x="27.00" y="631.70" font-size="7.36" text-anchor="end" textLength="14.9" lengthAdjust="spacingAndGlyphs" fill="#6a4a80" stroke="#6a4a80" stroke-width="0.1">High:</text>
<text x="38.40" y="631.70" font-size="7.13" text-anchor="middle" textLength="13.8" lengthAdjust="spacingAndGlyphs" stroke="#231f20" stroke-width="0.1">3307</text>
<text x="61.30" y="631.70" font-size="7.13" text-anchor="middle" textLength="13.8" lengthAdjust="spacingAndGlyphs" stroke="#231f20" stroke-width="0.1">1390</text>
<text x="84.20" y="631.70" font-size="7.13" text-anchor="middle" textLength="10.3" lengthAdjust="spacingAndGlyphs" stroke="#231f20" stroke-width="0.1">771</text>
<text x="107.10" y="631.70" font-size="7.13" text-anchor="middle" textLength="10.3" lengthAdjust="spacingAndGlyphs" stroke="#231f20" stroke-width="0.1">428</text>
<text x="130.00" y="631.70" font-size="7.13" text-anchor="middle" textLength="10.3" lengthAdjust="spacingAndGlyphs" stroke="#231f20" stroke-width="0.1">212</text>
<text x="152.90" y="631.70" font-size="7.13" text-anchor="middle" textLength="6.9" lengthAdjust="spacingAndGlyphs" stroke="#231f20" stroke-width="0.1">68</text>
<text x="27.00" y="641.45" font-size="7.36" text-anchor="end" textLength="20.6" lengthAdjust="spacingAndGlyphs" fill="#dc4590" stroke="#dc4590" stroke-width="0.1">Middle:</text>
<text x="38.40" y="641.45" font-size="7.13" text-anchor="middle" textLength="13.8" lengthAdjust="spacingAndGlyphs" stroke="#231f20" stroke-width="0.1">3909</text>
<text x="61.30" y="641.45" font-size="7.13" text-anchor="middle" textLength="13.8" lengthAdjust="spacingAndGlyphs" stroke="#231f20" stroke-width="0.1">1990</text>
<text x="84.20" y="641.45" font-size="7.13" text-anchor="middle" textLength="13.3" lengthAdjust="spacingAndGlyphs" stroke="#231f20" stroke-width="0.1">1211</text>
<text x="107.10" y="641.45" font-size="7.13" text-anchor="middle" textLength="10.3" lengthAdjust="spacingAndGlyphs" stroke="#231f20" stroke-width="0.1">742</text>
<text x="130.00" y="641.45" font-size="7.13" text-anchor="middle" textLength="10.3" lengthAdjust="spacingAndGlyphs" stroke="#231f20" stroke-width="0.1">388</text>
<text x="152.90" y="641.45" font-size="7.13" text-anchor="middle" textLength="9.9" lengthAdjust="spacingAndGlyphs" stroke="#231f20" stroke-width="0.1">110</text>
<text x="27.00" y="651.20" font-size="7.36" text-anchor="end" textLength="13.5" lengthAdjust="spacingAndGlyphs" fill="#9c98bc" stroke="#9c98bc" stroke-width="0.1">Low:</text>
<text x="38.40" y="651.20" font-size="7.13" text-anchor="middle" textLength="10.3" lengthAdjust="spacingAndGlyphs" stroke="#231f20" stroke-width="0.1">644</text>
<text x="61.30" y="651.20" font-size="7.13" text-anchor="middle" textLength="10.3" lengthAdjust="spacingAndGlyphs" stroke="#231f20" stroke-width="0.1">296</text>
<text x="84.20" y="651.20" font-size="7.13" text-anchor="middle" textLength="10.3" lengthAdjust="spacingAndGlyphs" stroke="#231f20" stroke-width="0.1">194</text>
<text x="107.10" y="651.20" font-size="7.13" text-anchor="middle" textLength="10.3" lengthAdjust="spacingAndGlyphs" stroke="#231f20" stroke-width="0.1">125</text>
<text x="130.00" y="651.20" font-size="7.13" text-anchor="middle" textLength="6.9" lengthAdjust="spacingAndGlyphs" stroke="#231f20" stroke-width="0.1">66</text>
<text x="152.90" y="651.20" font-size="7.13" text-anchor="middle" textLength="6.9" lengthAdjust="spacingAndGlyphs" stroke="#231f20" stroke-width="0.1">19</text>
<text x="185.70" y="460.20" font-size="11.3" font-weight="bold" stroke="#231f20" stroke-width="0.5">D</text>
<text x="267.60" y="459.80" font-size="8.1" text-anchor="middle" textLength="101.0" lengthAdjust="spacingAndGlyphs" stroke="#231f20" stroke-width="0.1">AYA patients (15 – 40 years)</text>
<text x="267.60" y="470.00" font-size="8.1" text-anchor="middle" textLength="113.0" lengthAdjust="spacingAndGlyphs" stroke="#231f20" stroke-width="0.1">(SEER database, 2010 – 2020)</text>
<text x="252.00" y="483.90" font-size="7.13" text-anchor="middle" textLength="31.0" lengthAdjust="spacingAndGlyphs" stroke="#231f20" stroke-width="0.1">Median OS</text>
<text x="294.80" y="483.90" font-size="7.13" text-anchor="middle" textLength="35.1" lengthAdjust="spacingAndGlyphs" stroke="#231f20" stroke-width="0.1">HR (95% CI)</text>
<text x="332.00" y="483.90" font-size="7.13" text-anchor="middle" textLength="20.6" lengthAdjust="spacingAndGlyphs" stroke="#231f20" stroke-width="0.1"><tspan font-style="italic">P</tspan> value</text>
<text x="234.00" y="493.20" font-size="7.13" text-anchor="end" textLength="14.5" lengthAdjust="spacingAndGlyphs" fill="#6a4a80" stroke="#6a4a80" stroke-width="0.1">High:</text>
<text x="252.00" y="493.20" font-size="7.13" text-anchor="middle" textLength="9.0" lengthAdjust="spacingAndGlyphs" stroke="#231f20" stroke-width="0.1">NR</text>
<text x="294.80" y="493.20" font-size="7.13" text-anchor="middle" textLength="3.4" lengthAdjust="spacingAndGlyphs" stroke="#231f20" stroke-width="0.1">–</text>
<text x="234.00" y="503.20" font-size="7.13" text-anchor="end" textLength="20.0" lengthAdjust="spacingAndGlyphs" fill="#dc4590" stroke="#dc4590" stroke-width="0.1">Middle:</text>
<text x="252.00" y="503.20" font-size="7.13" text-anchor="middle" textLength="9.0" lengthAdjust="spacingAndGlyphs" stroke="#231f20" stroke-width="0.1">NR</text>
<text x="294.80" y="503.20" font-size="7.13" text-anchor="middle" textLength="48.9" lengthAdjust="spacingAndGlyphs" stroke="#231f20" stroke-width="0.1">1.24 (1.09 – 1.41)</text>
<text x="332.00" y="503.20" font-size="7.13" text-anchor="middle" textLength="12.1" lengthAdjust="spacingAndGlyphs" stroke="#231f20" stroke-width="0.1">.001</text>
<text x="234.00" y="513.20" font-size="7.13" text-anchor="end" textLength="13.1" lengthAdjust="spacingAndGlyphs" fill="#9c98bc" stroke="#9c98bc" stroke-width="0.1">Low:</text>
<text x="252.00" y="513.20" font-size="7.13" text-anchor="middle" textLength="9.0" lengthAdjust="spacingAndGlyphs" stroke="#231f20" stroke-width="0.1">NR</text>
<text x="294.80" y="513.20" font-size="7.13" text-anchor="middle" textLength="48.9" lengthAdjust="spacingAndGlyphs" stroke="#231f20" stroke-width="0.1">1.19 (0.95 – 1.50)</text>
<text x="332.00" y="513.20" font-size="7.13" text-anchor="middle" textLength="8.6" lengthAdjust="spacingAndGlyphs" stroke="#231f20" stroke-width="0.1">.12</text>
<line x1="216.80" y1="520.40" x2="216.80" y2="589.30" stroke="#231f20" stroke-width="1.2"/>
<line x1="216.30" y1="588.80" x2="333.80" y2="588.80" stroke="#231f20" stroke-width="1.2"/>
<line x1="213.60" y1="588.80" x2="216.80" y2="588.80" stroke="#231f20" stroke-width="1"/>
<text x="210.50" y="590.80" font-size="6.72" text-anchor="end" textLength="3.6" lengthAdjust="spacingAndGlyphs" stroke="#231f20" stroke-width="0.1">0</text>
<line x1="213.60" y1="575.68" x2="216.80" y2="575.68" stroke="#231f20" stroke-width="1"/>
<text x="210.50" y="577.68" font-size="6.72" text-anchor="end" textLength="7.1" lengthAdjust="spacingAndGlyphs" stroke="#231f20" stroke-width="0.1">20</text>
<line x1="213.60" y1="562.56" x2="216.80" y2="562.56" stroke="#231f20" stroke-width="1"/>
<text x="210.50" y="564.56" font-size="6.72" text-anchor="end" textLength="7.1" lengthAdjust="spacingAndGlyphs" stroke="#231f20" stroke-width="0.1">40</text>
<line x1="213.60" y1="549.44" x2="216.80" y2="549.44" stroke="#231f20" stroke-width="1"/>
<text x="210.50" y="551.44" font-size="6.72" text-anchor="end" textLength="7.1" lengthAdjust="spacingAndGlyphs" stroke="#231f20" stroke-width="0.1">60</text>
<line x1="213.60" y1="536.32" x2="216.80" y2="536.32" stroke="#231f20" stroke-width="1"/>
<text x="210.50" y="538.32" font-size="6.72" text-anchor="end" textLength="7.1" lengthAdjust="spacingAndGlyphs" stroke="#231f20" stroke-width="0.1">80</text>
<line x1="213.60" y1="523.20" x2="216.80" y2="523.20" stroke="#231f20" stroke-width="1"/>
<text x="210.50" y="525.20" font-size="6.72" text-anchor="end" textLength="10.7" lengthAdjust="spacingAndGlyphs" stroke="#231f20" stroke-width="0.1">100</text>
<line x1="216.80" y1="588.80" x2="216.80" y2="592.00" stroke="#231f20" stroke-width="1"/>
<text x="216.80" y="600.40" font-size="6.7" text-anchor="middle" stroke="#231f20" stroke-width="0.1">0</text>
<line x1="239.70" y1="588.80" x2="239.70" y2="592.00" stroke="#231f20" stroke-width="1"/>
<text x="239.70" y="600.40" font-size="6.7" text-anchor="middle" stroke="#231f20" stroke-width="0.1">24</text>
<line x1="262.60" y1="588.80" x2="262.60" y2="592.00" stroke="#231f20" stroke-width="1"/>
<text x="262.60" y="600.40" font-size="6.7" text-anchor="middle" stroke="#231f20" stroke-width="0.1">48</text>
<line x1="285.50" y1="588.80" x2="285.50" y2="592.00" stroke="#231f20" stroke-width="1"/>
<text x="285.50" y="600.40" font-size="6.7" text-anchor="middle" stroke="#231f20" stroke-width="0.1">72</text>
<line x1="308.40" y1="588.80" x2="308.40" y2="592.00" stroke="#231f20" stroke-width="1"/>
<text x="308.40" y="600.40" font-size="6.7" text-anchor="middle" stroke="#231f20" stroke-width="0.1">96</text>
<line x1="331.30" y1="588.80" x2="331.30" y2="592.00" stroke="#231f20" stroke-width="1"/>
<text x="331.30" y="600.40" font-size="6.7" text-anchor="middle" stroke="#231f20" stroke-width="0.1">120</text>
<text x="219.00" y="584.90" font-size="7.24" textLength="23.5" lengthAdjust="spacingAndGlyphs" stroke="#231f20" stroke-width="0.1"><tspan font-style="italic">P</tspan> = .003</text>
<text x="243.80" y="611.10" font-size="8.3" textLength="62.0" lengthAdjust="spacingAndGlyphs" stroke="#231f20" stroke-width="0.3">Overall survival (months)</text>
<text x="0" y="0" font-size="7.2" text-anchor="middle" textLength="39.5" lengthAdjust="spacingAndGlyphs" stroke="#231f20" stroke-width="0.32" transform="translate(194.60,554.30) rotate(-90)">Percent survival</text>
<path d="M216.80,523.20 L217.28,523.66 L217.75,524.12 L218.23,524.58 L218.71,525.05 L219.19,525.51 L219.66,525.97 L220.14,526.43 L220.62,526.89 L221.09,527.34 L221.57,527.79 L222.05,528.25 L222.53,528.71 L223.00,529.18 L223.48,529.66 L223.96,530.13 L224.43,530.59 L224.91,531.05 L225.39,531.49 L225.86,531.91 L226.34,532.32 L226.82,532.69 L227.30,533.04 L227.77,533.37 L228.25,533.69 L228.73,534.00 L229.20,534.31 L229.68,534.61 L230.16,534.90 L230.64,535.19 L231.11,535.47 L231.59,535.75 L232.07,536.01 L232.54,536.28 L233.02,536.53 L233.50,536.79 L233.98,537.03 L234.45,537.27 L234.93,537.51 L235.41,537.74 L235.88,537.96 L236.36,538.18 L236.84,538.40 L237.31,538.61 L237.79,538.82 L238.27,539.02 L238.75,539.22 L239.22,539.41 L239.70,539.60 L240.18,539.79 L240.65,539.97 L241.13,540.15 L241.61,540.33 L242.09,540.50 L242.56,540.67 L243.04,540.84 L243.52,541.00 L243.99,541.16 L244.47,541.32 L244.95,541.47 L245.43,541.62 L245.90,541.76 L246.38,541.90 L246.86,542.03 L247.33,542.16 L247.81,542.28 L248.29,542.40 L248.76,542.51 L249.24,542.62 L249.72,542.72 L250.20,542.82 L250.67,542.92 L251.15,543.02 L251.63,543.12 L252.10,543.22 L252.58,543.31 L253.06,543.40 L253.54,543.49 L254.01,543.58 L254.49,543.66 L254.97,543.75 L255.44,543.83 L255.92,543.91 L256.40,543.99 L256.88,544.06 L257.35,544.14 L257.83,544.21 L258.31,544.28 L258.78,544.35 L259.26,544.42 L259.74,544.48 L260.21,544.55 L260.69,544.61 L261.17,544.67 L261.65,544.73 L262.12,544.79 L262.60,544.85 L263.08,544.90 L263.55,544.96 L264.03,545.01 L264.51,545.06 L264.99,545.11 L265.46,545.16 L265.94,545.21 L266.42,545.26 L266.89,545.31 L267.37,545.36 L267.85,545.40 L268.32,545.45 L268.80,545.49 L269.28,545.54 L269.76,545.58 L270.23,545.62 L270.71,545.66 L271.19,545.71 L271.66,545.75 L272.14,545.79 L272.62,545.83 L273.10,545.87 L273.57,545.90 L274.05,545.94 L274.53,545.98 L275.00,546.02 L275.48,546.06 L275.96,546.09 L276.44,546.13 L276.91,546.17 L277.39,546.20 L277.87,546.24 L278.34,546.28 L278.82,546.31 L279.30,546.35 L279.78,546.38 L280.25,546.42 L280.73,546.45 L281.21,546.49 L281.68,546.53 L282.16,546.56 L282.64,546.60 L283.11,546.63 L283.59,546.67 L284.07,546.71 L284.55,546.74 L285.02,546.78 L285.50,546.82 L285.98,546.85 L286.45,546.89 L286.93,546.93 L287.41,546.97 L287.89,547.01 L288.36,547.05 L288.84,547.09 L289.32,547.13 L289.79,547.17 L290.27,547.21 L290.75,547.26 L291.23,547.30 L291.70,547.34 L292.18,547.38 L292.66,547.42 L293.13,547.47 L293.61,547.51 L294.09,547.55 L294.56,547.59 L295.04,547.63 L295.52,547.67 L296.00,547.71 L296.47,547.75 L296.95,547.79 L297.43,547.83 L297.90,547.87 L298.38,547.91 L298.86,547.94 L299.34,547.98 L299.81,548.01 L300.29,548.05 L300.77,548.08 L301.24,548.12 L301.72,548.15 L302.20,548.18 L302.68,548.21 L303.15,548.24 L303.63,548.26 L304.11,548.29 L304.58,548.31 L305.06,548.34 L305.54,548.36 L306.01,548.38 L306.49,548.40 L306.97,548.41 L307.45,548.43 L307.92,548.44 L308.40,548.46 L308.88,548.47 L309.35,548.48 L309.83,548.49 L310.31,548.50 L310.79,548.51 L311.26,548.52 L311.74,548.53 L312.22,548.54 L312.69,548.54 L313.17,548.55 L313.65,548.56 L314.12,548.57 L314.60,548.58 L315.08,548.58 L315.56,548.59 L316.03,548.60 L316.51,548.60 L316.99,548.61 L317.46,548.62 L317.94,548.62 L318.42,548.63 L318.90,548.64 L319.37,548.64 L319.85,548.65 L320.33,548.65 L320.80,548.66 L321.28,548.66 L321.76,548.67 L322.24,548.67 L322.71,548.68 L323.19,548.69 L323.67,548.69 L324.14,548.70 L324.62,548.70 L325.10,548.71 L325.57,548.71 L326.05,548.72 L326.53,548.72 L327.01,548.73 L327.48,548.73 L327.96,548.74 L328.44,548.75 L328.91,548.75 L329.39,548.76 L329.87,548.76 L330.35,548.77 L330.82,548.78 L331.30,548.78" fill="none" stroke="#a49ccc" stroke-width="1.15" stroke-linejoin="round"/>
<path d="M216.80,523.20 L217.28,523.66 L217.75,524.12 L218.23,524.57 L218.71,525.03 L219.19,525.49 L219.66,525.94 L220.14,526.40 L220.62,526.86 L221.09,527.33 L221.57,527.79 L222.05,528.27 L222.53,528.77 L223.00,529.28 L223.48,529.79 L223.96,530.31 L224.43,530.82 L224.91,531.33 L225.39,531.81 L225.86,532.28 L226.34,532.72 L226.82,533.13 L227.30,533.50 L227.77,533.84 L228.25,534.18 L228.73,534.51 L229.20,534.83 L229.68,535.15 L230.16,535.45 L230.64,535.75 L231.11,536.05 L231.59,536.33 L232.07,536.61 L232.54,536.89 L233.02,537.15 L233.50,537.41 L233.98,537.67 L234.45,537.91 L234.93,538.15 L235.41,538.39 L235.88,538.62 L236.36,538.84 L236.84,539.06 L237.31,539.27 L237.79,539.48 L238.27,539.68 L238.75,539.88 L239.22,540.07 L239.70,540.26 L240.18,540.44 L240.65,540.62 L241.13,540.79 L241.61,540.96 L242.09,541.12 L242.56,541.29 L243.04,541.44 L243.52,541.60 L243.99,541.75 L244.47,541.89 L244.95,542.03 L245.43,542.17 L245.90,542.31 L246.38,542.44 L246.86,542.56 L247.33,542.69 L247.81,542.80 L248.29,542.92 L248.76,543.03 L249.24,543.14 L249.72,543.25 L250.20,543.35 L250.67,543.46 L251.15,543.56 L251.63,543.66 L252.10,543.75 L252.58,543.85 L253.06,543.94 L253.54,544.04 L254.01,544.13 L254.49,544.22 L254.97,544.30 L255.44,544.39 L255.92,544.47 L256.40,544.56 L256.88,544.64 L257.35,544.72 L257.83,544.80 L258.31,544.87 L258.78,544.95 L259.26,545.02 L259.74,545.09 L260.21,545.17 L260.69,545.24 L261.17,545.30 L261.65,545.37 L262.12,545.44 L262.60,545.50 L263.08,545.57 L263.55,545.63 L264.03,545.70 L264.51,545.76 L264.99,545.82 L265.46,545.88 L265.94,545.94 L266.42,546.01 L266.89,546.07 L267.37,546.13 L267.85,546.18 L268.32,546.24 L268.80,546.30 L269.28,546.36 L269.76,546.42 L270.23,546.47 L270.71,546.53 L271.19,546.58 L271.66,546.64 L272.14,546.69 L272.62,546.74 L273.10,546.80 L273.57,546.85 L274.05,546.90 L274.53,546.95 L275.00,547.00 L275.48,547.05 L275.96,547.10 L276.44,547.15 L276.91,547.20 L277.39,547.24 L277.87,547.29 L278.34,547.33 L278.82,547.38 L279.30,547.42 L279.78,547.47 L280.25,547.51 L280.73,547.55 L281.21,547.59 L281.68,547.63 L282.16,547.67 L282.64,547.71 L283.11,547.75 L283.59,547.79 L284.07,547.82 L284.55,547.86 L285.02,547.90 L285.50,547.93 L285.98,547.97 L286.45,548.00 L286.93,548.04 L287.41,548.07 L287.89,548.11 L288.36,548.14 L288.84,548.18 L289.32,548.21 L289.79,548.25 L290.27,548.29 L290.75,548.32 L291.23,548.36 L291.70,548.39 L292.18,548.43 L292.66,548.46 L293.13,548.50 L293.61,548.53 L294.09,548.57 L294.56,548.60 L295.04,548.63 L295.52,548.67 L296.00,548.70 L296.47,548.73 L296.95,548.76 L297.43,548.79 L297.90,548.82 L298.38,548.85 L298.86,548.88 L299.34,548.90 L299.81,548.93 L300.29,548.95 L300.77,548.98 L301.24,549.00 L301.72,549.02 L302.20,549.04 L302.68,549.06 L303.15,549.08 L303.63,549.09 L304.11,549.11 L304.58,549.12 L305.06,549.14 L305.54,549.15 L306.01,549.16 L306.49,549.16 L306.97,549.17 L307.45,549.17 L307.92,549.18 L308.40,549.18 L308.88,549.18 L309.35,549.18 L309.83,549.18 L310.31,549.18 L310.79,549.18 L311.26,549.18 L311.74,549.18 L312.22,549.18 L312.69,549.18 L313.17,549.18 L313.65,549.18 L314.12,549.18 L314.60,549.18 L315.08,549.18 L315.56,549.18 L316.03,549.18 L316.51,549.18 L316.99,549.18 L317.46,549.18 L317.94,549.18 L318.42,549.18 L318.90,549.18 L319.37,549.18 L319.85,549.18 L320.33,549.18 L320.80,549.18 L321.28,549.18 L321.76,549.18 L322.24,549.18 L322.71,549.18 L323.19,549.18 L323.67,549.18 L324.14,549.18 L324.62,549.18 L325.10,549.18 L325.57,549.18 L326.05,549.18 L326.53,549.18 L327.01,549.18 L327.48,549.18 L327.96,549.18 L328.44,549.18 L328.91,549.18 L329.39,549.18 L329.87,549.18 L330.35,549.18 L330.82,549.18 L331.30,549.18" fill="none" stroke="#cc3a90" stroke-width="1.15" stroke-linejoin="round"/>
<path d="M216.80,523.20 L217.28,523.46 L217.75,523.72 L218.23,523.98 L218.71,524.23 L219.19,524.49 L219.66,524.75 L220.14,525.01 L220.62,525.28 L221.09,525.55 L221.57,525.82 L222.05,526.11 L222.53,526.40 L223.00,526.70 L223.48,527.01 L223.96,527.32 L224.43,527.63 L224.91,527.95 L225.39,528.25 L225.86,528.56 L226.34,528.86 L226.82,529.15 L227.30,529.43 L227.77,529.71 L228.25,529.98 L228.73,530.25 L229.20,530.52 L229.68,530.79 L230.16,531.06 L230.64,531.33 L231.11,531.59 L231.59,531.85 L232.07,532.11 L232.54,532.37 L233.02,532.63 L233.50,532.88 L233.98,533.13 L234.45,533.38 L234.93,533.63 L235.41,533.87 L235.88,534.11 L236.36,534.35 L236.84,534.58 L237.31,534.81 L237.79,535.04 L238.27,535.27 L238.75,535.49 L239.22,535.71 L239.70,535.93 L240.18,536.14 L240.65,536.36 L241.13,536.58 L241.61,536.79 L242.09,537.01 L242.56,537.23 L243.04,537.44 L243.52,537.65 L243.99,537.86 L244.47,538.06 L244.95,538.26 L245.43,538.45 L245.90,538.63 L246.38,538.81 L246.86,538.98 L247.33,539.14 L247.81,539.29 L248.29,539.43 L248.76,539.55 L249.24,539.67 L249.72,539.78 L250.20,539.89 L250.67,539.99 L251.15,540.09 L251.63,540.19 L252.10,540.28 L252.58,540.37 L253.06,540.46 L253.54,540.54 L254.01,540.62 L254.49,540.70 L254.97,540.78 L255.44,540.86 L255.92,540.93 L256.40,541.00 L256.88,541.08 L257.35,541.15 L257.83,541.22 L258.31,541.28 L258.78,541.35 L259.26,541.42 L259.74,541.49 L260.21,541.55 L260.69,541.62 L261.17,541.69 L261.65,541.76 L262.12,541.83 L262.60,541.90 L263.08,541.97 L263.55,542.04 L264.03,542.11 L264.51,542.18 L264.99,542.25 L265.46,542.31 L265.94,542.38 L266.42,542.45 L266.89,542.52 L267.37,542.59 L267.85,542.65 L268.32,542.72 L268.80,542.79 L269.28,542.86 L269.76,542.92 L270.23,542.99 L270.71,543.05 L271.19,543.12 L271.66,543.18 L272.14,543.25 L272.62,543.31 L273.10,543.37 L273.57,543.44 L274.05,543.50 L274.53,543.56 L275.00,543.62 L275.48,543.68 L275.96,543.75 L276.44,543.81 L276.91,543.87 L277.39,543.92 L277.87,543.98 L278.34,544.04 L278.82,544.10 L279.30,544.16 L279.78,544.21 L280.25,544.27 L280.73,544.32 L281.21,544.38 L281.68,544.43 L282.16,544.49 L282.64,544.54 L283.11,544.59 L283.59,544.65 L284.07,544.70 L284.55,544.75 L285.02,544.80 L285.50,544.85 L285.98,544.90 L286.45,544.95 L286.93,544.99 L287.41,545.04 L287.89,545.09 L288.36,545.14 L288.84,545.19 L289.32,545.23 L289.79,545.28 L290.27,545.33 L290.75,545.37 L291.23,545.42 L291.70,545.47 L292.18,545.51 L292.66,545.56 L293.13,545.60 L293.61,545.65 L294.09,545.69 L294.56,545.74 L295.04,545.78 L295.52,545.82 L296.00,545.86 L296.47,545.91 L296.95,545.95 L297.43,545.99 L297.90,546.03 L298.38,546.07 L298.86,546.11 L299.34,546.15 L299.81,546.19 L300.29,546.23 L300.77,546.27 L301.24,546.31 L301.72,546.35 L302.20,546.38 L302.68,546.42 L303.15,546.46 L303.63,546.49 L304.11,546.53 L304.58,546.56 L305.06,546.59 L305.54,546.63 L306.01,546.66 L306.49,546.69 L306.97,546.72 L307.45,546.76 L307.92,546.79 L308.40,546.82 L308.88,546.85 L309.35,546.87 L309.83,546.90 L310.31,546.93 L310.79,546.96 L311.26,546.98 L311.74,547.01 L312.22,547.04 L312.69,547.06 L313.17,547.09 L313.65,547.11 L314.12,547.14 L314.60,547.16 L315.08,547.19 L315.56,547.21 L316.03,547.23 L316.51,547.26 L316.99,547.28 L317.46,547.30 L317.94,547.32 L318.42,547.35 L318.90,547.37 L319.37,547.39 L319.85,547.41 L320.33,547.43 L320.80,547.46 L321.28,547.48 L321.76,547.50 L322.24,547.52 L322.71,547.54 L323.19,547.56 L323.67,547.58 L324.14,547.60 L324.62,547.62 L325.10,547.65 L325.57,547.67 L326.05,547.69 L326.53,547.71 L327.01,547.73 L327.48,547.75 L327.96,547.77 L328.44,547.80 L328.91,547.82 L329.39,547.84 L329.87,547.86 L330.35,547.89 L330.82,547.91 L331.30,547.93" fill="none" stroke="#4a3458" stroke-width="1.15" stroke-linejoin="round"/>
<text x="185.80" y="621.80" font-size="7.0" textLength="38.0" lengthAdjust="spacingAndGlyphs" stroke="#231f20" stroke-width="0.1">Number at risk</text>
<text x="206.00" y="631.70" font-size="7.36" text-anchor="end" textLength="14.9" lengthAdjust="spacingAndGlyphs" fill="#6a4a80" stroke="#6a4a80" stroke-width="0.1">High:</text>
<text x="216.80" y="631.70" font-size="7.13" text-anchor="middle" textLength="13.8" lengthAdjust="spacingAndGlyphs" stroke="#231f20" stroke-width="0.1">1393</text>
<text x="239.70" y="631.70" font-size="7.13" text-anchor="middle" textLength="10.3" lengthAdjust="spacingAndGlyphs" stroke="#231f20" stroke-width="0.1">731</text>
<text x="262.60" y="631.70" font-size="7.13" text-anchor="middle" textLength="10.3" lengthAdjust="spacingAndGlyphs" stroke="#231f20" stroke-width="0.1">428</text>
<text x="285.50" y="631.70" font-size="7.13" text-anchor="middle" textLength="10.3" lengthAdjust="spacingAndGlyphs" stroke="#231f20" stroke-width="0.1">230</text>
<text x="308.40" y="631.70" font-size="7.13" text-anchor="middle" textLength="9.9" lengthAdjust="spacingAndGlyphs" stroke="#231f20" stroke-width="0.1">115</text>
<text x="331.30" y="631.70" font-size="7.13" text-anchor="middle" textLength="6.9" lengthAdjust="spacingAndGlyphs" stroke="#231f20" stroke-width="0.1">36</text>
<text x="206.00" y="641.45" font-size="7.36" text-anchor="end" textLength="20.6" lengthAdjust="spacingAndGlyphs" fill="#dc4590" stroke="#dc4590" stroke-width="0.1">Middle:</text>
<text x="216.80" y="641.45" font-size="7.13" text-anchor="middle" textLength="13.8" lengthAdjust="spacingAndGlyphs" stroke="#231f20" stroke-width="0.1">1735</text>
<text x="239.70" y="641.45" font-size="7.13" text-anchor="middle" textLength="13.3" lengthAdjust="spacingAndGlyphs" stroke="#231f20" stroke-width="0.1">1107</text>
<text x="262.60" y="641.45" font-size="7.13" text-anchor="middle" textLength="10.3" lengthAdjust="spacingAndGlyphs" stroke="#231f20" stroke-width="0.1">728</text>
<text x="285.50" y="641.45" font-size="7.13" text-anchor="middle" textLength="10.3" lengthAdjust="spacingAndGlyphs" stroke="#231f20" stroke-width="0.1">460</text>
<text x="308.40" y="641.45" font-size="7.13" text-anchor="middle" textLength="10.3" lengthAdjust="spacingAndGlyphs" stroke="#231f20" stroke-width="0.1">256</text>
<text x="331.30" y="641.45" font-size="7.13" text-anchor="middle" textLength="6.9" lengthAdjust="spacingAndGlyphs" stroke="#231f20" stroke-width="0.1">74</text>
<text x="206.00" y="651.20" font-size="7.36" text-anchor="end" textLength="13.5" lengthAdjust="spacingAndGlyphs" fill="#9c98bc" stroke="#9c98bc" stroke-width="0.1">Low:</text>
<text x="216.80" y="651.20" font-size="7.13" text-anchor="middle" textLength="10.3" lengthAdjust="spacingAndGlyphs" stroke="#231f20" stroke-width="0.1">257</text>
<text x="239.70" y="651.20" font-size="7.13" text-anchor="middle" textLength="10.3" lengthAdjust="spacingAndGlyphs" stroke="#231f20" stroke-width="0.1">166</text>
<text x="262.60" y="651.20" font-size="7.13" text-anchor="middle" textLength="9.9" lengthAdjust="spacingAndGlyphs" stroke="#231f20" stroke-width="0.1">118</text>
<text x="285.50" y="651.20" font-size="7.13" text-anchor="middle" textLength="6.9" lengthAdjust="spacingAndGlyphs" stroke="#231f20" stroke-width="0.1">79</text>
<text x="308.40" y="651.20" font-size="7.13" text-anchor="middle" textLength="6.9" lengthAdjust="spacingAndGlyphs" stroke="#231f20" stroke-width="0.1">48</text>
<text x="331.30" y="651.20" font-size="7.13" text-anchor="middle" textLength="6.9" lengthAdjust="spacingAndGlyphs" stroke="#231f20" stroke-width="0.1">12</text>
<text x="357.30" y="460.20" font-size="11.3" font-weight="bold" stroke="#231f20" stroke-width="0.5">E</text>
<text x="438.60" y="459.80" font-size="8.1" text-anchor="middle" textLength="85.0" lengthAdjust="spacingAndGlyphs" stroke="#231f20" stroke-width="0.1">Older adults (&gt;40 years)</text>
<text x="438.60" y="470.00" font-size="8.1" text-anchor="middle" textLength="112.8" lengthAdjust="spacingAndGlyphs" stroke="#231f20" stroke-width="0.1">(SEER database, 2010 – 2020)</text>
<text x="423.30" y="483.90" font-size="7.13" text-anchor="middle" textLength="31.0" lengthAdjust="spacingAndGlyphs" stroke="#231f20" stroke-width="0.1">Median OS</text>
<text x="466.40" y="483.90" font-size="7.13" text-anchor="middle" textLength="35.1" lengthAdjust="spacingAndGlyphs" stroke="#231f20" stroke-width="0.1">HR (95% CI)</text>
<text x="503.30" y="483.90" font-size="7.13" text-anchor="middle" textLength="20.6" lengthAdjust="spacingAndGlyphs" stroke="#231f20" stroke-width="0.1"><tspan font-style="italic">P</tspan> value</text>
<text x="405.00" y="493.20" font-size="7.13" text-anchor="end" textLength="14.5" lengthAdjust="spacingAndGlyphs" fill="#6a4a80" stroke="#6a4a80" stroke-width="0.1">High:</text>
<text x="423.30" y="493.20" font-size="7.13" text-anchor="middle" textLength="17.2" lengthAdjust="spacingAndGlyphs" stroke="#231f20" stroke-width="0.1">26 mo</text>
<text x="466.40" y="493.20" font-size="7.13" text-anchor="middle" textLength="3.4" lengthAdjust="spacingAndGlyphs" stroke="#231f20" stroke-width="0.1">–</text>
<text x="405.00" y="503.20" font-size="7.13" text-anchor="end" textLength="20.0" lengthAdjust="spacingAndGlyphs" fill="#dc4590" stroke="#dc4590" stroke-width="0.1">Middle:</text>
<text x="423.30" y="503.20" font-size="7.13" text-anchor="middle" textLength="17.2" lengthAdjust="spacingAndGlyphs" stroke="#231f20" stroke-width="0.1">22 mo</text>
<text x="466.40" y="503.20" font-size="7.13" text-anchor="middle" textLength="48.9" lengthAdjust="spacingAndGlyphs" stroke="#231f20" stroke-width="0.1">1.16 (1.08 – 1.26)</text>
<text x="503.30" y="503.20" font-size="7.13" text-anchor="middle" textLength="17.4" lengthAdjust="spacingAndGlyphs" stroke="#231f20" stroke-width="0.1">&lt; .001</text>
<text x="405.00" y="513.20" font-size="7.13" text-anchor="end" textLength="13.1" lengthAdjust="spacingAndGlyphs" fill="#9c98bc" stroke="#9c98bc" stroke-width="0.1">Low:</text>
<text x="423.30" y="513.20" font-size="7.13" text-anchor="middle" textLength="17.2" lengthAdjust="spacingAndGlyphs" stroke="#231f20" stroke-width="0.1">15 mo</text>
<text x="466.40" y="513.20" font-size="7.13" text-anchor="middle" textLength="48.9" lengthAdjust="spacingAndGlyphs" stroke="#231f20" stroke-width="0.1">1.40 (1.23 – 1.59)</text>
<text x="503.30" y="513.20" font-size="7.13" text-anchor="middle" textLength="17.4" lengthAdjust="spacingAndGlyphs" stroke="#231f20" stroke-width="0.1">&lt; .001</text>
<line x1="388.30" y1="520.40" x2="388.30" y2="589.30" stroke="#231f20" stroke-width="1.2"/>
<line x1="387.80" y1="588.80" x2="505.30" y2="588.80" stroke="#231f20" stroke-width="1.2"/>
<line x1="385.10" y1="588.80" x2="388.30" y2="588.80" stroke="#231f20" stroke-width="1"/>
<text x="382.00" y="590.80" font-size="6.72" text-anchor="end" textLength="3.6" lengthAdjust="spacingAndGlyphs" stroke="#231f20" stroke-width="0.1">0</text>
<line x1="385.10" y1="575.68" x2="388.30" y2="575.68" stroke="#231f20" stroke-width="1"/>
<text x="382.00" y="577.68" font-size="6.72" text-anchor="end" textLength="7.1" lengthAdjust="spacingAndGlyphs" stroke="#231f20" stroke-width="0.1">20</text>
<line x1="385.10" y1="562.56" x2="388.30" y2="562.56" stroke="#231f20" stroke-width="1"/>
<text x="382.00" y="564.56" font-size="6.72" text-anchor="end" textLength="7.1" lengthAdjust="spacingAndGlyphs" stroke="#231f20" stroke-width="0.1">40</text>
<line x1="385.10" y1="549.44" x2="388.30" y2="549.44" stroke="#231f20" stroke-width="1"/>
<text x="382.00" y="551.44" font-size="6.72" text-anchor="end" textLength="7.1" lengthAdjust="spacingAndGlyphs" stroke="#231f20" stroke-width="0.1">60</text>
<line x1="385.10" y1="536.32" x2="388.30" y2="536.32" stroke="#231f20" stroke-width="1"/>
<text x="382.00" y="538.32" font-size="6.72" text-anchor="end" textLength="7.1" lengthAdjust="spacingAndGlyphs" stroke="#231f20" stroke-width="0.1">80</text>
<line x1="385.10" y1="523.20" x2="388.30" y2="523.20" stroke="#231f20" stroke-width="1"/>
<text x="382.00" y="525.20" font-size="6.72" text-anchor="end" textLength="10.7" lengthAdjust="spacingAndGlyphs" stroke="#231f20" stroke-width="0.1">100</text>
<line x1="388.30" y1="588.80" x2="388.30" y2="592.00" stroke="#231f20" stroke-width="1"/>
<text x="388.30" y="600.40" font-size="6.7" text-anchor="middle" stroke="#231f20" stroke-width="0.1">0</text>
<line x1="411.20" y1="588.80" x2="411.20" y2="592.00" stroke="#231f20" stroke-width="1"/>
<text x="411.20" y="600.40" font-size="6.7" text-anchor="middle" stroke="#231f20" stroke-width="0.1">24</text>
<line x1="434.10" y1="588.80" x2="434.10" y2="592.00" stroke="#231f20" stroke-width="1"/>
<text x="434.10" y="600.40" font-size="6.7" text-anchor="middle" stroke="#231f20" stroke-width="0.1">48</text>
<line x1="457.00" y1="588.80" x2="457.00" y2="592.00" stroke="#231f20" stroke-width="1"/>
<text x="457.00" y="600.40" font-size="6.7" text-anchor="middle" stroke="#231f20" stroke-width="0.1">72</text>
<line x1="479.90" y1="588.80" x2="479.90" y2="592.00" stroke="#231f20" stroke-width="1"/>
<text x="479.90" y="600.40" font-size="6.7" text-anchor="middle" stroke="#231f20" stroke-width="0.1">96</text>
<line x1="502.80" y1="588.80" x2="502.80" y2="592.00" stroke="#231f20" stroke-width="1"/>
<text x="502.80" y="600.40" font-size="6.7" text-anchor="middle" stroke="#231f20" stroke-width="0.1">120</text>
<text x="390.50" y="584.90" font-size="7.24" textLength="23.5" lengthAdjust="spacingAndGlyphs" stroke="#231f20" stroke-width="0.1"><tspan font-style="italic">P</tspan> &lt; .001</text>
<text x="415.30" y="611.10" font-size="8.3" textLength="62.0" lengthAdjust="spacingAndGlyphs" stroke="#231f20" stroke-width="0.3">Overall survival (months)</text>
<text x="0" y="0" font-size="7.2" text-anchor="middle" textLength="39.5" lengthAdjust="spacingAndGlyphs" stroke="#231f20" stroke-width="0.32" transform="translate(366.10,554.30) rotate(-90)">Percent survival</text>
<path d="M388.30,523.20 L388.78,524.55 L389.25,525.94 L389.73,527.34 L390.21,528.76 L390.69,530.18 L391.16,531.60 L391.64,533.01 L392.12,534.41 L392.59,535.77 L393.07,537.10 L393.55,538.38 L394.03,539.62 L394.50,540.79 L394.98,541.90 L395.46,542.97 L395.93,544.04 L396.41,545.10 L396.89,546.16 L397.36,547.19 L397.84,548.21 L398.32,549.19 L398.80,550.13 L399.27,551.03 L399.75,551.89 L400.23,552.69 L400.70,553.43 L401.18,554.10 L401.66,554.69 L402.14,555.21 L402.61,555.68 L403.09,556.12 L403.57,556.55 L404.04,556.95 L404.52,557.33 L405.00,557.70 L405.48,558.05 L405.95,558.38 L406.43,558.70 L406.91,559.00 L407.38,559.29 L407.86,559.57 L408.34,559.84 L408.81,560.09 L409.29,560.34 L409.77,560.58 L410.25,560.81 L410.72,561.03 L411.20,561.25 L411.68,561.46 L412.15,561.67 L412.63,561.88 L413.11,562.09 L413.59,562.29 L414.06,562.49 L414.54,562.69 L415.02,562.88 L415.49,563.08 L415.97,563.27 L416.45,563.45 L416.93,563.64 L417.40,563.82 L417.88,564.00 L418.36,564.17 L418.83,564.35 L419.31,564.52 L419.79,564.69 L420.26,564.85 L420.74,565.02 L421.22,565.18 L421.70,565.33 L422.17,565.49 L422.65,565.64 L423.13,565.79 L423.60,565.94 L424.08,566.08 L424.56,566.22 L425.04,566.36 L425.51,566.49 L425.99,566.63 L426.47,566.76 L426.94,566.88 L427.42,567.01 L427.90,567.13 L428.38,567.25 L428.85,567.37 L429.33,567.48 L429.81,567.59 L430.28,567.70 L430.76,567.80 L431.24,567.91 L431.71,568.01 L432.19,568.10 L432.67,568.20 L433.15,568.29 L433.62,568.38 L434.10,568.46 L434.58,568.55 L435.05,568.63 L435.53,568.71 L436.01,568.80 L436.49,568.88 L436.96,568.96 L437.44,569.04 L437.92,569.12 L438.39,569.20 L438.87,569.27 L439.35,569.35 L439.82,569.43 L440.30,569.50 L440.78,569.57 L441.26,569.65 L441.73,569.72 L442.21,569.79 L442.69,569.86 L443.16,569.93 L443.64,569.99 L444.12,570.06 L444.60,570.12 L445.07,570.19 L445.55,570.25 L446.03,570.31 L446.50,570.37 L446.98,570.43 L447.46,570.48 L447.94,570.54 L448.41,570.59 L448.89,570.65 L449.37,570.70 L449.84,570.75 L450.32,570.79 L450.80,570.84 L451.28,570.88 L451.75,570.93 L452.23,570.97 L452.71,571.01 L453.18,571.05 L453.66,571.08 L454.14,571.12 L454.61,571.15 L455.09,571.18 L455.57,571.21 L456.05,571.24 L456.52,571.26 L457.00,571.28 L457.48,571.31 L457.95,571.33 L458.43,571.35 L458.91,571.37 L459.39,571.39 L459.86,571.41 L460.34,571.44 L460.82,571.46 L461.29,571.48 L461.77,571.50 L462.25,571.52 L462.73,571.54 L463.20,571.56 L463.68,571.58 L464.16,571.59 L464.63,571.61 L465.11,571.63 L465.59,571.65 L466.06,571.67 L466.54,571.68 L467.02,571.70 L467.50,571.72 L467.97,571.73 L468.45,571.75 L468.93,571.76 L469.40,571.77 L469.88,571.79 L470.36,571.80 L470.84,571.81 L471.31,571.83 L471.79,571.84 L472.27,571.85 L472.74,571.86 L473.22,571.87 L473.70,571.88 L474.18,571.89 L474.65,571.90 L475.13,571.90 L475.61,571.91 L476.08,571.92 L476.56,571.92 L477.04,571.93 L477.51,571.93 L477.99,571.93 L478.47,571.94 L478.95,571.94 L479.42,571.94 L479.90,571.94 L480.38,571.94 L480.85,571.94 L481.33,571.94 L481.81,571.93 L482.29,571.93 L482.76,571.92 L483.24,571.91 L483.72,571.91 L484.19,571.90 L484.67,571.89 L485.15,571.88 L485.62,571.87 L486.10,571.86 L486.58,571.85 L487.06,571.83 L487.53,571.82 L488.01,571.81 L488.49,571.79 L488.96,571.78 L489.44,571.76 L489.92,571.74 L490.40,571.73 L490.87,571.71 L491.35,571.69 L491.83,571.68 L492.30,571.66 L492.78,571.64 L493.26,571.62 L493.74,571.61 L494.21,571.59 L494.69,571.57 L495.17,571.55 L495.64,571.53 L496.12,571.52 L496.60,571.50 L497.07,571.48 L497.55,571.46 L498.03,571.44 L498.51,571.43 L498.98,571.41 L499.46,571.39 L499.94,571.38 L500.41,571.36 L500.89,571.34 L501.37,571.33 L501.85,571.31 L502.32,571.30 L502.80,571.28" fill="none" stroke="#a49ccc" stroke-width="1.15" stroke-linejoin="round"/>
<path d="M388.30,523.20 L388.78,524.36 L389.25,525.56 L389.73,526.77 L390.21,528.00 L390.69,529.24 L391.16,530.47 L391.64,531.69 L392.12,532.89 L392.59,534.07 L393.07,535.20 L393.55,536.29 L394.03,537.33 L394.50,538.30 L394.98,539.21 L395.46,540.06 L395.93,540.89 L396.41,541.70 L396.89,542.49 L397.36,543.26 L397.84,544.00 L398.32,544.72 L398.80,545.41 L399.27,546.08 L399.75,546.73 L400.23,547.35 L400.70,547.95 L401.18,548.51 L401.66,549.06 L402.14,549.57 L402.61,550.07 L403.09,550.56 L403.57,551.04 L404.04,551.51 L404.52,551.97 L405.00,552.42 L405.48,552.85 L405.95,553.28 L406.43,553.69 L406.91,554.09 L407.38,554.47 L407.86,554.84 L408.34,555.19 L408.81,555.52 L409.29,555.84 L409.77,556.14 L410.25,556.42 L410.72,556.68 L411.20,556.92 L411.68,557.15 L412.15,557.37 L412.63,557.59 L413.11,557.81 L413.59,558.02 L414.06,558.23 L414.54,558.43 L415.02,558.64 L415.49,558.83 L415.97,559.03 L416.45,559.22 L416.93,559.41 L417.40,559.59 L417.88,559.77 L418.36,559.95 L418.83,560.12 L419.31,560.29 L419.79,560.46 L420.26,560.62 L420.74,560.78 L421.22,560.94 L421.70,561.09 L422.17,561.24 L422.65,561.39 L423.13,561.54 L423.60,561.68 L424.08,561.82 L424.56,561.95 L425.04,562.08 L425.51,562.21 L425.99,562.34 L426.47,562.46 L426.94,562.58 L427.42,562.70 L427.90,562.82 L428.38,562.93 L428.85,563.04 L429.33,563.14 L429.81,563.25 L430.28,563.35 L430.76,563.45 L431.24,563.54 L431.71,563.64 L432.19,563.73 L432.67,563.82 L433.15,563.90 L433.62,563.99 L434.10,564.07 L434.58,564.15 L435.05,564.22 L435.53,564.30 L436.01,564.37 L436.49,564.44 L436.96,564.51 L437.44,564.58 L437.92,564.64 L438.39,564.71 L438.87,564.77 L439.35,564.83 L439.82,564.89 L440.30,564.95 L440.78,565.00 L441.26,565.06 L441.73,565.11 L442.21,565.17 L442.69,565.22 L443.16,565.27 L443.64,565.32 L444.12,565.37 L444.60,565.42 L445.07,565.47 L445.55,565.52 L446.03,565.56 L446.50,565.61 L446.98,565.66 L447.46,565.70 L447.94,565.75 L448.41,565.80 L448.89,565.84 L449.37,565.89 L449.84,565.94 L450.32,565.98 L450.80,566.03 L451.28,566.08 L451.75,566.12 L452.23,566.17 L452.71,566.22 L453.18,566.27 L453.66,566.32 L454.14,566.37 L454.61,566.42 L455.09,566.47 L455.57,566.53 L456.05,566.58 L456.52,566.64 L457.00,566.69 L457.48,566.75 L457.95,566.81 L458.43,566.87 L458.91,566.93 L459.39,566.99 L459.86,567.05 L460.34,567.11 L460.82,567.18 L461.29,567.24 L461.77,567.30 L462.25,567.37 L462.73,567.43 L463.20,567.49 L463.68,567.56 L464.16,567.62 L464.63,567.69 L465.11,567.75 L465.59,567.82 L466.06,567.89 L466.54,567.95 L467.02,568.02 L467.50,568.08 L467.97,568.15 L468.45,568.21 L468.93,568.28 L469.40,568.34 L469.88,568.40 L470.36,568.47 L470.84,568.53 L471.31,568.59 L471.79,568.66 L472.27,568.72 L472.74,568.78 L473.22,568.84 L473.70,568.90 L474.18,568.96 L474.65,569.01 L475.13,569.07 L475.61,569.13 L476.08,569.18 L476.56,569.23 L477.04,569.29 L477.51,569.34 L477.99,569.39 L478.47,569.44 L478.95,569.49 L479.42,569.53 L479.90,569.58 L480.38,569.62 L480.85,569.67 L481.33,569.71 L481.81,569.75 L482.29,569.79 L482.76,569.83 L483.24,569.87 L483.72,569.91 L484.19,569.95 L484.67,569.99 L485.15,570.03 L485.62,570.07 L486.10,570.10 L486.58,570.14 L487.06,570.18 L487.53,570.21 L488.01,570.25 L488.49,570.28 L488.96,570.32 L489.44,570.35 L489.92,570.39 L490.40,570.42 L490.87,570.45 L491.35,570.49 L491.83,570.52 L492.30,570.55 L492.78,570.59 L493.26,570.62 L493.74,570.65 L494.21,570.68 L494.69,570.72 L495.17,570.75 L495.64,570.78 L496.12,570.81 L496.60,570.85 L497.07,570.88 L497.55,570.91 L498.03,570.94 L498.51,570.98 L498.98,571.01 L499.46,571.04 L499.94,571.08 L500.41,571.11 L500.89,571.15 L501.37,571.18 L501.85,571.21 L502.32,571.25 L502.80,571.28" fill="none" stroke="#cc3a90" stroke-width="1.15" stroke-linejoin="round"/>
<path d="M388.30,523.20 L388.78,524.20 L389.25,525.22 L389.73,526.25 L390.21,527.30 L390.69,528.34 L391.16,529.39 L391.64,530.43 L392.12,531.45 L392.59,532.46 L393.07,533.44 L393.55,534.39 L394.03,535.29 L394.50,536.16 L394.98,536.98 L395.46,537.76 L395.93,538.53 L396.41,539.28 L396.89,540.02 L397.36,540.74 L397.84,541.44 L398.32,542.13 L398.80,542.79 L399.27,543.44 L399.75,544.06 L400.23,544.66 L400.70,545.24 L401.18,545.79 L401.66,546.32 L402.14,546.82 L402.61,547.30 L403.09,547.77 L403.57,548.24 L404.04,548.70 L404.52,549.15 L405.00,549.59 L405.48,550.02 L405.95,550.43 L406.43,550.84 L406.91,551.23 L407.38,551.60 L407.86,551.97 L408.34,552.31 L408.81,552.64 L409.29,552.96 L409.77,553.25 L410.25,553.53 L410.72,553.79 L411.20,554.03 L411.68,554.26 L412.15,554.48 L412.63,554.70 L413.11,554.92 L413.59,555.13 L414.06,555.33 L414.54,555.53 L415.02,555.73 L415.49,555.93 L415.97,556.12 L416.45,556.30 L416.93,556.49 L417.40,556.67 L417.88,556.84 L418.36,557.02 L418.83,557.18 L419.31,557.35 L419.79,557.51 L420.26,557.67 L420.74,557.83 L421.22,557.98 L421.70,558.13 L422.17,558.28 L422.65,558.42 L423.13,558.57 L423.60,558.71 L424.08,558.84 L424.56,558.98 L425.04,559.11 L425.51,559.24 L425.99,559.37 L426.47,559.49 L426.94,559.61 L427.42,559.73 L427.90,559.85 L428.38,559.97 L428.85,560.08 L429.33,560.20 L429.81,560.31 L430.28,560.42 L430.76,560.53 L431.24,560.63 L431.71,560.74 L432.19,560.84 L432.67,560.95 L433.15,561.05 L433.62,561.15 L434.10,561.25 L434.58,561.35 L435.05,561.44 L435.53,561.54 L436.01,561.63 L436.49,561.72 L436.96,561.81 L437.44,561.89 L437.92,561.98 L438.39,562.06 L438.87,562.14 L439.35,562.22 L439.82,562.30 L440.30,562.38 L440.78,562.45 L441.26,562.53 L441.73,562.60 L442.21,562.68 L442.69,562.75 L443.16,562.82 L443.64,562.89 L444.12,562.96 L444.60,563.03 L445.07,563.09 L445.55,563.16 L446.03,563.23 L446.50,563.30 L446.98,563.36 L447.46,563.43 L447.94,563.49 L448.41,563.56 L448.89,563.62 L449.37,563.69 L449.84,563.76 L450.32,563.82 L450.80,563.89 L451.28,563.95 L451.75,564.02 L452.23,564.09 L452.71,564.15 L453.18,564.22 L453.66,564.29 L454.14,564.36 L454.61,564.43 L455.09,564.50 L455.57,564.57 L456.05,564.64 L456.52,564.72 L457.00,564.79 L457.48,564.87 L457.95,564.94 L458.43,565.02 L458.91,565.10 L459.39,565.18 L459.86,565.26 L460.34,565.34 L460.82,565.42 L461.29,565.50 L461.77,565.59 L462.25,565.67 L462.73,565.75 L463.20,565.84 L463.68,565.92 L464.16,566.00 L464.63,566.09 L465.11,566.17 L465.59,566.26 L466.06,566.34 L466.54,566.42 L467.02,566.51 L467.50,566.59 L467.97,566.67 L468.45,566.76 L468.93,566.84 L469.40,566.92 L469.88,567.00 L470.36,567.08 L470.84,567.16 L471.31,567.24 L471.79,567.32 L472.27,567.40 L472.74,567.48 L473.22,567.55 L473.70,567.63 L474.18,567.70 L474.65,567.77 L475.13,567.84 L475.61,567.91 L476.08,567.98 L476.56,568.05 L477.04,568.11 L477.51,568.17 L477.99,568.24 L478.47,568.30 L478.95,568.35 L479.42,568.41 L479.90,568.46 L480.38,568.52 L480.85,568.57 L481.33,568.62 L481.81,568.67 L482.29,568.72 L482.76,568.77 L483.24,568.81 L483.72,568.86 L484.19,568.91 L484.67,568.95 L485.15,569.00 L485.62,569.04 L486.10,569.08 L486.58,569.13 L487.06,569.17 L487.53,569.21 L488.01,569.25 L488.49,569.29 L488.96,569.33 L489.44,569.37 L489.92,569.41 L490.40,569.45 L490.87,569.48 L491.35,569.52 L491.83,569.56 L492.30,569.60 L492.78,569.64 L493.26,569.67 L493.74,569.71 L494.21,569.75 L494.69,569.78 L495.17,569.82 L495.64,569.86 L496.12,569.89 L496.60,569.93 L497.07,569.97 L497.55,570.01 L498.03,570.04 L498.51,570.08 L498.98,570.12 L499.46,570.16 L499.94,570.19 L500.41,570.23 L500.89,570.27 L501.37,570.31 L501.85,570.35 L502.32,570.39 L502.80,570.43" fill="none" stroke="#4a3458" stroke-width="1.15" stroke-linejoin="round"/>
<text x="356.80" y="621.80" font-size="7.0" textLength="38.0" lengthAdjust="spacingAndGlyphs" stroke="#231f20" stroke-width="0.1">Number at risk</text>
<text x="376.00" y="631.70" font-size="7.36" text-anchor="end" textLength="14.9" lengthAdjust="spacingAndGlyphs" fill="#6a4a80" stroke="#6a4a80" stroke-width="0.1">High:</text>
<text x="388.30" y="631.70" font-size="7.13" text-anchor="middle" textLength="13.8" lengthAdjust="spacingAndGlyphs" stroke="#231f20" stroke-width="0.1">1914</text>
<text x="411.20" y="631.70" font-size="7.13" text-anchor="middle" textLength="10.3" lengthAdjust="spacingAndGlyphs" stroke="#231f20" stroke-width="0.1">659</text>
<text x="434.10" y="631.70" font-size="7.13" text-anchor="middle" textLength="10.3" lengthAdjust="spacingAndGlyphs" stroke="#231f20" stroke-width="0.1">343</text>
<text x="457.00" y="631.70" font-size="7.13" text-anchor="middle" textLength="10.3" lengthAdjust="spacingAndGlyphs" stroke="#231f20" stroke-width="0.1">198</text>
<text x="479.90" y="631.70" font-size="7.13" text-anchor="middle" textLength="6.9" lengthAdjust="spacingAndGlyphs" stroke="#231f20" stroke-width="0.1">97</text>
<text x="502.80" y="631.70" font-size="7.13" text-anchor="middle" textLength="6.9" lengthAdjust="spacingAndGlyphs" stroke="#231f20" stroke-width="0.1">32</text>
<text x="376.00" y="641.45" font-size="7.36" text-anchor="end" textLength="20.6" lengthAdjust="spacingAndGlyphs" fill="#dc4590" stroke="#dc4590" stroke-width="0.1">Middle:</text>
<text x="388.30" y="641.45" font-size="7.13" text-anchor="middle" textLength="13.8" lengthAdjust="spacingAndGlyphs" stroke="#231f20" stroke-width="0.1">2174</text>
<text x="411.20" y="641.45" font-size="7.13" text-anchor="middle" textLength="10.3" lengthAdjust="spacingAndGlyphs" stroke="#231f20" stroke-width="0.1">883</text>
<text x="434.10" y="641.45" font-size="7.13" text-anchor="middle" textLength="10.3" lengthAdjust="spacingAndGlyphs" stroke="#231f20" stroke-width="0.1">483</text>
<text x="457.00" y="641.45" font-size="7.13" text-anchor="middle" textLength="10.3" lengthAdjust="spacingAndGlyphs" stroke="#231f20" stroke-width="0.1">282</text>
<text x="479.90" y="641.45" font-size="7.13" text-anchor="middle" textLength="10.3" lengthAdjust="spacingAndGlyphs" stroke="#231f20" stroke-width="0.1">132</text>
<text x="502.80" y="641.45" font-size="7.13" text-anchor="middle" textLength="6.9" lengthAdjust="spacingAndGlyphs" stroke="#231f20" stroke-width="0.1">36</text>
<text x="376.00" y="651.20" font-size="7.36" text-anchor="end" textLength="13.5" lengthAdjust="spacingAndGlyphs" fill="#9c98bc" stroke="#9c98bc" stroke-width="0.1">Low:</text>
<text x="388.30" y="651.20" font-size="7.13" text-anchor="middle" textLength="10.3" lengthAdjust="spacingAndGlyphs" stroke="#231f20" stroke-width="0.1">387</text>
<text x="411.20" y="651.20" font-size="7.13" text-anchor="middle" textLength="10.3" lengthAdjust="spacingAndGlyphs" stroke="#231f20" stroke-width="0.1">130</text>
<text x="434.10" y="651.20" font-size="7.13" text-anchor="middle" textLength="6.9" lengthAdjust="spacingAndGlyphs" stroke="#231f20" stroke-width="0.1">76</text>
<text x="457.00" y="651.20" font-size="7.13" text-anchor="middle" textLength="6.9" lengthAdjust="spacingAndGlyphs" stroke="#231f20" stroke-width="0.1">46</text>
<text x="479.90" y="651.20" font-size="7.13" text-anchor="middle" textLength="6.9" lengthAdjust="spacingAndGlyphs" stroke="#231f20" stroke-width="0.1">18</text>
<text x="502.80" y="651.20" font-size="7.13" text-anchor="middle" textLength="3.4" lengthAdjust="spacingAndGlyphs" stroke="#231f20" stroke-width="0.1">7</text>
</g>
<rect x="0.5" y="0.5" width="519" height="658" fill="none" stroke="#666" stroke-width="1"/>
</svg></body></html>
